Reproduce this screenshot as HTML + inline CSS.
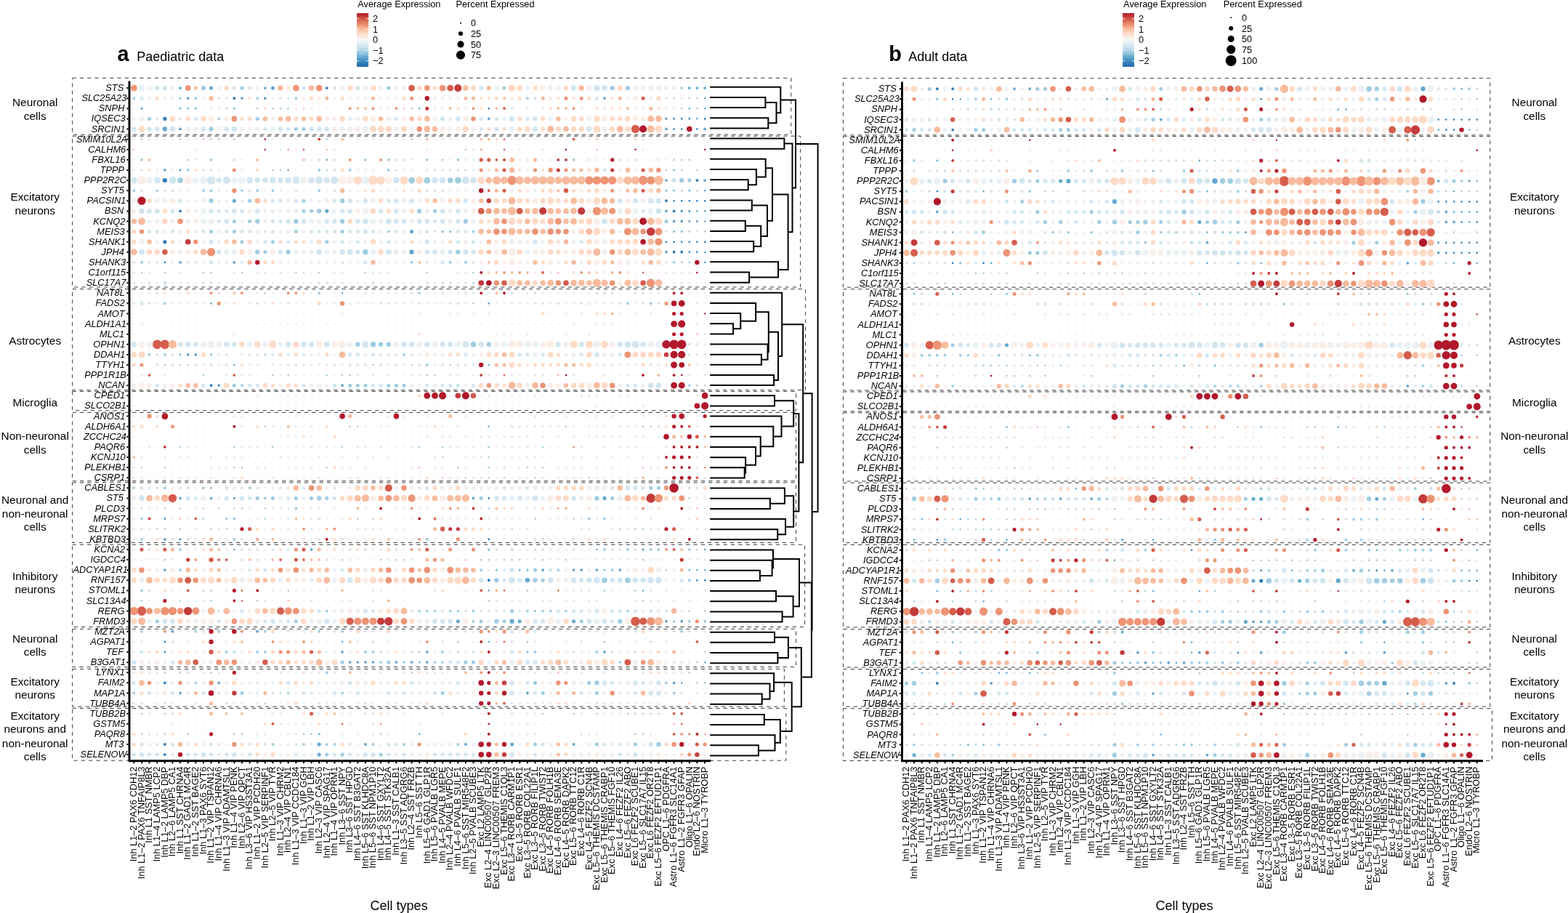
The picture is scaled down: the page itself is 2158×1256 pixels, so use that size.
<!DOCTYPE html>
<html lang="en"><head><meta charset="utf-8"><title>Dot plot: paediatric and adult data</title>
<style>html,body{margin:0;padding:0;background:#fff}svg{display:block}</style></head>
<body>
<svg xmlns="http://www.w3.org/2000/svg" width="2158" height="1256" viewBox="0 0 2158 1256" font-family='"Liberation Sans", Arial, Helvetica, sans-serif' fill="#000">
<rect width="2158" height="1256" fill="#fff"/>
<g fill="none" stroke="#3a3a3a" stroke-width="1" stroke-dasharray="5.3 5">
<rect x="99.6" y="107.3" width="989.2" height="77.9"/>
<rect x="99.6" y="187.2" width="1002" height="207.8"/>
<rect x="99.6" y="397.6" width="1009" height="139.1"/>
<rect x="99.6" y="538.4" width="995.9" height="26.4"/>
<rect x="99.6" y="567.4" width="995.9" height="94.3"/>
<rect x="99.6" y="663.9" width="995.9" height="82.5"/>
<rect x="99.6" y="749.2" width="1008" height="113.3"/>
<rect x="99.6" y="865.3" width="995.9" height="52.3"/>
<rect x="99.6" y="920.4" width="979.8" height="51.7"/>
<rect x="99.6" y="974.4" width="982.2" height="71.8"/>
</g>
<g fill="none" stroke-linecap="round">
<path stroke="#317cb7" stroke-width="1.4" d="M226.9 262.2h0"/>
<path stroke="#317cb7" stroke-width="2.65" d="M195 149.3h0M672.8 149.3h0M917 163.4h0M927.6 163.4h0M938.2 163.4h0M948.8 163.4h0M970.1 163.4h0M927.6 177.5h0M938.2 177.5h0M959.4 177.5h0M248.1 234h0M927.6 276.3h0M938.2 276.3h0M948.8 276.3h0M959.4 276.3h0M970.1 276.3h0M948.8 290.4h0M948.8 304.5h0M959.4 304.5h0M917 332.7h0M927.6 332.7h0M938.2 332.7h0M948.8 332.7h0M959.4 332.7h0M970.1 332.7h0M948.8 346.8h0M959.4 346.8h0M226.9 360.9h0M322.4 685.4h0M672.8 685.4h0M226.9 713.6h0M248.1 741.9h0M672.8 741.9h0M885.1 756h0M959.4 798.3h0M970.1 798.3h0M226.9 882.9h0M226.9 897h0"/>
<path stroke="#317cb7" stroke-width="3.9" d="M449.8 121.1h0M322.4 135.2h0M959.4 248.1h0M917 276.3h0M248.1 290.4h0M927.6 290.4h0M927.6 346.8h0M938.2 346.8h0M290.6 530.2h0M672.8 798.3h0M226.9 939.4h0M226.9 1024h0M226.9 1038.1h0"/>
<path stroke="#317cb7" stroke-width="5.15" d="M226.9 163.4h0M226.9 332.7h0"/>
<path stroke="#317cb7" stroke-width="6.4" d="M226.9 248.1h0"/>
<path stroke="#66a9cf" stroke-width="1.4" d="M195 516.1h0M333 516.1h0"/>
<path stroke="#66a9cf" stroke-width="2.65" d="M248.1 135.2h0M970.1 135.2h0M248.1 149.3h0M258.7 149.3h0M269.3 149.3h0M322.4 149.3h0M577.2 149.3h0M948.8 149.3h0M970.1 149.3h0M959.4 163.4h0M449.8 219.9h0M587.8 219.9h0M396.7 234h0M927.6 234h0M216.3 262.2h0M333 262.2h0M917 262.2h0M927.6 262.2h0M948.8 262.2h0M970.1 262.2h0M959.4 290.4h0M970.1 290.4h0M970.1 304.5h0M927.6 318.6h0M938.2 318.6h0M970.1 346.8h0M927.6 360.9h0M970.1 360.9h0M471.1 403.3h0M577.2 403.3h0M290.6 417.4h0M672.8 417.4h0M248.1 487.9h0M290.6 487.9h0M322.4 502h0M672.8 502h0M948.8 530.2h0M672.8 586.7h0M290.6 671.3h0M195 713.6h0M311.8 713.6h0M322.4 756h0M821.4 756h0M948.8 756h0M970.1 756h0M715.2 784.2h0M832 784.2h0M948.8 784.2h0M959.4 784.2h0M970.1 784.2h0M195 812.4h0M672.8 812.4h0M885.1 812.4h0M736.5 840.6h0M927.6 854.7h0M471.1 882.9h0M672.8 882.9h0M556 911.1h0M577.2 911.1h0M853.3 911.1h0M970.1 911.1h0M938.2 939.4h0M439.2 1009.9h0M577.2 1009.9h0"/>
<path stroke="#66a9cf" stroke-width="3.9" d="M248.1 121.1h0M364.9 121.1h0M948.8 121.1h0M959.4 121.1h0M970.1 121.1h0M258.7 135.2h0M333 135.2h0M364.9 135.2h0M832 135.2h0M672.8 163.4h0M248.1 177.5h0M917 177.5h0M970.1 177.5h0M226.9 234h0M917 248.1h0M970.1 248.1h0M917 290.4h0M938.2 290.4h0M927.6 304.5h0M938.2 304.5h0M917 346.8h0M248.1 360.9h0M322.4 360.9h0M258.7 487.9h0M269.3 487.9h0M301.2 530.2h0M471.1 530.2h0M248.1 685.4h0M290.6 685.4h0M651.5 685.4h0M226.9 741.9h0M428.6 756h0M226.9 784.2h0M747.1 784.2h0M789.6 784.2h0M800.2 784.2h0M821.4 784.2h0M853.3 784.2h0M917 854.7h0M938.2 854.7h0M237.5 868.8h0M354.3 868.8h0M471.1 897h0M587.8 897h0M832 897h0M481.7 911.1h0M492.3 911.1h0M502.9 911.1h0M513.5 911.1h0M545.4 911.1h0M566.6 911.1h0M587.8 911.1h0M301.2 939.4h0M927.6 939.4h0M248.1 953.5h0M725.9 953.5h0M502.9 1024h0M640.9 1024h0M789.6 1024h0"/>
<path stroke="#66a9cf" stroke-width="5.15" d="M290.6 121.1h0M375.5 121.1h0M322.4 276.3h0M449.8 290.4h0M566.6 318.6h0M832 685.4h0M630.3 854.7h0M715.2 854.7h0M789.6 854.7h0M439.2 1024h0M704.6 1024h0M439.2 1038.1h0"/>
<path stroke="#66a9cf" stroke-width="6.4" d="M226.9 177.5h0M566.6 346.8h0M725.9 798.3h0M704.6 854.7h0"/>
<path stroke="#a1cde2" stroke-width="2.65" d="M948.8 135.2h0M959.4 135.2h0M311.8 149.3h0M354.3 149.3h0M375.5 149.3h0M386.1 149.3h0M396.7 149.3h0M566.6 149.3h0M938.2 149.3h0M959.4 149.3h0M195 191.6h0M248.1 191.6h0M290.6 191.6h0M301.2 191.6h0M322.4 191.6h0M449.8 191.6h0M566.6 191.6h0M640.9 205.7h0M258.7 219.9h0M609.1 219.9h0M927.6 219.9h0M938.2 219.9h0M948.8 219.9h0M375.5 234h0M386.1 234h0M917 234h0M938.2 234h0M959.4 234h0M598.5 262.2h0M938.2 262.2h0M959.4 262.2h0M948.8 318.6h0M970.1 318.6h0M938.2 360.9h0M948.8 360.9h0M195 375h0M226.9 375h0M280 375h0M290.6 375h0M333 375h0M407.4 375h0M439.2 375h0M502.9 375h0M587.8 375h0M651.5 375h0M609.1 389.2h0M619.7 389.2h0M651.5 389.2h0M216.3 403.3h0M364.9 403.3h0M736.5 403.3h0M821.4 403.3h0M832 403.3h0M842.7 403.3h0M874.5 403.3h0M885.1 403.3h0M651.5 417.4h0M364.9 487.9h0M948.8 487.9h0M226.9 502h0M248.1 502h0M258.7 502h0M407.4 502h0M513.5 502h0M566.6 502h0M619.7 502h0M280 516.1h0M375.5 516.1h0M396.7 516.1h0M449.8 516.1h0M471.1 516.1h0M481.7 516.1h0M587.8 516.1h0M598.5 516.1h0M959.4 530.2h0M970.1 530.2h0M364.9 586.7h0M481.7 586.7h0M492.3 586.7h0M779 586.7h0M885.1 586.7h0M895.7 586.7h0M248.1 614.9h0M322.4 614.9h0M375.5 614.9h0M471.1 614.9h0M577.2 614.9h0M609.1 614.9h0M672.8 614.9h0M747.1 614.9h0M609.1 629h0M672.8 629h0M195 643.1h0M226.9 643.1h0M322.4 643.1h0M333 643.1h0M449.8 643.1h0M630.3 643.1h0M672.8 643.1h0M725.9 643.1h0M747.1 643.1h0M640.9 657.2h0M672.8 657.2h0M736.5 657.2h0M810.8 657.2h0M258.7 671.3h0M333 671.3h0M948.8 671.3h0M948.8 685.4h0M195 699.5h0M226.9 699.5h0M248.1 699.5h0M280 699.5h0M301.2 699.5h0M322.4 699.5h0M333 699.5h0M364.9 699.5h0M672.8 699.5h0M280 713.6h0M364.9 713.6h0M492.3 713.6h0M513.5 713.6h0M736.5 713.6h0M789.6 713.6h0M216.3 727.7h0M226.9 727.7h0M248.1 727.7h0M290.6 727.7h0M311.8 727.7h0M704.6 727.7h0M853.3 727.7h0M874.5 727.7h0M885.1 727.7h0M258.7 741.9h0M333 741.9h0M842.7 756h0M959.4 756h0M226.9 770.1h0M471.1 770.1h0M524.1 770.1h0M545.4 770.1h0M556 770.1h0M662.2 770.1h0M672.8 770.1h0M694 770.1h0M715.2 770.1h0M747.1 770.1h0M779 770.1h0M885.1 770.1h0M917 784.2h0M205.6 812.4h0M290.6 812.4h0M396.7 812.4h0M725.9 812.4h0M832 812.4h0M874.5 812.4h0M195 826.5h0M248.1 826.5h0M290.6 826.5h0M354.3 826.5h0M672.8 826.5h0M885.1 826.5h0M640.9 840.6h0M948.8 840.6h0M970.1 840.6h0M927.6 868.8h0M948.8 868.8h0M513.5 882.9h0M630.3 882.9h0M725.9 882.9h0M832 882.9h0M895.7 882.9h0M577.2 897h0M651.5 897h0M970.1 897h0M959.4 911.1h0M226.9 925.3h0M248.1 925.3h0M290.6 925.3h0M566.6 925.3h0M948.8 925.3h0M959.4 939.4h0M970.1 939.4h0M195 981.7h0M226.9 981.7h0M704.6 981.7h0M747.1 981.7h0M789.6 981.7h0M821.4 981.7h0M863.9 981.7h0M885.1 981.7h0M895.7 981.7h0M906.4 981.7h0M195 1009.9h0M226.9 1009.9h0M258.7 1009.9h0M322.4 1009.9h0M333 1009.9h0M418 1009.9h0M428.6 1009.9h0M524.1 1009.9h0M874.5 1009.9h0M885.1 1009.9h0"/>
<path stroke="#a1cde2" stroke-width="3.9" d="M938.2 121.1h0M184.4 135.2h0M269.3 135.2h0M354.3 135.2h0M407.4 135.2h0M725.9 135.2h0M301.2 163.4h0M195 219.9h0M290.6 219.9h0M502.9 219.9h0M534.8 219.9h0M630.3 219.9h0M789.6 219.9h0M258.7 234h0M439.2 234h0M481.7 234h0M534.8 234h0M184.4 262.2h0M280 262.2h0M290.6 262.2h0M354.3 262.2h0M375.5 262.2h0M439.2 262.2h0M534.8 318.6h0M609.1 318.6h0M619.7 318.6h0M651.5 318.6h0M195 360.9h0M566.6 360.9h0M619.7 360.9h0M640.9 360.9h0M439.2 403.3h0M226.9 417.4h0M863.9 417.4h0M895.7 417.4h0M205.6 487.9h0M226.9 487.9h0M556 487.9h0M587.8 502h0M333 530.2h0M184.4 671.3h0M226.9 671.3h0M280 671.3h0M343.7 671.3h0M364.9 685.4h0M407.4 699.5h0M322.4 713.6h0M810.8 713.6h0M832 713.6h0M195 741.9h0M322.4 741.9h0M587.8 741.9h0M248.1 756h0M672.8 756h0M832 756h0M863.9 756h0M895.7 756h0M906.4 756h0M248.1 784.2h0M662.2 784.2h0M683.4 784.2h0M725.9 784.2h0M768.3 784.2h0M842.7 784.2h0M948.8 798.3h0M449.8 840.6h0M577.2 840.6h0M587.8 840.6h0M598.5 840.6h0M619.7 840.6h0M630.3 840.6h0M651.5 840.6h0M725.9 840.6h0M747.1 840.6h0M757.7 840.6h0M779 840.6h0M863.9 840.6h0M651.5 854.7h0M948.8 854.7h0M970.1 854.7h0M195 868.8h0M269.3 868.8h0M301.2 868.8h0M364.9 868.8h0M439.2 868.8h0M471.1 868.8h0M938.2 868.8h0M311.8 897h0M354.3 897h0M364.9 897h0M502.9 897h0M513.5 897h0M609.1 897h0M725.9 897h0M736.5 897h0M821.4 897h0M524.1 911.1h0M598.5 911.1h0M609.1 911.1h0M449.8 925.3h0M269.3 939.4h0M917 939.4h0M184.4 953.5h0M396.7 953.5h0M471.1 953.5h0M927.6 953.5h0M375.5 1024h0M418 1024h0M449.8 1024h0M460.4 1024h0M513.5 1024h0M556 1024h0M630.3 1024h0"/>
<path stroke="#a1cde2" stroke-width="5.15" d="M333 121.1h0M534.8 121.1h0M694 121.1h0M205.6 163.4h0M354.3 163.4h0M407.4 177.5h0M418 177.5h0M948.8 248.1h0M343.7 276.3h0M418 276.3h0M418 290.4h0M428.6 290.4h0M598.5 290.4h0M322.4 304.5h0M343.7 304.5h0M917 304.5h0M290.6 318.6h0M322.4 318.6h0M407.4 318.6h0M471.1 318.6h0M333 332.7h0M375.5 332.7h0M449.8 332.7h0M364.9 346.8h0M322.4 530.2h0M481.7 530.2h0M492.3 530.2h0M502.9 530.2h0M534.8 530.2h0M545.4 530.2h0M556 530.2h0M895.7 671.3h0M906.4 671.3h0M354.3 685.4h0M375.5 685.4h0M407.4 685.4h0M428.6 685.4h0M449.8 685.4h0M662.2 685.4h0M842.7 685.4h0M736.5 784.2h0M747.1 798.3h0M704.6 840.6h0M216.3 854.7h0M407.4 854.7h0M662.2 854.7h0M694 854.7h0M800.2 854.7h0M471.1 911.1h0M534.8 911.1h0M640.9 911.1h0M651.5 911.1h0M736.5 939.4h0M810.8 939.4h0M333 953.5h0M609.1 953.5h0M747.1 953.5h0M821.4 953.5h0M736.5 1024h0M821.4 1024h0M874.5 1024h0M449.8 1038.1h0M471.1 1038.1h0M524.1 1038.1h0"/>
<path stroke="#a1cde2" stroke-width="6.4" d="M280 121.1h0M842.7 121.1h0M863.9 121.1h0M290.6 177.5h0M938.2 248.1h0M290.6 276.3h0M471.1 276.3h0M439.2 290.4h0M577.2 290.4h0M354.3 304.5h0M407.4 304.5h0M471.1 304.5h0M640.9 304.5h0M354.3 346.8h0M396.7 346.8h0M630.3 346.8h0M492.3 473.8h0M524.1 473.8h0M534.8 473.8h0M672.8 473.8h0M439.2 685.4h0M821.4 685.4h0M683.4 798.3h0M736.5 798.3h0M683.4 854.7h0M853.3 854.7h0M821.4 939.4h0M906.4 1024h0"/>
<path stroke="#a1cde2" stroke-width="7.65" d="M248.1 248.1h0M619.7 248.1h0M502.9 346.8h0M513.5 473.8h0M651.5 473.8h0M832 798.3h0M863.9 798.3h0"/>
<path stroke="#a1cde2" stroke-width="8.9" d="M566.6 248.1h0M587.8 248.1h0M630.3 248.1h0"/>
<path stroke="#b2182b" stroke-width="2.65" d="M364.9 191.6h0M779 205.7h0M874.5 205.7h0M970.1 205.7h0M959.4 375h0M779 516.1h0M938.2 516.1h0M672.8 995.8h0"/>
<path stroke="#b2182b" stroke-width="3.9" d="M662.2 375h0M662.2 403.3h0M694 403.3h0M927.6 403.3h0M938.2 403.3h0M885.1 516.1h0M927.6 516.1h0M322.4 586.7h0M938.2 586.7h0M927.6 614.9h0M938.2 614.9h0M948.8 614.9h0M959.4 614.9h0M917 629h0M948.8 629h0M927.6 643.1h0M938.2 643.1h0M948.8 643.1h0M524.1 699.5h0M938.2 699.5h0M577.2 713.6h0M662.2 713.6h0M449.8 741.9h0M948.8 741.9h0M354.3 812.4h0M322.4 826.5h0M662.2 882.9h0M672.8 897h0M672.8 925.3h0M672.8 981.7h0M672.8 1009.9h0M959.4 1009.9h0"/>
<path stroke="#b2182b" stroke-width="5.15" d="M842.7 219.9h0M927.6 431.5h0M938.2 431.5h0M927.6 459.7h0M938.2 459.7h0M970.1 572.6h0M927.6 586.7h0M927.6 629h0M938.2 629h0M927.6 657.2h0M938.2 657.2h0M948.8 657.2h0M333 727.7h0M917 727.7h0M322.4 812.4h0M226.9 826.5h0M322.4 925.3h0M672.8 939.4h0M672.8 953.5h0M672.8 967.6h0M290.6 1009.9h0"/>
<path stroke="#b2182b" stroke-width="6.4" d="M587.8 135.2h0M662.2 262.2h0M354.3 360.9h0M959.4 360.9h0M662.2 502h0M927.6 572.6h0M948.8 600.8h0M290.6 868.8h0M322.4 868.8h0M290.6 882.9h0M662.2 953.5h0M694 953.5h0M662.2 967.6h0M672.8 1024h0M694 1024h0M938.2 1024h0M248.1 1038.1h0"/>
<path stroke="#b2182b" stroke-width="7.65" d="M948.8 177.5h0M885.1 332.7h0M672.8 389.2h0M927.6 417.4h0M938.2 502h0M959.4 558.4h0M471.1 572.6h0M545.4 572.6h0M938.2 572.6h0M917 600.8h0M662.2 939.4h0M290.6 953.5h0M662.2 1024h0M662.2 1038.1h0M672.8 1038.1h0"/>
<path stroke="#b2182b" stroke-width="8.9" d="M938.2 417.4h0M927.6 445.6h0M927.6 502h0M927.6 530.2h0M938.2 530.2h0M587.8 544.3h0M598.5 544.3h0M970.1 544.3h0M226.9 572.6h0"/>
<path stroke="#b2182b" stroke-width="10.15" d="M885.1 177.5h0M885.1 304.5h0M938.2 445.6h0M927.6 487.9h0M938.2 487.9h0M609.1 544.3h0M640.9 544.3h0M970.1 558.4h0"/>
<path stroke="#b2182b" stroke-width="11.4" d="M195 276.3h0M917 473.8h0"/>
<path stroke="#b2182b" stroke-width="12.65" d="M927.6 473.8h0M938.2 473.8h0M927.6 671.3h0"/>
<path stroke="#c33b3b" stroke-width="2.65" d="M364.9 205.7h0M970.1 431.5h0"/>
<path stroke="#c33b3b" stroke-width="3.9" d="M439.2 191.6h0M694 219.9h0M768.3 219.9h0M779 219.9h0M662.2 516.1h0M226.9 614.9h0M651.5 699.5h0M205.6 713.6h0"/>
<path stroke="#c33b3b" stroke-width="5.15" d="M587.8 149.3h0M768.3 234h0M842.7 234h0M619.7 727.7h0M630.3 727.7h0M258.7 770.1h0M938.2 770.1h0"/>
<path stroke="#c33b3b" stroke-width="6.4" d="M672.8 276.3h0M917 487.9h0M694 939.4h0M322.4 953.5h0M694 1038.1h0M959.4 1038.1h0"/>
<path stroke="#c33b3b" stroke-width="7.65" d="M258.7 332.7h0M662.2 389.2h0M630.3 544.3h0"/>
<path stroke="#c33b3b" stroke-width="10.15" d="M630.3 121.1h0M747.1 290.4h0M800.2 290.4h0M524.1 854.7h0"/>
<path stroke="#c33b3b" stroke-width="11.4" d="M895.7 318.6h0M258.7 840.6h0M534.8 854.7h0"/>
<path stroke="#c33b3b" stroke-width="12.65" d="M895.7 685.4h0"/>
<path stroke="#d3e6f0" stroke-width="1.4" d="M301.2 205.7h0M354.3 205.7h0M481.7 205.7h0M672.8 205.7h0M704.6 205.7h0M725.9 205.7h0M736.5 205.7h0M959.4 205.7h0"/>
<path stroke="#d3e6f0" stroke-width="2.65" d="M938.2 135.2h0M290.6 149.3h0M428.6 149.3h0M725.9 149.3h0M747.1 149.3h0M917 149.3h0M927.6 149.3h0M205.6 191.6h0M258.7 191.6h0M269.3 191.6h0M407.4 191.6h0M492.3 191.6h0M556 191.6h0M609.1 191.6h0M619.7 191.6h0M885.1 191.6h0M386.1 205.7h0M587.8 205.7h0M651.5 205.7h0M885.1 205.7h0M269.3 219.9h0M566.6 219.9h0M598.5 219.9h0M619.7 219.9h0M917 219.9h0M301.2 234h0M970.1 234h0M258.7 262.2h0M301.2 262.2h0M386.1 262.2h0M524.1 262.2h0M959.4 318.6h0M184.4 375h0M205.6 375h0M248.1 375h0M322.4 375h0M354.3 375h0M364.9 375h0M386.1 375h0M418 375h0M460.4 375h0M471.1 375h0M513.5 375h0M524.1 375h0M534.8 375h0M630.3 375h0M640.9 375h0M917 375h0M927.6 375h0M938.2 375h0M948.8 375h0M195 389.2h0M216.3 389.2h0M237.5 389.2h0M248.1 389.2h0M258.7 389.2h0M301.2 389.2h0M333 389.2h0M364.9 389.2h0M375.5 389.2h0M407.4 389.2h0M418 389.2h0M428.6 389.2h0M460.4 389.2h0M492.3 389.2h0M502.9 389.2h0M524.1 389.2h0M534.8 389.2h0M545.4 389.2h0M556 389.2h0M566.6 389.2h0M598.5 389.2h0M630.3 389.2h0M927.6 389.2h0M938.2 389.2h0M948.8 389.2h0M205.6 403.3h0M269.3 403.3h0M354.3 403.3h0M375.5 403.3h0M428.6 403.3h0M460.4 403.3h0M513.5 403.3h0M534.8 403.3h0M545.4 403.3h0M556 403.3h0M630.3 403.3h0M672.8 403.3h0M725.9 403.3h0M747.1 403.3h0M810.8 403.3h0M906.4 403.3h0M948.8 403.3h0M269.3 417.4h0M959.4 417.4h0M471.1 431.5h0M619.7 431.5h0M630.3 431.5h0M651.5 431.5h0M672.8 431.5h0M779 431.5h0M853.3 431.5h0M874.5 431.5h0M895.7 431.5h0M779 459.7h0M810.8 459.7h0M959.4 487.9h0M301.2 502h0M386.1 502h0M418 502h0M428.6 502h0M449.8 502h0M534.8 502h0M556 502h0M598.5 502h0M311.8 516.1h0M343.7 516.1h0M386.1 516.1h0M492.3 516.1h0M513.5 516.1h0M534.8 516.1h0M566.6 516.1h0M619.7 516.1h0M630.3 516.1h0M651.5 516.1h0M672.8 516.1h0M704.6 516.1h0M736.5 516.1h0M747.1 516.1h0M789.6 516.1h0M948.8 516.1h0M970.1 516.1h0M672.8 544.3h0M736.5 544.3h0M800.2 544.3h0M810.8 544.3h0M821.4 544.3h0M853.3 544.3h0M863.9 544.3h0M195 572.6h0M322.4 572.6h0M333 572.6h0M407.4 572.6h0M534.8 572.6h0M587.8 572.6h0M609.1 572.6h0M640.9 572.6h0M736.5 572.6h0M779 572.6h0M810.8 572.6h0M821.4 572.6h0M842.7 572.6h0M885.1 572.6h0M906.4 572.6h0M333 586.7h0M375.5 586.7h0M407.4 586.7h0M428.6 586.7h0M502.9 586.7h0M524.1 586.7h0M609.1 586.7h0M630.3 586.7h0M715.2 586.7h0M725.9 586.7h0M736.5 586.7h0M747.1 586.7h0M757.7 586.7h0M768.3 586.7h0M789.6 586.7h0M810.8 586.7h0M821.4 586.7h0M832 586.7h0M853.3 586.7h0M863.9 586.7h0M874.5 586.7h0M587.8 600.8h0M609.1 600.8h0M619.7 600.8h0M640.9 600.8h0M662.2 600.8h0M672.8 600.8h0M694 600.8h0M704.6 600.8h0M715.2 600.8h0M725.9 600.8h0M747.1 600.8h0M768.3 600.8h0M789.6 600.8h0M821.4 600.8h0M832 600.8h0M842.7 600.8h0M853.3 600.8h0M874.5 600.8h0M885.1 600.8h0M906.4 600.8h0M205.6 614.9h0M258.7 614.9h0M333 614.9h0M354.3 614.9h0M428.6 614.9h0M449.8 614.9h0M492.3 614.9h0M502.9 614.9h0M524.1 614.9h0M566.6 614.9h0M619.7 614.9h0M630.3 614.9h0M651.5 614.9h0M704.6 614.9h0M715.2 614.9h0M725.9 614.9h0M800.2 614.9h0M832 614.9h0M853.3 614.9h0M863.9 614.9h0M874.5 614.9h0M195 629h0M226.9 629h0M248.1 629h0M258.7 629h0M290.6 629h0M311.8 629h0M322.4 629h0M333 629h0M386.1 629h0M396.7 629h0M439.2 629h0M471.1 629h0M492.3 629h0M513.5 629h0M534.8 629h0M598.5 629h0M640.9 629h0M651.5 629h0M662.2 629h0M704.6 629h0M725.9 629h0M736.5 629h0M789.6 629h0M800.2 629h0M821.4 629h0M842.7 629h0M863.9 629h0M885.1 629h0M906.4 629h0M184.4 643.1h0M290.6 643.1h0M301.2 643.1h0M364.9 643.1h0M407.4 643.1h0M428.6 643.1h0M471.1 643.1h0M481.7 643.1h0M502.9 643.1h0M566.6 643.1h0M598.5 643.1h0M609.1 643.1h0M640.9 643.1h0M715.2 643.1h0M736.5 643.1h0M779 643.1h0M789.6 643.1h0M800.2 643.1h0M821.4 643.1h0M842.7 643.1h0M895.7 643.1h0M906.4 643.1h0M184.4 657.2h0M195 657.2h0M226.9 657.2h0M248.1 657.2h0M258.7 657.2h0M269.3 657.2h0M290.6 657.2h0M322.4 657.2h0M375.5 657.2h0M481.7 657.2h0M492.3 657.2h0M534.8 657.2h0M566.6 657.2h0M619.7 657.2h0M630.3 657.2h0M651.5 657.2h0M715.2 657.2h0M725.9 657.2h0M747.1 657.2h0M779 657.2h0M789.6 657.2h0M800.2 657.2h0M821.4 657.2h0M832 657.2h0M853.3 657.2h0M874.5 657.2h0M906.4 657.2h0M184.4 699.5h0M205.6 699.5h0M216.3 699.5h0M269.3 699.5h0M343.7 699.5h0M375.5 699.5h0M386.1 699.5h0M396.7 699.5h0M428.6 699.5h0M439.2 699.5h0M460.4 699.5h0M577.2 699.5h0M587.8 699.5h0M640.9 699.5h0M662.2 699.5h0M725.9 699.5h0M821.4 699.5h0M853.3 699.5h0M948.8 699.5h0M970.1 699.5h0M184.4 713.6h0M396.7 713.6h0M428.6 713.6h0M471.1 713.6h0M566.6 713.6h0M619.7 713.6h0M672.8 713.6h0M704.6 713.6h0M757.7 713.6h0M779 713.6h0M800.2 713.6h0M821.4 713.6h0M874.5 713.6h0M948.8 713.6h0M184.4 727.7h0M205.6 727.7h0M269.3 727.7h0M301.2 727.7h0M322.4 727.7h0M396.7 727.7h0M428.6 727.7h0M492.3 727.7h0M502.9 727.7h0M513.5 727.7h0M524.1 727.7h0M672.8 727.7h0M725.9 727.7h0M800.2 727.7h0M810.8 727.7h0M842.7 727.7h0M863.9 727.7h0M895.7 727.7h0M906.4 727.7h0M959.4 727.7h0M970.1 727.7h0M184.4 741.9h0M269.3 741.9h0M301.2 741.9h0M311.8 741.9h0M386.1 741.9h0M428.6 741.9h0M216.3 770.1h0M237.5 770.1h0M364.9 770.1h0M481.7 770.1h0M492.3 770.1h0M513.5 770.1h0M534.8 770.1h0M566.6 770.1h0M683.4 770.1h0M725.9 770.1h0M736.5 770.1h0M757.7 770.1h0M768.3 770.1h0M789.6 770.1h0M800.2 770.1h0M810.8 770.1h0M821.4 770.1h0M832 770.1h0M842.7 770.1h0M853.3 770.1h0M863.9 770.1h0M874.5 770.1h0M895.7 770.1h0M906.4 770.1h0M948.8 770.1h0M959.4 770.1h0M970.1 770.1h0M311.8 812.4h0M375.5 812.4h0M449.8 812.4h0M598.5 812.4h0M640.9 812.4h0M736.5 812.4h0M747.1 812.4h0M779 812.4h0M789.6 812.4h0M800.2 812.4h0M810.8 812.4h0M917 812.4h0M938.2 812.4h0M970.1 812.4h0M258.7 826.5h0M269.3 826.5h0M280 826.5h0M481.7 826.5h0M513.5 826.5h0M683.4 826.5h0M704.6 826.5h0M715.2 826.5h0M747.1 826.5h0M757.7 826.5h0M779 826.5h0M789.6 826.5h0M810.8 826.5h0M821.4 826.5h0M874.5 826.5h0M895.7 826.5h0M906.4 826.5h0M948.8 826.5h0M938.2 840.6h0M917 868.8h0M970.1 868.8h0M195 882.9h0M258.7 882.9h0M492.3 882.9h0M534.8 882.9h0M577.2 882.9h0M609.1 882.9h0M736.5 882.9h0M779 882.9h0M800.2 882.9h0M853.3 882.9h0M874.5 882.9h0M917 882.9h0M917 897h0M184.4 925.3h0M205.6 925.3h0M216.3 925.3h0M280 925.3h0M301.2 925.3h0M354.3 925.3h0M439.2 925.3h0M460.4 925.3h0M524.1 925.3h0M556 925.3h0M587.8 925.3h0M598.5 925.3h0M736.5 925.3h0M779 925.3h0M800.2 925.3h0M832 925.3h0M885.1 925.3h0M917 925.3h0M927.6 925.3h0M938.2 925.3h0M959.4 953.5h0M970.1 953.5h0M269.3 967.6h0M333 967.6h0M354.3 967.6h0M205.6 981.7h0M386.1 981.7h0M556 981.7h0M725.9 981.7h0M736.5 981.7h0M800.2 981.7h0M832 981.7h0M842.7 981.7h0M853.3 981.7h0M386.1 995.8h0M418 995.8h0M449.8 995.8h0M481.7 995.8h0M513.5 995.8h0M725.9 995.8h0M205.6 1009.9h0M216.3 1009.9h0M364.9 1009.9h0M396.7 1009.9h0M407.4 1009.9h0M471.1 1009.9h0M492.3 1009.9h0M513.5 1009.9h0M534.8 1009.9h0M704.6 1009.9h0M725.9 1009.9h0M736.5 1009.9h0M810.8 1009.9h0M821.4 1009.9h0M895.7 1009.9h0"/>
<path stroke="#d3e6f0" stroke-width="3.9" d="M917 121.1h0M927.6 121.1h0M301.2 135.2h0M311.8 135.2h0M386.1 135.2h0M396.7 135.2h0M736.5 135.2h0M917 135.2h0M927.6 135.2h0M704.6 149.3h0M832 149.3h0M248.1 163.4h0M439.2 219.9h0M545.4 219.9h0M556 219.9h0M853.3 219.9h0M874.5 219.9h0M195 234h0M280 234h0M290.6 234h0M449.8 234h0M460.4 234h0M545.4 234h0M598.5 234h0M609.1 234h0M619.7 234h0M630.3 234h0M640.9 234h0M195 262.2h0M237.5 262.2h0M343.7 262.2h0M407.4 262.2h0M460.4 262.2h0M587.8 262.2h0M609.1 262.2h0M364.9 318.6h0M598.5 318.6h0M917 318.6h0M184.4 360.9h0M205.6 360.9h0M216.3 360.9h0M258.7 360.9h0M269.3 360.9h0M333 360.9h0M471.1 360.9h0M587.8 360.9h0M651.5 360.9h0M917 360.9h0M184.4 389.2h0M205.6 389.2h0M280 389.2h0M290.6 389.2h0M439.2 389.2h0M449.8 389.2h0M471.1 389.2h0M513.5 389.2h0M587.8 389.2h0M640.9 389.2h0M502.9 403.3h0M566.6 403.3h0M609.1 403.3h0M640.9 403.3h0M651.5 403.3h0M704.6 403.3h0M184.4 417.4h0M205.6 417.4h0M354.3 417.4h0M396.7 417.4h0M524.1 417.4h0M534.8 417.4h0M577.2 417.4h0M619.7 417.4h0M630.3 417.4h0M704.6 417.4h0M736.5 417.4h0M747.1 417.4h0M768.3 417.4h0M800.2 417.4h0M853.3 417.4h0M885.1 417.4h0M906.4 417.4h0M948.8 473.8h0M216.3 487.9h0M237.5 487.9h0M311.8 487.9h0M343.7 487.9h0M354.3 487.9h0M375.5 487.9h0M396.7 487.9h0M418 487.9h0M524.1 487.9h0M534.8 487.9h0M545.4 487.9h0M566.6 487.9h0M970.1 487.9h0M216.3 502h0M237.5 502h0M269.3 502h0M290.6 502h0M311.8 502h0M460.4 502h0M481.7 502h0M492.3 502h0M502.9 502h0M524.1 502h0M545.4 502h0M577.2 502h0M609.1 502h0M630.3 502h0M640.9 502h0M651.5 502h0M895.7 502h0M704.6 586.7h0M906.4 586.7h0M216.3 671.3h0M248.1 671.3h0M354.3 671.3h0M386.1 671.3h0M418 671.3h0M460.4 671.3h0M577.2 671.3h0M959.4 671.3h0M439.2 713.6h0M195 727.7h0M237.5 741.9h0M439.2 741.9h0M471.1 741.9h0M736.5 741.9h0M747.1 741.9h0M789.6 741.9h0M205.6 756h0M333 756h0M343.7 756h0M354.3 756h0M375.5 756h0M396.7 756h0M481.7 756h0M502.9 756h0M545.4 756h0M683.4 756h0M736.5 756h0M747.1 756h0M789.6 756h0M853.3 756h0M874.5 756h0M704.6 770.1h0M322.4 784.2h0M343.7 784.2h0M694 784.2h0M280 812.4h0M301.2 840.6h0M566.6 840.6h0M609.1 840.6h0M662.2 840.6h0M672.8 840.6h0M694 840.6h0M715.2 840.6h0M917 840.6h0M280 868.8h0M396.7 868.8h0M418 868.8h0M460.4 868.8h0M502.9 868.8h0M513.5 868.8h0M619.7 868.8h0M640.9 868.8h0M736.5 868.8h0M800.2 868.8h0M810.8 868.8h0M821.4 868.8h0M874.5 868.8h0M237.5 882.9h0M704.6 882.9h0M524.1 897h0M566.6 897h0M630.3 897h0M789.6 897h0M842.7 897h0M874.5 897h0M927.6 911.1h0M938.2 911.1h0M258.7 925.3h0M301.2 953.5h0M375.5 953.5h0M386.1 953.5h0M428.6 953.5h0M917 953.5h0M938.2 953.5h0M184.4 967.6h0M195 967.6h0M226.9 967.6h0M311.8 967.6h0M364.9 967.6h0M439.2 967.6h0M502.9 967.6h0M704.6 967.6h0M736.5 967.6h0M821.4 967.6h0M832 967.6h0M237.5 981.7h0M502.9 981.7h0M513.5 981.7h0M874.5 981.7h0M216.3 1024h0M343.7 1024h0M364.9 1024h0M407.4 1024h0M481.7 1024h0M301.2 1038.1h0"/>
<path stroke="#d3e6f0" stroke-width="5.15" d="M322.4 121.1h0M343.7 121.1h0M418 121.1h0M460.4 121.1h0M195 135.2h0M821.4 135.2h0M269.3 163.4h0M545.4 163.4h0M662.2 163.4h0M683.4 163.4h0M725.9 163.4h0M364.9 177.5h0M396.7 177.5h0M662.2 177.5h0M832 234h0M248.1 276.3h0M375.5 276.3h0M386.1 276.3h0M407.4 276.3h0M460.4 276.3h0M534.8 276.3h0M301.2 290.4h0M311.8 290.4h0M333 290.4h0M885.1 290.4h0M301.2 304.5h0M375.5 304.5h0M386.1 304.5h0M598.5 304.5h0M205.6 318.6h0M216.3 318.6h0M237.5 318.6h0M280 318.6h0M311.8 318.6h0M333 318.6h0M343.7 318.6h0M375.5 318.6h0M428.6 318.6h0M439.2 318.6h0M449.8 318.6h0M460.4 318.6h0M481.7 318.6h0M492.3 318.6h0M513.5 318.6h0M545.4 318.6h0M587.8 318.6h0M630.3 318.6h0M640.9 318.6h0M364.9 332.7h0M396.7 332.7h0M471.1 332.7h0M492.3 332.7h0M534.8 332.7h0M630.3 332.7h0M651.5 332.7h0M800.2 332.7h0M290.6 360.9h0M502.9 360.9h0M609.1 360.9h0M226.9 389.2h0M195 417.4h0M481.7 487.9h0M492.3 487.9h0M513.5 487.9h0M640.9 487.9h0M715.2 487.9h0M725.9 487.9h0M747.1 487.9h0M800.2 487.9h0M853.3 487.9h0M216.3 530.2h0M280 530.2h0M343.7 530.2h0M354.3 530.2h0M418 530.2h0M460.4 530.2h0M513.5 530.2h0M524.1 530.2h0M587.8 530.2h0M609.1 530.2h0M619.7 530.2h0M630.3 530.2h0M651.5 530.2h0M863.9 530.2h0M874.5 530.2h0M195 671.3h0M311.8 671.3h0M587.8 671.3h0M694 671.3h0M725.9 671.3h0M842.7 671.3h0M885.1 671.3h0M269.3 685.4h0M343.7 685.4h0M396.7 685.4h0M460.4 685.4h0M704.6 756h0M364.9 784.2h0M471.1 784.2h0M757.7 784.2h0M694 798.3h0M938.2 798.3h0M333 840.6h0M439.2 840.6h0M513.5 840.6h0M768.3 840.6h0M789.6 840.6h0M800.2 840.6h0M842.7 840.6h0M853.3 840.6h0M874.5 840.6h0M895.7 840.6h0M301.2 854.7h0M364.9 854.7h0M396.7 854.7h0M842.7 854.7h0M704.6 868.8h0M195 897h0M322.4 897h0M704.6 897h0M237.5 911.1h0M619.7 911.1h0M630.3 911.1h0M184.4 939.4h0M396.7 939.4h0M481.7 939.4h0M566.6 939.4h0M630.3 939.4h0M725.9 939.4h0M842.7 939.4h0M885.1 939.4h0M205.6 953.5h0M237.5 953.5h0M280 953.5h0M418 953.5h0M460.4 953.5h0M492.3 953.5h0M534.8 953.5h0M556 953.5h0M598.5 953.5h0M736.5 953.5h0M800.2 953.5h0M874.5 953.5h0M195 1024h0M237.5 1024h0M290.6 1024h0M534.8 1024h0M545.4 1024h0M747.1 1024h0M832 1024h0M853.3 1024h0M184.4 1038.1h0M205.6 1038.1h0M216.3 1038.1h0M258.7 1038.1h0M269.3 1038.1h0M290.6 1038.1h0M311.8 1038.1h0M343.7 1038.1h0M407.4 1038.1h0M460.4 1038.1h0M481.7 1038.1h0M534.8 1038.1h0M556 1038.1h0M598.5 1038.1h0M609.1 1038.1h0M619.7 1038.1h0M630.3 1038.1h0M640.9 1038.1h0M651.5 1038.1h0M736.5 1038.1h0M853.3 1038.1h0"/>
<path stroke="#d3e6f0" stroke-width="6.4" d="M216.3 121.1h0M226.9 121.1h0M492.3 121.1h0M662.2 121.1h0M609.1 163.4h0M630.3 163.4h0M736.5 163.4h0M184.4 177.5h0M205.6 177.5h0M216.3 177.5h0M280 177.5h0M311.8 177.5h0M386.1 177.5h0M428.6 177.5h0M439.2 177.5h0M449.8 177.5h0M683.4 177.5h0M927.6 248.1h0M481.7 276.3h0M502.9 276.3h0M545.4 276.3h0M566.6 276.3h0M640.9 276.3h0M853.3 276.3h0M874.5 276.3h0M205.6 290.4h0M216.3 290.4h0M237.5 290.4h0M290.6 290.4h0M322.4 290.4h0M354.3 290.4h0M471.1 290.4h0M481.7 290.4h0M524.1 290.4h0M545.4 290.4h0M609.1 290.4h0M630.3 290.4h0M311.8 304.5h0M396.7 304.5h0M418 304.5h0M449.8 304.5h0M460.4 304.5h0M492.3 304.5h0M545.4 304.5h0M556 304.5h0M577.2 304.5h0M587.8 304.5h0M609.1 304.5h0M630.3 304.5h0M502.9 318.6h0M290.6 332.7h0M587.8 332.7h0M736.5 332.7h0M301.2 346.8h0M386.1 346.8h0M492.3 346.8h0M587.8 346.8h0M598.5 346.8h0M619.7 346.8h0M651.5 346.8h0M248.1 473.8h0M269.3 473.8h0M322.4 473.8h0M821.4 487.9h0M863.9 671.3h0M874.5 671.3h0M258.7 685.4h0M311.8 685.4h0M333 685.4h0M683.4 685.4h0M694 685.4h0M715.2 685.4h0M789.6 685.4h0M704.6 784.2h0M662.2 798.3h0M715.2 798.3h0M800.2 798.3h0M842.7 798.3h0M502.9 840.6h0M821.4 840.6h0M226.9 854.7h0M237.5 854.7h0M375.5 854.7h0M598.5 854.7h0M609.1 854.7h0M619.7 854.7h0M736.5 854.7h0M747.1 854.7h0M810.8 854.7h0M832 854.7h0M184.4 911.1h0M725.9 911.1h0M736.5 911.1h0M704.6 939.4h0M832 939.4h0M874.5 939.4h0M906.4 939.4h0M704.6 953.5h0M895.7 953.5h0M906.4 953.5h0M895.7 1024h0M195 1038.1h0M280 1038.1h0M322.4 1038.1h0M502.9 1038.1h0M513.5 1038.1h0M704.6 1038.1h0M874.5 1038.1h0"/>
<path stroke="#d3e6f0" stroke-width="7.65" d="M789.6 121.1h0M832 121.1h0M704.6 163.4h0M237.5 177.5h0M322.4 177.5h0M736.5 177.5h0M810.8 177.5h0M301.2 248.1h0M354.3 248.1h0M364.9 248.1h0M386.1 248.1h0M895.7 276.3h0M906.4 276.3h0M195 290.4h0M906.4 290.4h0M502.9 304.5h0M534.8 304.5h0M832 304.5h0M195 346.8h0M439.2 346.8h0M471.1 346.8h0M481.7 346.8h0M534.8 346.8h0M640.9 346.8h0M184.4 473.8h0M258.7 473.8h0M311.8 473.8h0M396.7 473.8h0M418 473.8h0M428.6 473.8h0M449.8 473.8h0M556 473.8h0M566.6 473.8h0M587.8 473.8h0M609.1 473.8h0M619.7 473.8h0M662.2 473.8h0M768.3 473.8h0M800.2 473.8h0M853.3 473.8h0M885.1 473.8h0M895.7 530.2h0M906.4 530.2h0M195 685.4h0M736.5 685.4h0M481.7 798.3h0M757.7 798.3h0M789.6 798.3h0M810.8 798.3h0M853.3 798.3h0M874.5 798.3h0M885.1 798.3h0M449.8 854.7h0"/>
<path stroke="#d3e6f0" stroke-width="8.9" d="M821.4 121.1h0M184.4 248.1h0M216.3 248.1h0M343.7 248.1h0M375.5 248.1h0M396.7 248.1h0M428.6 248.1h0M449.8 248.1h0M545.4 248.1h0M598.5 248.1h0M609.1 248.1h0M651.5 248.1h0M502.9 473.8h0M640.9 473.8h0M863.9 473.8h0M704.6 798.3h0M821.4 798.3h0M895.7 798.3h0M906.4 798.3h0"/>
<path stroke="#d3e6f0" stroke-width="10.15" d="M237.5 248.1h0M311.8 248.1h0M407.4 248.1h0M439.2 248.1h0M460.4 248.1h0M640.9 248.1h0M874.5 473.8h0"/>
<path stroke="#d3e6f0" stroke-width="11.4" d="M290.6 248.1h0"/>
<path stroke="#d55d4c" stroke-width="2.65" d="M694 191.6h0M418 205.7h0M694 205.7h0M885.1 375h0M694 516.1h0M333 812.4h0M694 812.4h0M768.3 812.4h0M333 826.5h0M694 882.9h0M471.1 995.8h0M938.2 995.8h0M948.8 1009.9h0"/>
<path stroke="#d55d4c" stroke-width="3.9" d="M694 149.3h0M789.6 191.6h0M683.4 219.9h0M672.8 262.2h0M747.1 375h0M205.6 516.1h0M322.4 516.1h0M948.8 586.7h0M959.4 657.2h0M269.3 713.6h0M598.5 713.6h0M927.6 756h0M301.2 770.1h0M311.8 770.1h0M386.1 770.1h0M418 770.1h0M258.7 812.4h0M662.2 812.4h0M959.4 882.9h0M694 967.6h0M927.6 981.7h0M938.2 981.7h0M375.5 995.8h0M927.6 1009.9h0"/>
<path stroke="#d55d4c" stroke-width="5.15" d="M885.1 135.2h0M662.2 219.9h0M672.8 219.9h0M694 234h0M885.1 234h0M694 262.2h0M885.1 262.2h0M959.4 600.8h0M343.7 727.7h0M927.6 727.7h0M195 756h0M226.9 756h0M418 756h0M587.8 756h0M407.4 770.1h0M428.6 897h0M428.6 981.7h0M959.4 1024h0"/>
<path stroke="#d55d4c" stroke-width="6.4" d="M779 262.2h0M609.1 727.7h0M290.6 770.1h0M290.6 897h0"/>
<path stroke="#d55d4c" stroke-width="7.65" d="M226.9 346.8h0M694 389.2h0M779 389.2h0M885.1 389.2h0M651.5 544.3h0M269.3 911.1h0M364.9 911.1h0"/>
<path stroke="#d55d4c" stroke-width="8.9" d="M566.6 121.1h0M619.7 121.1h0M662.2 290.4h0M715.2 290.4h0M258.7 798.3h0M863.9 911.1h0"/>
<path stroke="#d55d4c" stroke-width="10.15" d="M534.8 671.3h0M386.1 840.6h0M481.7 854.7h0M885.1 854.7h0"/>
<path stroke="#d55d4c" stroke-width="11.4" d="M874.5 177.5h0M237.5 685.4h0"/>
<path stroke="#d55d4c" stroke-width="12.65" d="M216.3 473.8h0M226.9 473.8h0M195 840.6h0M874.5 854.7h0"/>
<path stroke="#ebf1f5" stroke-width="1.4" d="M195 205.7h0M205.6 205.7h0M216.3 205.7h0M226.9 205.7h0M237.5 205.7h0M248.1 205.7h0M258.7 205.7h0M280 205.7h0M290.6 205.7h0M311.8 205.7h0M322.4 205.7h0M333 205.7h0M343.7 205.7h0M375.5 205.7h0M428.6 205.7h0M439.2 205.7h0M492.3 205.7h0M502.9 205.7h0M513.5 205.7h0M524.1 205.7h0M534.8 205.7h0M556 205.7h0M566.6 205.7h0M577.2 205.7h0M619.7 205.7h0M683.4 205.7h0M757.7 205.7h0M768.3 205.7h0M800.2 205.7h0M853.3 205.7h0M895.7 205.7h0M906.4 205.7h0M917 205.7h0M927.6 205.7h0M938.2 205.7h0M948.8 205.7h0M290.6 995.8h0"/>
<path stroke="#ebf1f5" stroke-width="2.65" d="M184.4 149.3h0M205.6 149.3h0M216.3 149.3h0M226.9 149.3h0M237.5 149.3h0M280 149.3h0M333 149.3h0M343.7 149.3h0M460.4 149.3h0M715.2 149.3h0M810.8 149.3h0M184.4 191.6h0M216.3 191.6h0M311.8 191.6h0M333 191.6h0M343.7 191.6h0M354.3 191.6h0M375.5 191.6h0M386.1 191.6h0M396.7 191.6h0M418 191.6h0M460.4 191.6h0M481.7 191.6h0M502.9 191.6h0M534.8 191.6h0M545.4 191.6h0M577.2 191.6h0M598.5 191.6h0M630.3 191.6h0M725.9 191.6h0M747.1 191.6h0M779 191.6h0M800.2 191.6h0M853.3 191.6h0M863.9 191.6h0M895.7 191.6h0M906.4 191.6h0M917 191.6h0M927.6 191.6h0M938.2 191.6h0M948.8 191.6h0M959.4 191.6h0M970.1 191.6h0M598.5 205.7h0M609.1 205.7h0M630.3 205.7h0M184.4 219.9h0M216.3 219.9h0M226.9 219.9h0M237.5 219.9h0M248.1 219.9h0M280 219.9h0M301.2 219.9h0M311.8 219.9h0M343.7 219.9h0M364.9 219.9h0M375.5 219.9h0M386.1 219.9h0M396.7 219.9h0M428.6 219.9h0M471.1 219.9h0M492.3 219.9h0M513.5 219.9h0M577.2 219.9h0M959.4 219.9h0M970.1 219.9h0M311.8 234h0M343.7 234h0M364.9 234h0M407.4 234h0M418 234h0M428.6 234h0M577.2 234h0M205.6 262.2h0M269.3 262.2h0M418 262.2h0M428.6 262.2h0M449.8 262.2h0M216.3 375h0M237.5 375h0M269.3 375h0M311.8 375h0M343.7 375h0M375.5 375h0M396.7 375h0M428.6 375h0M481.7 375h0M492.3 375h0M545.4 375h0M556 375h0M566.6 375h0M577.2 375h0M598.5 375h0M619.7 375h0M874.5 375h0M970.1 375h0M269.3 389.2h0M311.8 389.2h0M322.4 389.2h0M343.7 389.2h0M354.3 389.2h0M386.1 389.2h0M396.7 389.2h0M481.7 389.2h0M577.2 389.2h0M917 389.2h0M959.4 389.2h0M970.1 389.2h0M184.4 403.3h0M237.5 403.3h0M311.8 403.3h0M343.7 403.3h0M386.1 403.3h0M449.8 403.3h0M492.3 403.3h0M524.1 403.3h0M619.7 403.3h0M757.7 403.3h0M800.2 403.3h0M853.3 403.3h0M917 403.3h0M959.4 403.3h0M333 417.4h0M386.1 417.4h0M428.6 417.4h0M662.2 417.4h0M948.8 417.4h0M184.4 431.5h0M195 431.5h0M205.6 431.5h0M216.3 431.5h0M226.9 431.5h0M237.5 431.5h0M248.1 431.5h0M258.7 431.5h0M269.3 431.5h0M280 431.5h0M290.6 431.5h0M301.2 431.5h0M311.8 431.5h0M322.4 431.5h0M333 431.5h0M343.7 431.5h0M354.3 431.5h0M364.9 431.5h0M375.5 431.5h0M386.1 431.5h0M396.7 431.5h0M418 431.5h0M428.6 431.5h0M439.2 431.5h0M449.8 431.5h0M460.4 431.5h0M481.7 431.5h0M492.3 431.5h0M502.9 431.5h0M513.5 431.5h0M524.1 431.5h0M534.8 431.5h0M545.4 431.5h0M556 431.5h0M566.6 431.5h0M598.5 431.5h0M609.1 431.5h0M640.9 431.5h0M694 431.5h0M725.9 431.5h0M757.7 431.5h0M789.6 431.5h0M863.9 431.5h0M885.1 431.5h0M906.4 431.5h0M917 431.5h0M948.8 431.5h0M184.4 445.6h0M205.6 445.6h0M216.3 445.6h0M226.9 445.6h0M237.5 445.6h0M248.1 445.6h0M258.7 445.6h0M269.3 445.6h0M280 445.6h0M290.6 445.6h0M301.2 445.6h0M311.8 445.6h0M322.4 445.6h0M333 445.6h0M343.7 445.6h0M354.3 445.6h0M364.9 445.6h0M375.5 445.6h0M386.1 445.6h0M396.7 445.6h0M407.4 445.6h0M418 445.6h0M428.6 445.6h0M439.2 445.6h0M449.8 445.6h0M460.4 445.6h0M471.1 445.6h0M481.7 445.6h0M492.3 445.6h0M502.9 445.6h0M513.5 445.6h0M524.1 445.6h0M534.8 445.6h0M545.4 445.6h0M556 445.6h0M566.6 445.6h0M577.2 445.6h0M587.8 445.6h0M598.5 445.6h0M609.1 445.6h0M619.7 445.6h0M630.3 445.6h0M640.9 445.6h0M651.5 445.6h0M662.2 445.6h0M672.8 445.6h0M683.4 445.6h0M694 445.6h0M704.6 445.6h0M725.9 445.6h0M736.5 445.6h0M747.1 445.6h0M757.7 445.6h0M768.3 445.6h0M779 445.6h0M800.2 445.6h0M810.8 445.6h0M853.3 445.6h0M863.9 445.6h0M874.5 445.6h0M885.1 445.6h0M895.7 445.6h0M906.4 445.6h0M917 445.6h0M948.8 445.6h0M184.4 459.7h0M195 459.7h0M205.6 459.7h0M216.3 459.7h0M226.9 459.7h0M237.5 459.7h0M248.1 459.7h0M269.3 459.7h0M280 459.7h0M290.6 459.7h0M301.2 459.7h0M311.8 459.7h0M333 459.7h0M343.7 459.7h0M354.3 459.7h0M364.9 459.7h0M375.5 459.7h0M386.1 459.7h0M396.7 459.7h0M407.4 459.7h0M418 459.7h0M428.6 459.7h0M439.2 459.7h0M449.8 459.7h0M460.4 459.7h0M471.1 459.7h0M481.7 459.7h0M492.3 459.7h0M502.9 459.7h0M513.5 459.7h0M524.1 459.7h0M534.8 459.7h0M545.4 459.7h0M556 459.7h0M566.6 459.7h0M587.8 459.7h0M598.5 459.7h0M609.1 459.7h0M619.7 459.7h0M630.3 459.7h0M640.9 459.7h0M651.5 459.7h0M662.2 459.7h0M672.8 459.7h0M683.4 459.7h0M704.6 459.7h0M715.2 459.7h0M736.5 459.7h0M747.1 459.7h0M757.7 459.7h0M768.3 459.7h0M789.6 459.7h0M800.2 459.7h0M821.4 459.7h0M832 459.7h0M842.7 459.7h0M853.3 459.7h0M863.9 459.7h0M874.5 459.7h0M885.1 459.7h0M895.7 459.7h0M906.4 459.7h0M917 459.7h0M948.8 459.7h0M322.4 487.9h0M205.6 502h0M364.9 502h0M184.4 516.1h0M216.3 516.1h0M237.5 516.1h0M248.1 516.1h0M269.3 516.1h0M290.6 516.1h0M301.2 516.1h0M354.3 516.1h0M364.9 516.1h0M407.4 516.1h0M418 516.1h0M428.6 516.1h0M439.2 516.1h0M460.4 516.1h0M502.9 516.1h0M524.1 516.1h0M545.4 516.1h0M556 516.1h0M609.1 516.1h0M640.9 516.1h0M715.2 516.1h0M725.9 516.1h0M800.2 516.1h0M853.3 516.1h0M917 516.1h0M184.4 544.3h0M195 544.3h0M205.6 544.3h0M216.3 544.3h0M226.9 544.3h0M237.5 544.3h0M248.1 544.3h0M258.7 544.3h0M269.3 544.3h0M280 544.3h0M290.6 544.3h0M301.2 544.3h0M311.8 544.3h0M322.4 544.3h0M333 544.3h0M343.7 544.3h0M364.9 544.3h0M375.5 544.3h0M386.1 544.3h0M396.7 544.3h0M407.4 544.3h0M418 544.3h0M428.6 544.3h0M439.2 544.3h0M449.8 544.3h0M460.4 544.3h0M471.1 544.3h0M481.7 544.3h0M492.3 544.3h0M502.9 544.3h0M513.5 544.3h0M524.1 544.3h0M534.8 544.3h0M545.4 544.3h0M556 544.3h0M566.6 544.3h0M662.2 544.3h0M683.4 544.3h0M704.6 544.3h0M715.2 544.3h0M747.1 544.3h0M768.3 544.3h0M789.6 544.3h0M842.7 544.3h0M885.1 544.3h0M895.7 544.3h0M917 544.3h0M927.6 544.3h0M938.2 544.3h0M948.8 544.3h0M184.4 558.4h0M195 558.4h0M205.6 558.4h0M216.3 558.4h0M226.9 558.4h0M237.5 558.4h0M248.1 558.4h0M269.3 558.4h0M280 558.4h0M290.6 558.4h0M301.2 558.4h0M311.8 558.4h0M322.4 558.4h0M333 558.4h0M343.7 558.4h0M354.3 558.4h0M375.5 558.4h0M386.1 558.4h0M396.7 558.4h0M407.4 558.4h0M418 558.4h0M428.6 558.4h0M439.2 558.4h0M449.8 558.4h0M460.4 558.4h0M471.1 558.4h0M481.7 558.4h0M492.3 558.4h0M502.9 558.4h0M513.5 558.4h0M524.1 558.4h0M534.8 558.4h0M545.4 558.4h0M556 558.4h0M566.6 558.4h0M577.2 558.4h0M587.8 558.4h0M598.5 558.4h0M609.1 558.4h0M619.7 558.4h0M630.3 558.4h0M640.9 558.4h0M651.5 558.4h0M662.2 558.4h0M672.8 558.4h0M683.4 558.4h0M694 558.4h0M704.6 558.4h0M715.2 558.4h0M725.9 558.4h0M736.5 558.4h0M747.1 558.4h0M757.7 558.4h0M768.3 558.4h0M779 558.4h0M789.6 558.4h0M800.2 558.4h0M810.8 558.4h0M832 558.4h0M842.7 558.4h0M853.3 558.4h0M863.9 558.4h0M874.5 558.4h0M895.7 558.4h0M906.4 558.4h0M917 558.4h0M927.6 558.4h0M938.2 558.4h0M948.8 558.4h0M184.4 572.6h0M237.5 572.6h0M248.1 572.6h0M258.7 572.6h0M269.3 572.6h0M280 572.6h0M290.6 572.6h0M301.2 572.6h0M311.8 572.6h0M343.7 572.6h0M354.3 572.6h0M364.9 572.6h0M375.5 572.6h0M386.1 572.6h0M396.7 572.6h0M418 572.6h0M428.6 572.6h0M439.2 572.6h0M449.8 572.6h0M460.4 572.6h0M502.9 572.6h0M513.5 572.6h0M524.1 572.6h0M566.6 572.6h0M577.2 572.6h0M630.3 572.6h0M651.5 572.6h0M662.2 572.6h0M672.8 572.6h0M694 572.6h0M715.2 572.6h0M725.9 572.6h0M757.7 572.6h0M768.3 572.6h0M789.6 572.6h0M800.2 572.6h0M832 572.6h0M853.3 572.6h0M863.9 572.6h0M874.5 572.6h0M895.7 572.6h0M948.8 572.6h0M959.4 572.6h0M205.6 586.7h0M226.9 586.7h0M248.1 586.7h0M258.7 586.7h0M269.3 586.7h0M280 586.7h0M290.6 586.7h0M301.2 586.7h0M311.8 586.7h0M343.7 586.7h0M386.1 586.7h0M418 586.7h0M439.2 586.7h0M460.4 586.7h0M471.1 586.7h0M513.5 586.7h0M545.4 586.7h0M640.9 586.7h0M651.5 586.7h0M662.2 586.7h0M694 586.7h0M842.7 586.7h0M184.4 600.8h0M195 600.8h0M205.6 600.8h0M216.3 600.8h0M226.9 600.8h0M237.5 600.8h0M248.1 600.8h0M258.7 600.8h0M269.3 600.8h0M280 600.8h0M290.6 600.8h0M301.2 600.8h0M311.8 600.8h0M322.4 600.8h0M333 600.8h0M343.7 600.8h0M354.3 600.8h0M364.9 600.8h0M375.5 600.8h0M386.1 600.8h0M407.4 600.8h0M428.6 600.8h0M439.2 600.8h0M449.8 600.8h0M471.1 600.8h0M481.7 600.8h0M492.3 600.8h0M502.9 600.8h0M513.5 600.8h0M524.1 600.8h0M534.8 600.8h0M545.4 600.8h0M556 600.8h0M566.6 600.8h0M577.2 600.8h0M598.5 600.8h0M630.3 600.8h0M651.5 600.8h0M683.4 600.8h0M736.5 600.8h0M757.7 600.8h0M779 600.8h0M800.2 600.8h0M863.9 600.8h0M895.7 600.8h0M184.4 614.9h0M195 614.9h0M216.3 614.9h0M237.5 614.9h0M269.3 614.9h0M280 614.9h0M301.2 614.9h0M311.8 614.9h0M364.9 614.9h0M386.1 614.9h0M407.4 614.9h0M418 614.9h0M439.2 614.9h0M460.4 614.9h0M513.5 614.9h0M534.8 614.9h0M545.4 614.9h0M556 614.9h0M598.5 614.9h0M640.9 614.9h0M662.2 614.9h0M736.5 614.9h0M757.7 614.9h0M768.3 614.9h0M779 614.9h0M885.1 614.9h0M895.7 614.9h0M906.4 614.9h0M205.6 629h0M216.3 629h0M237.5 629h0M269.3 629h0M280 629h0M301.2 629h0M343.7 629h0M354.3 629h0M364.9 629h0M375.5 629h0M407.4 629h0M418 629h0M428.6 629h0M449.8 629h0M460.4 629h0M481.7 629h0M502.9 629h0M524.1 629h0M545.4 629h0M556 629h0M577.2 629h0M587.8 629h0M619.7 629h0M630.3 629h0M683.4 629h0M694 629h0M747.1 629h0M757.7 629h0M768.3 629h0M810.8 629h0M832 629h0M853.3 629h0M874.5 629h0M895.7 629h0M205.6 643.1h0M216.3 643.1h0M237.5 643.1h0M248.1 643.1h0M269.3 643.1h0M280 643.1h0M343.7 643.1h0M375.5 643.1h0M396.7 643.1h0M418 643.1h0M439.2 643.1h0M492.3 643.1h0M513.5 643.1h0M524.1 643.1h0M534.8 643.1h0M545.4 643.1h0M556 643.1h0M587.8 643.1h0M619.7 643.1h0M757.7 643.1h0M810.8 643.1h0M832 643.1h0M853.3 643.1h0M874.5 643.1h0M205.6 657.2h0M216.3 657.2h0M237.5 657.2h0M280 657.2h0M301.2 657.2h0M311.8 657.2h0M343.7 657.2h0M354.3 657.2h0M364.9 657.2h0M386.1 657.2h0M396.7 657.2h0M407.4 657.2h0M418 657.2h0M449.8 657.2h0M460.4 657.2h0M471.1 657.2h0M502.9 657.2h0M513.5 657.2h0M545.4 657.2h0M556 657.2h0M683.4 657.2h0M757.7 657.2h0M842.7 657.2h0M863.9 657.2h0M895.7 657.2h0M258.7 699.5h0M290.6 699.5h0M311.8 699.5h0M354.3 699.5h0M449.8 699.5h0M471.1 699.5h0M481.7 699.5h0M513.5 699.5h0M534.8 699.5h0M598.5 699.5h0M789.6 699.5h0M800.2 699.5h0M832 699.5h0M917 699.5h0M216.3 713.6h0M301.2 713.6h0M343.7 713.6h0M375.5 713.6h0M386.1 713.6h0M449.8 713.6h0M502.9 713.6h0M534.8 713.6h0M545.4 713.6h0M556 713.6h0M651.5 713.6h0M715.2 713.6h0M725.9 713.6h0M747.1 713.6h0M853.3 713.6h0M863.9 713.6h0M885.1 713.6h0M906.4 713.6h0M917 713.6h0M927.6 713.6h0M938.2 713.6h0M237.5 727.7h0M258.7 727.7h0M280 727.7h0M386.1 727.7h0M407.4 727.7h0M439.2 727.7h0M471.1 727.7h0M481.7 727.7h0M566.6 727.7h0M587.8 727.7h0M715.2 727.7h0M747.1 727.7h0M757.7 727.7h0M768.3 727.7h0M789.6 727.7h0M821.4 727.7h0M832 727.7h0M948.8 727.7h0M205.6 741.9h0M343.7 741.9h0M396.7 741.9h0M524.1 741.9h0M545.4 741.9h0M556 741.9h0M598.5 741.9h0M609.1 741.9h0M619.7 741.9h0M683.4 741.9h0M694 741.9h0M715.2 741.9h0M725.9 741.9h0M768.3 741.9h0M779 741.9h0M800.2 741.9h0M842.7 741.9h0M853.3 741.9h0M863.9 741.9h0M874.5 741.9h0M885.1 741.9h0M970.1 741.9h0M364.9 756h0M640.9 756h0M694 756h0M248.1 770.1h0M322.4 770.1h0M502.9 770.1h0M577.2 770.1h0M651.5 770.1h0M917 770.1h0M184.4 812.4h0M216.3 812.4h0M248.1 812.4h0M301.2 812.4h0M343.7 812.4h0M418 812.4h0M439.2 812.4h0M481.7 812.4h0M545.4 812.4h0M556 812.4h0M566.6 812.4h0M587.8 812.4h0M619.7 812.4h0M630.3 812.4h0M651.5 812.4h0M704.6 812.4h0M715.2 812.4h0M821.4 812.4h0M853.3 812.4h0M863.9 812.4h0M927.6 812.4h0M948.8 812.4h0M184.4 826.5h0M205.6 826.5h0M216.3 826.5h0M237.5 826.5h0M301.2 826.5h0M311.8 826.5h0M343.7 826.5h0M375.5 826.5h0M386.1 826.5h0M407.4 826.5h0M418 826.5h0M439.2 826.5h0M460.4 826.5h0M492.3 826.5h0M502.9 826.5h0M524.1 826.5h0M545.4 826.5h0M577.2 826.5h0M587.8 826.5h0M630.3 826.5h0M651.5 826.5h0M662.2 826.5h0M694 826.5h0M725.9 826.5h0M736.5 826.5h0M768.3 826.5h0M832 826.5h0M853.3 826.5h0M863.9 826.5h0M917 826.5h0M938.2 826.5h0M959.4 826.5h0M970.1 826.5h0M959.4 840.6h0M343.7 868.8h0M959.4 868.8h0M205.6 882.9h0M216.3 882.9h0M248.1 882.9h0M269.3 882.9h0M301.2 882.9h0M343.7 882.9h0M354.3 882.9h0M364.9 882.9h0M407.4 882.9h0M439.2 882.9h0M449.8 882.9h0M460.4 882.9h0M502.9 882.9h0M524.1 882.9h0M545.4 882.9h0M556 882.9h0M566.6 882.9h0M598.5 882.9h0M619.7 882.9h0M640.9 882.9h0M651.5 882.9h0M715.2 882.9h0M747.1 882.9h0M757.7 882.9h0M768.3 882.9h0M789.6 882.9h0M810.8 882.9h0M821.4 882.9h0M842.7 882.9h0M863.9 882.9h0M927.6 882.9h0M938.2 882.9h0M948.8 882.9h0M970.1 882.9h0M948.8 897h0M959.4 897h0M237.5 925.3h0M269.3 925.3h0M333 925.3h0M343.7 925.3h0M364.9 925.3h0M396.7 925.3h0M407.4 925.3h0M428.6 925.3h0M471.1 925.3h0M492.3 925.3h0M513.5 925.3h0M534.8 925.3h0M545.4 925.3h0M619.7 925.3h0M630.3 925.3h0M651.5 925.3h0M704.6 925.3h0M725.9 925.3h0M747.1 925.3h0M789.6 925.3h0M810.8 925.3h0M821.4 925.3h0M853.3 925.3h0M874.5 925.3h0M959.4 925.3h0M970.1 925.3h0M948.8 939.4h0M948.8 953.5h0M205.6 967.6h0M248.1 967.6h0M258.7 967.6h0M280 967.6h0M301.2 967.6h0M343.7 967.6h0M375.5 967.6h0M386.1 967.6h0M418 967.6h0M428.6 967.6h0M481.7 967.6h0M524.1 967.6h0M556 967.6h0M598.5 967.6h0M609.1 967.6h0M619.7 967.6h0M630.3 967.6h0M640.9 967.6h0M651.5 967.6h0M800.2 967.6h0M917 967.6h0M927.6 967.6h0M938.2 967.6h0M959.4 967.6h0M970.1 967.6h0M184.4 981.7h0M216.3 981.7h0M258.7 981.7h0M269.3 981.7h0M280 981.7h0M301.2 981.7h0M322.4 981.7h0M343.7 981.7h0M354.3 981.7h0M364.9 981.7h0M396.7 981.7h0M407.4 981.7h0M492.3 981.7h0M545.4 981.7h0M577.2 981.7h0M587.8 981.7h0M630.3 981.7h0M640.9 981.7h0M683.4 981.7h0M694 981.7h0M715.2 981.7h0M757.7 981.7h0M768.3 981.7h0M779 981.7h0M810.8 981.7h0M948.8 981.7h0M959.4 981.7h0M970.1 981.7h0M184.4 995.8h0M195 995.8h0M205.6 995.8h0M216.3 995.8h0M226.9 995.8h0M248.1 995.8h0M258.7 995.8h0M269.3 995.8h0M280 995.8h0M301.2 995.8h0M311.8 995.8h0M322.4 995.8h0M343.7 995.8h0M354.3 995.8h0M407.4 995.8h0M428.6 995.8h0M460.4 995.8h0M492.3 995.8h0M502.9 995.8h0M534.8 995.8h0M545.4 995.8h0M556 995.8h0M566.6 995.8h0M587.8 995.8h0M598.5 995.8h0M609.1 995.8h0M619.7 995.8h0M630.3 995.8h0M640.9 995.8h0M651.5 995.8h0M662.2 995.8h0M683.4 995.8h0M694 995.8h0M704.6 995.8h0M715.2 995.8h0M736.5 995.8h0M747.1 995.8h0M757.7 995.8h0M768.3 995.8h0M779 995.8h0M789.6 995.8h0M800.2 995.8h0M810.8 995.8h0M821.4 995.8h0M832 995.8h0M842.7 995.8h0M853.3 995.8h0M863.9 995.8h0M874.5 995.8h0M885.1 995.8h0M895.7 995.8h0M906.4 995.8h0M948.8 995.8h0M959.4 995.8h0M970.1 995.8h0M301.2 1009.9h0M311.8 1009.9h0M343.7 1009.9h0M375.5 1009.9h0M386.1 1009.9h0M449.8 1009.9h0M481.7 1009.9h0M545.4 1009.9h0M556 1009.9h0M566.6 1009.9h0M587.8 1009.9h0M598.5 1009.9h0M609.1 1009.9h0M619.7 1009.9h0M651.5 1009.9h0M662.2 1009.9h0M683.4 1009.9h0M694 1009.9h0M715.2 1009.9h0M747.1 1009.9h0M757.7 1009.9h0M789.6 1009.9h0M832 1009.9h0M842.7 1009.9h0M853.3 1009.9h0M863.9 1009.9h0M906.4 1009.9h0"/>
<path stroke="#ebf1f5" stroke-width="3.9" d="M280 135.2h0M375.5 135.2h0M460.4 135.2h0M481.7 135.2h0M534.8 135.2h0M640.9 219.9h0M651.5 219.9h0M747.1 219.9h0M821.4 219.9h0M832 219.9h0M184.4 234h0M216.3 234h0M333 234h0M502.9 234h0M513.5 234h0M556 234h0M566.6 234h0M651.5 234h0M725.9 234h0M311.8 262.2h0M481.7 262.2h0M534.8 262.2h0M566.6 262.2h0M619.7 262.2h0M630.3 262.2h0M640.9 262.2h0M651.5 262.2h0M853.3 262.2h0M301.2 360.9h0M396.7 360.9h0M418 360.9h0M449.8 360.9h0M524.1 360.9h0M534.8 360.9h0M545.4 360.9h0M556 360.9h0M195 403.3h0M598.5 403.3h0M895.7 403.3h0M216.3 417.4h0M237.5 417.4h0M280 417.4h0M311.8 417.4h0M364.9 417.4h0M449.8 417.4h0M460.4 417.4h0M481.7 417.4h0M492.3 417.4h0M502.9 417.4h0M513.5 417.4h0M545.4 417.4h0M556 417.4h0M587.8 417.4h0M598.5 417.4h0M609.1 417.4h0M640.9 417.4h0M683.4 417.4h0M715.2 417.4h0M757.7 417.4h0M789.6 417.4h0M832 417.4h0M842.7 417.4h0M195 445.6h0M970.1 473.8h0M333 487.9h0M428.6 487.9h0M460.4 487.9h0M280 502h0M343.7 502h0M354.3 502h0M375.5 502h0M396.7 502h0M439.2 502h0M471.1 502h0M853.3 502h0M863.9 502h0M874.5 502h0M959.4 502h0M970.1 502h0M577.2 530.2h0M917 530.2h0M354.3 544.3h0M492.3 572.6h0M556 572.6h0M704.6 572.6h0M269.3 671.3h0M375.5 671.3h0M630.3 713.6h0M640.9 713.6h0M895.7 713.6h0M481.7 741.9h0M492.3 741.9h0M502.9 741.9h0M651.5 741.9h0M704.6 741.9h0M757.7 741.9h0M821.4 741.9h0M895.7 741.9h0M906.4 741.9h0M269.3 756h0M471.1 756h0M513.5 756h0M556 756h0M609.1 756h0M715.2 756h0M725.9 756h0M757.7 756h0M768.3 756h0M800.2 756h0M810.8 756h0M333 784.2h0M672.8 784.2h0M895.7 812.4h0M184.4 868.8h0M205.6 868.8h0M216.3 868.8h0M248.1 868.8h0M311.8 868.8h0M386.1 868.8h0M449.8 868.8h0M481.7 868.8h0M545.4 868.8h0M556 868.8h0M577.2 868.8h0M587.8 868.8h0M598.5 868.8h0M609.1 868.8h0M630.3 868.8h0M651.5 868.8h0M715.2 868.8h0M747.1 868.8h0M757.7 868.8h0M768.3 868.8h0M789.6 868.8h0M842.7 868.8h0M853.3 868.8h0M863.9 868.8h0M895.7 868.8h0M906.4 868.8h0M280 897h0M449.8 897h0M460.4 897h0M556 897h0M619.7 897h0M640.9 897h0M683.4 897h0M747.1 897h0M757.7 897h0M800.2 897h0M853.3 897h0M863.9 897h0M895.7 897h0M333 911.1h0M917 911.1h0M948.8 911.1h0M333 939.4h0M375.5 939.4h0M407.4 953.5h0M439.2 953.5h0M449.8 953.5h0M481.7 953.5h0M524.1 953.5h0M216.3 967.6h0M237.5 967.6h0M322.4 967.6h0M449.8 967.6h0M460.4 967.6h0M471.1 967.6h0M492.3 967.6h0M513.5 967.6h0M534.8 967.6h0M545.4 967.6h0M566.6 967.6h0M577.2 967.6h0M715.2 967.6h0M725.9 967.6h0M747.1 967.6h0M757.7 967.6h0M789.6 967.6h0M810.8 967.6h0M842.7 967.6h0M853.3 967.6h0M863.9 967.6h0M874.5 967.6h0M885.1 967.6h0M895.7 967.6h0M906.4 967.6h0M439.2 981.7h0M471.1 981.7h0M237.5 995.8h0M386.1 1024h0M396.7 1024h0M428.6 1024h0M492.3 1024h0M524.1 1024h0M715.2 1024h0M800.2 1024h0M917 1038.1h0M927.6 1038.1h0"/>
<path stroke="#ebf1f5" stroke-width="5.15" d="M301.2 121.1h0M354.3 121.1h0M205.6 135.2h0M609.1 135.2h0M895.7 135.2h0M184.4 163.4h0M216.3 163.4h0M694 163.4h0M874.5 234h0M704.6 262.2h0M736.5 262.2h0M301.2 276.3h0M311.8 276.3h0M333 276.3h0M396.7 276.3h0M428.6 276.3h0M439.2 276.3h0M577.2 276.3h0M269.3 290.4h0M364.9 290.4h0M386.1 290.4h0M396.7 290.4h0M205.6 304.5h0M364.9 304.5h0M226.9 318.6h0M269.3 318.6h0M301.2 318.6h0M386.1 318.6h0M396.7 318.6h0M418 318.6h0M556 318.6h0M853.3 318.6h0M280 332.7h0M301.2 332.7h0M354.3 332.7h0M428.6 332.7h0M460.4 332.7h0M502.9 332.7h0M524.1 332.7h0M545.4 332.7h0M556 332.7h0M577.2 332.7h0M598.5 332.7h0M662.2 332.7h0M747.1 332.7h0M237.5 360.9h0M311.8 360.9h0M407.4 360.9h0M428.6 360.9h0M492.3 360.9h0M630.3 360.9h0M768.3 360.9h0M800.2 360.9h0M810.8 417.4h0M959.4 473.8h0M502.9 487.9h0M609.1 487.9h0M779 487.9h0M832 502h0M906.4 502h0M226.9 530.2h0M428.6 530.2h0M449.8 530.2h0M566.6 530.2h0M598.5 530.2h0M640.9 530.2h0M885.1 530.2h0M205.6 671.3h0M545.4 671.3h0M651.5 671.3h0M662.2 671.3h0M683.4 671.3h0M747.1 671.3h0M301.2 685.4h0M418 685.4h0M970.1 685.4h0M280 784.2h0M460.4 784.2h0M545.4 784.2h0M779 784.2h0M810.8 784.2h0M863.9 784.2h0M917 798.3h0M927.6 798.3h0M280 840.6h0M460.4 840.6h0M683.4 840.6h0M885.1 840.6h0M672.8 854.7h0M205.6 911.1h0M226.9 911.1h0M280 911.1h0M343.7 911.1h0M672.8 911.1h0M216.3 939.4h0M311.8 939.4h0M354.3 939.4h0M439.2 939.4h0M449.8 939.4h0M460.4 939.4h0M534.8 939.4h0M577.2 939.4h0M587.8 939.4h0M598.5 939.4h0M609.1 939.4h0M619.7 939.4h0M640.9 939.4h0M651.5 939.4h0M757.7 939.4h0M853.3 939.4h0M216.3 953.5h0M311.8 953.5h0M354.3 953.5h0M502.9 953.5h0M513.5 953.5h0M577.2 953.5h0M630.3 953.5h0M640.9 953.5h0M715.2 953.5h0M779 953.5h0M810.8 953.5h0M832 953.5h0M853.3 953.5h0M258.7 1024h0M566.6 1024h0M598.5 1024h0M619.7 1024h0M651.5 1024h0M810.8 1024h0M842.7 1024h0M863.9 1024h0M237.5 1038.1h0M386.1 1038.1h0M418 1038.1h0M492.3 1038.1h0M545.4 1038.1h0M566.6 1038.1h0M747.1 1038.1h0M800.2 1038.1h0M842.7 1038.1h0M863.9 1038.1h0"/>
<path stroke="#ebf1f5" stroke-width="6.4" d="M237.5 121.1h0M471.1 121.1h0M524.1 121.1h0M556 121.1h0M683.4 121.1h0M725.9 121.1h0M768.3 121.1h0M885.1 121.1h0M195 163.4h0M481.7 163.4h0M534.8 163.4h0M757.7 163.4h0M810.8 163.4h0M258.7 177.5h0M269.3 177.5h0M333 177.5h0M354.3 177.5h0M375.5 177.5h0M566.6 177.5h0M619.7 177.5h0M651.5 177.5h0M226.9 276.3h0M513.5 276.3h0M556 276.3h0M375.5 290.4h0M407.4 290.4h0M460.4 290.4h0M556 290.4h0M587.8 290.4h0M619.7 290.4h0M640.9 290.4h0M216.3 304.5h0M237.5 304.5h0M258.7 304.5h0M428.6 304.5h0M439.2 304.5h0M524.1 304.5h0M566.6 304.5h0M619.7 304.5h0M651.5 304.5h0M715.2 332.7h0M789.6 332.7h0M248.1 346.8h0M407.4 346.8h0M418 346.8h0M428.6 346.8h0M449.8 346.8h0M460.4 346.8h0M556 346.8h0M725.9 346.8h0M863.9 360.9h0M736.5 487.9h0M789.6 487.9h0M832 487.9h0M842.7 487.9h0M184.4 530.2h0M439.2 530.2h0M853.3 530.2h0M609.1 671.3h0M640.9 671.3h0M704.6 671.3h0M736.5 671.3h0M810.8 671.3h0M184.4 685.4h0M386.1 685.4h0M725.9 685.4h0M747.1 685.4h0M800.2 685.4h0M502.9 784.2h0M386.1 798.3h0M428.6 798.3h0M779 798.3h0M471.1 840.6h0M492.3 840.6h0M810.8 840.6h0M906.4 840.6h0M205.6 854.7h0M269.3 854.7h0M354.3 854.7h0M386.1 854.7h0M428.6 854.7h0M460.4 854.7h0M577.2 854.7h0M587.8 854.7h0M290.6 911.1h0M789.6 911.1h0M874.5 911.1h0M471.1 939.4h0M502.9 939.4h0M789.6 939.4h0M863.9 939.4h0M895.7 939.4h0M810.8 1038.1h0M895.7 1038.1h0"/>
<path stroke="#ebf1f5" stroke-width="7.65" d="M757.7 121.1h0M895.7 121.1h0M906.4 121.1h0M471.1 177.5h0M481.7 177.5h0M545.4 177.5h0M832 177.5h0M280 290.4h0M502.9 290.4h0M853.3 290.4h0M874.5 290.4h0M895.7 290.4h0M280 304.5h0M290.6 304.5h0M513.5 304.5h0M195 332.7h0M704.6 332.7h0M832 332.7h0M311.8 346.8h0M322.4 346.8h0M513.5 346.8h0M545.4 346.8h0M609.1 346.8h0M832 346.8h0M205.6 473.8h0M301.2 473.8h0M343.7 473.8h0M364.9 473.8h0M386.1 473.8h0M481.7 473.8h0M545.4 473.8h0M577.2 473.8h0M598.5 473.8h0M694 473.8h0M779 473.8h0M821.4 671.3h0M832 671.3h0M280 685.4h0M704.6 685.4h0M853.3 685.4h0M906.4 784.2h0M195 798.3h0M333 798.3h0M460.4 798.3h0M439.2 854.7h0M768.3 854.7h0M821.4 854.7h0M704.6 911.1h0"/>
<path stroke="#ebf1f5" stroke-width="8.9" d="M195 121.1h0M502.9 177.5h0M704.6 177.5h0M205.6 248.1h0M269.3 248.1h0M322.4 248.1h0M418 248.1h0M280 473.8h0M630.3 473.8h0M725.9 473.8h0M736.5 473.8h0M895.7 473.8h0M906.4 473.8h0"/>
<path stroke="#ebf1f5" stroke-width="10.15" d="M280 248.1h0M333 248.1h0M290.6 473.8h0M821.4 473.8h0"/>
<path stroke="#ebf1f5" stroke-width="11.4" d="M502.9 248.1h0"/>
<path stroke="#ed9475" stroke-width="2.65" d="M587.8 191.6h0M662.2 191.6h0M396.7 205.7h0M662.2 205.7h0M789.6 614.9h0M184.4 629h0M970.1 643.1h0M768.3 699.5h0M524.1 995.8h0"/>
<path stroke="#ed9475" stroke-width="3.9" d="M481.7 149.3h0M513.5 149.3h0M545.4 149.3h0M651.5 149.3h0M789.6 149.3h0M481.7 219.9h0M524.1 219.9h0M694 375h0M715.2 375h0M800.2 375h0M853.3 375h0M290.6 403.3h0M333 403.3h0M396.7 403.3h0M407.4 403.3h0M917 643.1h0M566.6 699.5h0M619.7 699.5h0M885.1 699.5h0M418 727.7h0M460.4 727.7h0M354.3 741.9h0M577.2 741.9h0M566.6 756h0M917 756h0M269.3 770.1h0M226.9 868.8h0M333 868.8h0M672.8 868.8h0M375.5 882.9h0M418 882.9h0M587.8 882.9h0M662.2 925.3h0M694 925.3h0M938.2 1009.9h0"/>
<path stroke="#ed9475" stroke-width="5.15" d="M566.6 135.2h0M779 135.2h0M800.2 135.2h0M322.4 234h0M662.2 234h0M736.5 234h0M779 234h0M842.7 262.2h0M301.2 417.4h0M917 417.4h0M195 502h0M237.5 586.7h0M630.3 741.9h0M407.4 756h0M619.7 756h0M651.5 756h0M598.5 770.1h0M959.4 854.7h0M662.2 868.8h0M694 868.8h0M386.1 897h0M396.7 897h0M205.6 939.4h0M248.1 939.4h0M779 939.4h0M577.2 1024h0M970.1 1024h0M948.8 1038.1h0"/>
<path stroke="#ed9475" stroke-width="6.4" d="M651.5 163.4h0M757.7 234h0M906.4 234h0M322.4 262.2h0M195 318.6h0M269.3 332.7h0M471.1 417.4h0M672.8 530.2h0M205.6 572.6h0M917 671.3h0M386.1 784.2h0M885.1 911.1h0M290.6 939.4h0M768.3 939.4h0M842.7 953.5h0M322.4 1024h0M927.6 1024h0"/>
<path stroke="#ed9475" stroke-width="7.65" d="M258.7 121.1h0M587.8 121.1h0M322.4 163.4h0M577.2 177.5h0M672.8 290.4h0M248.1 304.5h0M694 304.5h0M694 318.6h0M768.3 318.6h0M779 318.6h0M885.1 318.6h0M842.7 346.8h0M683.4 389.2h0M768.3 389.2h0M842.7 389.2h0M747.1 530.2h0M842.7 530.2h0M428.6 671.3h0M556 671.3h0M938.2 685.4h0M195 784.2h0M407.4 784.2h0M534.8 784.2h0M566.6 784.2h0M248.1 798.3h0M269.3 798.3h0M577.2 798.3h0M322.4 854.7h0M301.2 911.1h0M322.4 911.1h0"/>
<path stroke="#ed9475" stroke-width="8.9" d="M184.4 121.1h0M407.4 121.1h0M439.2 121.1h0M609.1 121.1h0M842.7 290.4h0M768.3 304.5h0M683.4 318.6h0M736.5 318.6h0M757.7 318.6h0M863.9 487.9h0M534.8 685.4h0M587.8 784.2h0M619.7 784.2h0M534.8 798.3h0M566.6 798.3h0M205.6 840.6h0M248.1 840.6h0M407.4 840.6h0M556 854.7h0"/>
<path stroke="#ed9475" stroke-width="10.15" d="M863.9 318.6h0M906.4 318.6h0M906.4 332.7h0M566.6 685.4h0M269.3 840.6h0M396.7 840.6h0M492.3 854.7h0M502.9 854.7h0M513.5 854.7h0"/>
<path stroke="#ed9475" stroke-width="11.4" d="M810.8 248.1h0M821.4 248.1h0M832 248.1h0M842.7 248.1h0M895.7 248.1h0M821.4 290.4h0M290.6 346.8h0M895.7 389.2h0M906.4 685.4h0M184.4 840.6h0M226.9 840.6h0M237.5 840.6h0M895.7 854.7h0"/>
<path stroke="#ed9475" stroke-width="12.65" d="M704.6 248.1h0M885.1 248.1h0"/>
<path stroke="#f8bb9e" stroke-width="2.65" d="M364.9 149.3h0M418 149.3h0M556 149.3h0M280 191.6h0M683.4 191.6h0M184.4 205.7h0M449.8 205.7h0M821.4 205.7h0M768.3 375h0M301.2 403.3h0M577.2 459.7h0M959.4 459.7h0M768.3 516.1h0M970.1 614.9h0M577.2 643.1h0M694 643.1h0M885.1 643.1h0M609.1 657.2h0M694 657.2h0M694 699.5h0M959.4 699.5h0M248.1 713.6h0M959.4 713.6h0M609.1 812.4h0M396.7 826.5h0M768.3 925.3h0M364.9 995.8h0M927.6 995.8h0M970.1 1009.9h0"/>
<path stroke="#f8bb9e" stroke-width="3.9" d="M694 135.2h0M492.3 149.3h0M502.9 149.3h0M619.7 149.3h0M683.4 149.3h0M768.3 149.3h0M779 149.3h0M863.9 149.3h0M471.1 191.6h0M672.8 191.6h0M205.6 219.9h0M354.3 219.9h0M418 219.9h0M768.3 262.2h0M577.2 360.9h0M672.8 360.9h0M683.4 375h0M704.6 375h0M725.9 375h0M810.8 375h0M842.7 375h0M322.4 403.3h0M683.4 403.3h0M842.7 431.5h0M948.8 502h0M906.4 516.1h0M396.7 586.7h0M938.2 600.8h0M970.1 600.8h0M885.1 657.2h0M492.3 699.5h0M630.3 699.5h0M683.4 699.5h0M779 699.5h0M407.4 713.6h0M449.8 727.7h0M375.5 741.9h0M534.8 741.9h0M301.2 756h0M577.2 756h0M938.2 756h0M343.7 770.1h0M375.5 770.1h0M428.6 770.1h0M439.2 770.1h0M471.1 812.4h0M683.4 812.4h0M534.8 826.5h0M333 882.9h0M481.7 882.9h0M481.7 925.3h0M640.9 925.3h0M683.4 967.6h0M311.8 981.7h0M333 981.7h0M460.4 981.7h0"/>
<path stroke="#f8bb9e" stroke-width="5.15" d="M269.3 121.1h0M449.8 135.2h0M513.5 135.2h0M640.9 135.2h0M651.5 135.2h0M747.1 135.2h0M853.3 135.2h0M895.7 149.3h0M736.5 219.9h0M683.4 234h0M789.6 234h0M800.2 234h0M683.4 262.2h0M863.9 262.2h0M842.7 360.9h0M683.4 502h0M694 502h0M779 502h0M789.6 502h0M481.7 572.6h0M619.7 572.6h0M927.6 600.8h0M598.5 727.7h0M290.6 741.9h0M237.5 756h0M290.6 756h0M439.2 756h0M587.8 770.1h0M609.1 770.1h0M301.2 784.2h0M577.2 784.2h0M938.2 784.2h0M725.9 868.8h0M418 897h0M439.2 897h0M927.6 897h0M683.4 939.4h0M269.3 953.5h0M364.9 953.5h0M768.3 953.5h0M789.6 953.5h0M290.6 967.6h0M290.6 981.7h0M683.4 1024h0M768.3 1024h0M768.3 1038.1h0"/>
<path stroke="#f8bb9e" stroke-width="6.4" d="M672.8 121.1h0M290.6 135.2h0M364.9 163.4h0M386.1 163.4h0M418 163.4h0M524.1 163.4h0M566.6 163.4h0M768.3 163.4h0M704.6 219.9h0M821.4 234h0M863.9 234h0M895.7 234h0M471.1 262.2h0M874.5 262.2h0M906.4 262.2h0M598.5 276.3h0M662.2 276.3h0M672.8 318.6h0M205.6 332.7h0M322.4 332.7h0M672.8 332.7h0M779 332.7h0M672.8 346.8h0M343.7 360.9h0M513.5 360.9h0M736.5 360.9h0M789.6 360.9h0M895.7 360.9h0M694 487.9h0M258.7 530.2h0M269.3 530.2h0M779 530.2h0M513.5 671.3h0M885.1 685.4h0M258.7 784.2h0M428.6 784.2h0M449.8 784.2h0M481.7 784.2h0M524.1 784.2h0M651.5 784.2h0M301.2 798.3h0M364.9 798.3h0M248.1 911.1h0M396.7 911.1h0M694 911.1h0M885.1 953.5h0M248.1 1024h0M683.4 1038.1h0"/>
<path stroke="#f8bb9e" stroke-width="7.65" d="M386.1 121.1h0M428.6 121.1h0M640.9 121.1h0M800.2 121.1h0M396.7 163.4h0M439.2 163.4h0M587.8 163.4h0M598.5 177.5h0M779 177.5h0M704.6 234h0M354.3 276.3h0M842.7 276.3h0M694 290.4h0M725.9 290.4h0M768.3 290.4h0M779 290.4h0M184.4 304.5h0M725.9 304.5h0M779 304.5h0M662.2 318.6h0M715.2 318.6h0M725.9 318.6h0M747.1 318.6h0M842.7 318.6h0M694 346.8h0M885.1 346.8h0M715.2 389.2h0M725.9 389.2h0M747.1 389.2h0M810.8 389.2h0M407.4 671.3h0M439.2 671.3h0M853.3 671.3h0M524.1 685.4h0M598.5 685.4h0M630.3 784.2h0M640.9 784.2h0M354.3 798.3h0M364.9 840.6h0M927.6 840.6h0M258.7 911.1h0M311.8 911.1h0M768.3 911.1h0M195 939.4h0"/>
<path stroke="#f8bb9e" stroke-width="8.9" d="M895.7 163.4h0M906.4 163.4h0M587.8 177.5h0M757.7 177.5h0M853.3 177.5h0M672.8 248.1h0M789.6 276.3h0M832 276.3h0M683.4 290.4h0M736.5 290.4h0M757.7 290.4h0M789.6 290.4h0M683.4 304.5h0M757.7 304.5h0M789.6 304.5h0M853.3 304.5h0M863.9 304.5h0M810.8 318.6h0M895.7 332.7h0M184.4 346.8h0M280 346.8h0M863.9 346.8h0M757.7 389.2h0M789.6 389.2h0M800.2 389.2h0M832 389.2h0M863.9 389.2h0M471.1 487.9h0M736.5 530.2h0M821.4 530.2h0M205.6 685.4h0M492.3 685.4h0M545.4 685.4h0M619.7 685.4h0M630.3 685.4h0M863.9 685.4h0M205.6 798.3h0M449.8 798.3h0M587.8 798.3h0M216.3 840.6h0M311.8 840.6h0M556 840.6h0M439.2 911.1h0M895.7 911.1h0"/>
<path stroke="#f8bb9e" stroke-width="10.15" d="M895.7 177.5h0M694 248.1h0M725.9 248.1h0M768.3 248.1h0M704.6 276.3h0M832 290.4h0M195 304.5h0M895.7 304.5h0M704.6 318.6h0M874.5 318.6h0M821.4 346.8h0M895.7 346.8h0M906.4 389.2h0M704.6 530.2h0M226.9 685.4h0M502.9 685.4h0M640.9 685.4h0M640.9 798.3h0M290.6 840.6h0M195 854.7h0"/>
<path stroke="#f8bb9e" stroke-width="11.4" d="M683.4 248.1h0M715.2 248.1h0M736.5 248.1h0M747.1 248.1h0M757.7 248.1h0M779 248.1h0M789.6 248.1h0M800.2 248.1h0M863.9 248.1h0M874.5 248.1h0M704.6 290.4h0M821.4 389.2h0M237.5 473.8h0M906.4 854.7h0"/>
<path stroke="#f8bb9e" stroke-width="12.65" d="M906.4 248.1h0"/>
<path stroke="#f9eee8" stroke-width="1.4" d="M471.1 205.7h0M832 205.7h0M842.7 205.7h0M863.9 205.7h0"/>
<path stroke="#f9eee8" stroke-width="2.65" d="M439.2 149.3h0M449.8 149.3h0M471.1 149.3h0M736.5 149.3h0M237.5 191.6h0M428.6 191.6h0M524.1 191.6h0M640.9 191.6h0M651.5 191.6h0M736.5 191.6h0M757.7 191.6h0M842.7 191.6h0M789.6 205.7h0M407.4 219.9h0M524.1 234h0M948.8 234h0M364.9 262.2h0M396.7 262.2h0M258.7 375h0M301.2 375h0M449.8 375h0M609.1 375h0M779 375h0M895.7 375h0M906.4 375h0M280 403.3h0M481.7 403.3h0M715.2 403.3h0M863.9 403.3h0M970.1 403.3h0M418 417.4h0M694 417.4h0M970.1 417.4h0M407.4 431.5h0M587.8 431.5h0M662.2 431.5h0M683.4 431.5h0M704.6 431.5h0M715.2 431.5h0M736.5 431.5h0M768.3 431.5h0M810.8 431.5h0M715.2 445.6h0M970.1 445.6h0M258.7 459.7h0M258.7 516.1h0M757.7 516.1h0M810.8 516.1h0M821.4 516.1h0M842.7 516.1h0M874.5 516.1h0M895.7 516.1h0M959.4 516.1h0M694 544.3h0M725.9 544.3h0M757.7 544.3h0M779 544.3h0M832 544.3h0M874.5 544.3h0M906.4 544.3h0M959.4 544.3h0M258.7 558.4h0M364.9 558.4h0M598.5 572.6h0M683.4 572.6h0M747.1 572.6h0M556 586.7h0M566.6 586.7h0M619.7 586.7h0M683.4 586.7h0M800.2 586.7h0M970.1 586.7h0M290.6 614.9h0M396.7 614.9h0M481.7 614.9h0M587.8 614.9h0M683.4 614.9h0M810.8 614.9h0M821.4 614.9h0M842.7 614.9h0M566.6 629h0M715.2 629h0M779 629h0M970.1 629h0M258.7 643.1h0M386.1 643.1h0M651.5 643.1h0M662.2 643.1h0M683.4 643.1h0M704.6 643.1h0M863.9 643.1h0M428.6 657.2h0M577.2 657.2h0M598.5 657.2h0M704.6 657.2h0M917 657.2h0M237.5 699.5h0M418 699.5h0M715.2 699.5h0M842.7 699.5h0M927.6 699.5h0M290.6 713.6h0M333 713.6h0M460.4 713.6h0M587.8 713.6h0M970.1 713.6h0M364.9 727.7h0M534.8 727.7h0M577.2 727.7h0M736.5 727.7h0M779 727.7h0M364.9 741.9h0M938.2 741.9h0M662.2 756h0M184.4 770.1h0M396.7 770.1h0M619.7 770.1h0M269.3 812.4h0M364.9 812.4h0M386.1 812.4h0M407.4 812.4h0M428.6 812.4h0M460.4 812.4h0M492.3 812.4h0M502.9 812.4h0M534.8 812.4h0M577.2 812.4h0M757.7 812.4h0M906.4 812.4h0M959.4 812.4h0M449.8 826.5h0M556 826.5h0M566.6 826.5h0M598.5 826.5h0M609.1 826.5h0M619.7 826.5h0M640.9 826.5h0M800.2 826.5h0M842.7 826.5h0M885.1 882.9h0M906.4 882.9h0M311.8 925.3h0M375.5 925.3h0M715.2 925.3h0M842.7 925.3h0M863.9 925.3h0M566.6 981.7h0M598.5 981.7h0M619.7 981.7h0M651.5 981.7h0M662.2 981.7h0M917 981.7h0M333 995.8h0M917 995.8h0M248.1 1009.9h0M269.3 1009.9h0M280 1009.9h0M460.4 1009.9h0M502.9 1009.9h0M630.3 1009.9h0M768.3 1009.9h0M779 1009.9h0M917 1009.9h0"/>
<path stroke="#f9eee8" stroke-width="3.9" d="M418 135.2h0M524.1 135.2h0M545.4 135.2h0M619.7 135.2h0M863.9 135.2h0M598.5 149.3h0M640.9 149.3h0M874.5 149.3h0M715.2 219.9h0M757.7 219.9h0M800.2 219.9h0M863.9 219.9h0M885.1 219.9h0M895.7 219.9h0M237.5 234h0M492.3 234h0M492.3 262.2h0M545.4 262.2h0M248.1 332.7h0M598.5 360.9h0M757.7 375h0M832 375h0M248.1 403.3h0M587.8 403.3h0M789.6 403.3h0M248.1 417.4h0M258.7 417.4h0M343.7 417.4h0M407.4 417.4h0M566.6 417.4h0M725.9 417.4h0M779 417.4h0M821.4 417.4h0M874.5 417.4h0M821.4 445.6h0M619.7 544.3h0M821.4 558.4h0M810.8 600.8h0M301.2 671.3h0M364.9 671.3h0M471.1 671.3h0M938.2 671.3h0M895.7 699.5h0M545.4 727.7h0M556 727.7h0M683.4 727.7h0M694 727.7h0M407.4 741.9h0M566.6 741.9h0M640.9 741.9h0M662.2 741.9h0M184.4 756h0M258.7 756h0M311.8 756h0M449.8 756h0M524.1 756h0M598.5 756h0M630.3 756h0M779 756h0M195 770.1h0M280 770.1h0M460.4 770.1h0M630.3 770.1h0M471.1 826.5h0M322.4 840.6h0M258.7 868.8h0M407.4 868.8h0M524.1 868.8h0M566.6 868.8h0M779 868.8h0M184.4 882.9h0M311.8 882.9h0M184.4 897h0M237.5 897h0M269.3 897h0M333 897h0M481.7 897h0M534.8 897h0M598.5 897h0M694 897h0M779 897h0M810.8 897h0M364.9 939.4h0M343.7 953.5h0M396.7 967.6h0M375.5 981.7h0M481.7 981.7h0M534.8 981.7h0M311.8 1024h0M948.8 1024h0M970.1 1038.1h0"/>
<path stroke="#f9eee8" stroke-width="5.15" d="M226.9 135.2h0M237.5 135.2h0M439.2 135.2h0M492.3 135.2h0M502.9 135.2h0M577.2 135.2h0M598.5 135.2h0M630.3 135.2h0M704.6 135.2h0M757.7 135.2h0M375.5 163.4h0M619.7 163.4h0M779 163.4h0M725.9 219.9h0M810.8 219.9h0M906.4 219.9h0M587.8 234h0M853.3 234h0M725.9 262.2h0M800.2 262.2h0M832 262.2h0M258.7 276.3h0M269.3 276.3h0M492.3 276.3h0M333 304.5h0M248.1 318.6h0M354.3 318.6h0M524.1 318.6h0M577.2 318.6h0M216.3 332.7h0M481.7 332.7h0M609.1 332.7h0M725.9 332.7h0M280 360.9h0M386.1 360.9h0M439.2 360.9h0M460.4 360.9h0M481.7 360.9h0M662.2 360.9h0M694 360.9h0M715.2 360.9h0M725.9 360.9h0M874.5 360.9h0M301.2 487.9h0M439.2 487.9h0M577.2 487.9h0M598.5 487.9h0M651.5 487.9h0M662.2 487.9h0M725.9 502h0M821.4 502h0M842.7 502h0M386.1 530.2h0M237.5 671.3h0M322.4 671.3h0M396.7 671.3h0M449.8 671.3h0M481.7 671.3h0M672.8 671.3h0M959.4 685.4h0M205.6 784.2h0M216.3 784.2h0M311.8 784.2h0M885.1 784.2h0M927.6 784.2h0M343.7 840.6h0M832 868.8h0M237.5 939.4h0M258.7 939.4h0M280 939.4h0M343.7 939.4h0M418 939.4h0M524.1 939.4h0M715.2 939.4h0M747.1 939.4h0M800.2 939.4h0M258.7 953.5h0M545.4 953.5h0M566.6 953.5h0M587.8 953.5h0M651.5 953.5h0M757.7 953.5h0M863.9 953.5h0M205.6 1024h0M280 1024h0M587.8 1024h0M609.1 1024h0M757.7 1024h0M885.1 1024h0M333 1038.1h0M364.9 1038.1h0M396.7 1038.1h0M428.6 1038.1h0M577.2 1038.1h0M715.2 1038.1h0M725.9 1038.1h0M757.7 1038.1h0M789.6 1038.1h0M832 1038.1h0M885.1 1038.1h0"/>
<path stroke="#f9eee8" stroke-width="6.4" d="M205.6 121.1h0M396.7 121.1h0M545.4 121.1h0M874.5 135.2h0M311.8 163.4h0M449.8 163.4h0M460.4 163.4h0M492.3 163.4h0M556 163.4h0M598.5 163.4h0M885.1 163.4h0M301.2 177.5h0M343.7 177.5h0M630.3 177.5h0M184.4 276.3h0M216.3 276.3h0M280 276.3h0M449.8 276.3h0M609.1 276.3h0M651.5 276.3h0M885.1 276.3h0M184.4 290.4h0M258.7 290.4h0M343.7 290.4h0M492.3 290.4h0M651.5 290.4h0M269.3 304.5h0M789.6 318.6h0M640.9 332.7h0M683.4 332.7h0M258.7 346.8h0M577.2 346.8h0M779 346.8h0M757.7 360.9h0M821.4 360.9h0M853.3 360.9h0M587.8 487.9h0M205.6 530.2h0M237.5 530.2h0M725.9 530.2h0M768.3 530.2h0M566.6 671.3h0M619.7 671.3h0M715.2 671.3h0M757.7 671.3h0M577.2 685.4h0M237.5 784.2h0M609.1 784.2h0M874.5 784.2h0M407.4 798.3h0M418 798.3h0M768.3 798.3h0M481.7 840.6h0M524.1 840.6h0M258.7 854.7h0M311.8 854.7h0M195 911.1h0M216.3 911.1h0M354.3 911.1h0M449.8 911.1h0M800.2 911.1h0M492.3 939.4h0M226.9 953.5h0M587.8 1038.1h0M821.4 1038.1h0M906.4 1038.1h0"/>
<path stroke="#f9eee8" stroke-width="7.65" d="M502.9 121.1h0M747.1 121.1h0M810.8 121.1h0M874.5 121.1h0M290.6 163.4h0M513.5 163.4h0M640.9 163.4h0M832 163.4h0M874.5 163.4h0M460.4 177.5h0M492.3 177.5h0M609.1 177.5h0M237.5 276.3h0M736.5 276.3h0M810.8 276.3h0M863.9 276.3h0M810.8 290.4h0M832 318.6h0M821.4 332.7h0M237.5 346.8h0M343.7 346.8h0M375.5 346.8h0M683.4 346.8h0M736.5 346.8h0M747.1 346.8h0M789.6 346.8h0M704.6 360.9h0M853.3 389.2h0M683.4 473.8h0M842.7 473.8h0M195 530.2h0M757.7 530.2h0M810.8 530.2h0M513.5 685.4h0M810.8 685.4h0M311.8 798.3h0M343.7 798.3h0M609.1 798.3h0M832 840.6h0M280 854.7h0M290.6 854.7h0M640.9 854.7h0M725.9 854.7h0M863.9 854.7h0M821.4 911.1h0M906.4 911.1h0"/>
<path stroke="#f9eee8" stroke-width="8.9" d="M821.4 304.5h0M195 473.8h0M439.2 473.8h0M460.4 473.8h0M715.2 473.8h0M747.1 473.8h0M609.1 685.4h0M757.7 685.4h0M502.9 798.3h0M757.7 854.7h0"/>
<path stroke="#f9eee8" stroke-width="10.15" d="M258.7 248.1h0M481.7 248.1h0M534.8 248.1h0M704.6 346.8h0M471.1 473.8h0M757.7 473.8h0"/>
<path stroke="#f9eee8" stroke-width="11.4" d="M195 248.1h0M471.1 248.1h0M704.6 473.8h0"/>
<path stroke="#fddbc7" stroke-width="1.4" d="M545.4 205.7h0M810.8 205.7h0"/>
<path stroke="#fddbc7" stroke-width="2.65" d="M301.2 149.3h0M407.4 149.3h0M524.1 149.3h0M534.8 149.3h0M609.1 149.3h0M800.2 149.3h0M885.1 149.3h0M226.9 191.6h0M513.5 191.6h0M704.6 191.6h0M715.2 191.6h0M768.3 191.6h0M810.8 191.6h0M832 191.6h0M269.3 205.7h0M407.4 205.7h0M460.4 205.7h0M715.2 205.7h0M747.1 205.7h0M333 219.9h0M248.1 262.2h0M736.5 375h0M768.3 403.3h0M779 403.3h0M577.2 431.5h0M800.2 431.5h0M959.4 431.5h0M789.6 445.6h0M832 445.6h0M842.7 445.6h0M959.4 445.6h0M322.4 459.7h0M694 459.7h0M725.9 459.7h0M970.1 459.7h0M226.9 516.1h0M577.2 516.1h0M683.4 516.1h0M832 516.1h0M863.9 516.1h0M885.1 558.4h0M534.8 586.7h0M577.2 586.7h0M587.8 586.7h0M959.4 586.7h0M396.7 600.8h0M343.7 614.9h0M694 614.9h0M917 614.9h0M959.4 629h0M311.8 643.1h0M354.3 643.1h0M768.3 643.1h0M959.4 643.1h0M439.2 657.2h0M524.1 657.2h0M662.2 657.2h0M768.3 657.2h0M970.1 657.2h0M502.9 699.5h0M545.4 699.5h0M556 699.5h0M736.5 699.5h0M757.7 699.5h0M863.9 699.5h0M874.5 699.5h0M237.5 713.6h0M258.7 713.6h0M354.3 713.6h0M418 713.6h0M609.1 713.6h0M683.4 713.6h0M694 713.6h0M768.3 713.6h0M842.7 713.6h0M938.2 727.7h0M917 741.9h0M959.4 741.9h0M205.6 770.1h0M927.6 770.1h0M237.5 812.4h0M513.5 812.4h0M524.1 812.4h0M842.7 812.4h0M364.9 826.5h0M428.6 826.5h0M927.6 826.5h0M396.7 882.9h0M683.4 882.9h0M938.2 897h0M386.1 925.3h0M502.9 925.3h0M609.1 925.3h0M683.4 925.3h0M757.7 925.3h0M609.1 981.7h0M396.7 995.8h0M577.2 995.8h0M354.3 1009.9h0M800.2 1009.9h0"/>
<path stroke="#fddbc7" stroke-width="3.9" d="M343.7 135.2h0M662.2 135.2h0M672.8 135.2h0M768.3 135.2h0M789.6 135.2h0M842.7 135.2h0M630.3 149.3h0M662.2 149.3h0M757.7 149.3h0M821.4 149.3h0M842.7 149.3h0M853.3 149.3h0M906.4 149.3h0M821.4 191.6h0M874.5 191.6h0M322.4 219.9h0M460.4 219.9h0M205.6 234h0M269.3 234h0M354.3 234h0M672.8 234h0M715.2 234h0M747.1 234h0M502.9 262.2h0M556 262.2h0M672.8 375h0M789.6 375h0M821.4 375h0M863.9 375h0M226.9 403.3h0M258.7 403.3h0M418 403.3h0M322.4 417.4h0M375.5 417.4h0M747.1 431.5h0M821.4 431.5h0M832 431.5h0M333 502h0M917 502h0M577.2 544.3h0M216.3 572.6h0M917 572.6h0M184.4 586.7h0M216.3 586.7h0M354.3 586.7h0M449.8 586.7h0M598.5 586.7h0M917 586.7h0M418 600.8h0M460.4 600.8h0M460.4 643.1h0M333 657.2h0M587.8 657.2h0M609.1 699.5h0M704.6 699.5h0M747.1 699.5h0M810.8 699.5h0M906.4 699.5h0M481.7 713.6h0M524.1 713.6h0M354.3 727.7h0M375.5 727.7h0M662.2 727.7h0M216.3 741.9h0M280 741.9h0M418 741.9h0M460.4 741.9h0M513.5 741.9h0M810.8 741.9h0M832 741.9h0M927.6 741.9h0M216.3 756h0M280 756h0M386.1 756h0M460.4 756h0M492.3 756h0M333 770.1h0M354.3 770.1h0M449.8 770.1h0M640.9 770.1h0M226.9 812.4h0M428.6 868.8h0M683.4 868.8h0M280 882.9h0M322.4 882.9h0M386.1 882.9h0M428.6 882.9h0M205.6 897h0M248.1 897h0M258.7 897h0M343.7 897h0M492.3 897h0M545.4 897h0M662.2 897h0M768.3 897h0M885.1 897h0M195 925.3h0M418 925.3h0M577.2 925.3h0M895.7 925.3h0M906.4 925.3h0M587.8 967.6h0M768.3 967.6h0M779 967.6h0M948.8 967.6h0M248.1 981.7h0M418 981.7h0M449.8 981.7h0M524.1 981.7h0M439.2 995.8h0M184.4 1009.9h0M237.5 1009.9h0M640.9 1009.9h0M301.2 1024h0"/>
<path stroke="#fddbc7" stroke-width="5.15" d="M216.3 135.2h0M428.6 135.2h0M471.1 135.2h0M556 135.2h0M683.4 135.2h0M715.2 135.2h0M810.8 135.2h0M333 163.4h0M672.8 177.5h0M694 177.5h0M471.1 234h0M810.8 234h0M513.5 262.2h0M577.2 262.2h0M715.2 262.2h0M747.1 262.2h0M789.6 262.2h0M810.8 262.2h0M364.9 276.3h0M672.8 304.5h0M258.7 318.6h0M237.5 332.7h0M386.1 332.7h0M407.4 332.7h0M418 332.7h0M566.6 332.7h0M619.7 332.7h0M768.3 332.7h0M364.9 360.9h0M375.5 360.9h0M747.1 360.9h0M779 360.9h0M885.1 360.9h0M439.2 417.4h0M386.1 487.9h0M407.4 487.9h0M449.8 487.9h0M619.7 487.9h0M630.3 487.9h0M768.3 487.9h0M184.4 502h0M715.2 502h0M736.5 502h0M747.1 502h0M757.7 502h0M768.3 502h0M800.2 502h0M885.1 502h0M248.1 530.2h0M375.5 530.2h0M407.4 530.2h0M694 530.2h0M195 586.7h0M970.1 671.3h0M640.9 727.7h0M651.5 727.7h0M534.8 756h0M269.3 784.2h0M354.3 784.2h0M375.5 784.2h0M396.7 784.2h0M418 784.2h0M375.5 868.8h0M492.3 868.8h0M534.8 868.8h0M885.1 868.8h0M216.3 897h0M301.2 897h0M375.5 897h0M407.4 897h0M715.2 897h0M906.4 897h0M407.4 911.1h0M386.1 939.4h0M407.4 939.4h0M428.6 939.4h0M545.4 939.4h0M556 939.4h0M195 953.5h0M619.7 953.5h0M683.4 953.5h0M407.4 967.6h0M184.4 1024h0M269.3 1024h0M333 1024h0M354.3 1024h0M471.1 1024h0M725.9 1024h0M779 1024h0M917 1024h0M354.3 1038.1h0M779 1038.1h0M938.2 1038.1h0"/>
<path stroke="#fddbc7" stroke-width="6.4" d="M311.8 121.1h0M577.2 121.1h0M598.5 121.1h0M736.5 121.1h0M779 121.1h0M906.4 135.2h0M258.7 163.4h0M343.7 163.4h0M407.4 163.4h0M428.6 163.4h0M577.2 163.4h0M715.2 163.4h0M747.1 163.4h0M800.2 163.4h0M842.7 163.4h0M853.3 163.4h0M715.2 177.5h0M747.1 177.5h0M757.7 262.2h0M821.4 262.2h0M895.7 262.2h0M205.6 276.3h0M524.1 276.3h0M587.8 276.3h0M619.7 276.3h0M630.3 276.3h0M694 276.3h0M725.9 276.3h0M768.3 276.3h0M779 276.3h0M226.9 290.4h0M534.8 290.4h0M566.6 290.4h0M481.7 304.5h0M662.2 304.5h0M184.4 318.6h0M184.4 332.7h0M311.8 332.7h0M343.7 332.7h0M439.2 332.7h0M694 332.7h0M842.7 332.7h0M269.3 346.8h0M768.3 346.8h0M683.4 360.9h0M810.8 360.9h0M832 360.9h0M906.4 360.9h0M280 487.9h0M672.8 487.9h0M683.4 487.9h0M810.8 502h0M364.9 530.2h0M396.7 530.2h0M662.2 530.2h0M683.4 530.2h0M524.1 671.3h0M598.5 671.3h0M630.3 671.3h0M768.3 671.3h0M779 671.3h0M789.6 671.3h0M800.2 671.3h0M471.1 685.4h0M917 685.4h0M927.6 685.4h0M184.4 784.2h0M290.6 784.2h0M439.2 784.2h0M492.3 784.2h0M513.5 784.2h0M556 784.2h0M598.5 784.2h0M226.9 798.3h0M396.7 798.3h0M428.6 840.6h0M534.8 840.6h0M375.5 911.1h0M386.1 911.1h0M418 911.1h0M428.6 911.1h0M683.4 911.1h0M747.1 911.1h0M779 911.1h0M842.7 911.1h0M322.4 939.4h0M513.5 939.4h0M375.5 1038.1h0"/>
<path stroke="#fddbc7" stroke-width="7.65" d="M481.7 121.1h0M513.5 121.1h0M651.5 121.1h0M715.2 121.1h0M853.3 121.1h0M237.5 163.4h0M280 163.4h0M471.1 163.4h0M502.9 163.4h0M789.6 163.4h0M863.9 163.4h0M556 177.5h0M725.9 177.5h0M768.3 177.5h0M789.6 177.5h0M800.2 177.5h0M842.7 177.5h0M863.9 177.5h0M683.4 276.3h0M715.2 276.3h0M747.1 276.3h0M800.2 276.3h0M513.5 290.4h0M226.9 304.5h0M715.2 304.5h0M747.1 304.5h0M800.2 304.5h0M842.7 304.5h0M800.2 318.6h0M513.5 332.7h0M757.7 332.7h0M810.8 332.7h0M853.3 332.7h0M863.9 332.7h0M874.5 332.7h0M205.6 346.8h0M216.3 346.8h0M333 346.8h0M524.1 346.8h0M662.2 346.8h0M715.2 346.8h0M757.7 346.8h0M800.2 346.8h0M810.8 346.8h0M853.3 346.8h0M736.5 389.2h0M333 473.8h0M184.4 487.9h0M704.6 487.9h0M757.7 487.9h0M810.8 487.9h0M874.5 487.9h0M885.1 487.9h0M895.7 487.9h0M906.4 487.9h0M704.6 502h0M311.8 530.2h0M715.2 530.2h0M789.6 530.2h0M800.2 530.2h0M492.3 671.3h0M502.9 671.3h0M216.3 685.4h0M587.8 685.4h0M768.3 685.4h0M779 685.4h0M184.4 798.3h0M216.3 798.3h0M280 798.3h0M375.5 798.3h0M439.2 798.3h0M524.1 798.3h0M545.4 798.3h0M556 798.3h0M598.5 798.3h0M651.5 798.3h0M354.3 840.6h0M418 840.6h0M545.4 840.6h0M248.1 854.7h0M333 854.7h0M418 854.7h0M545.4 854.7h0M566.6 854.7h0M779 854.7h0M460.4 911.1h0M662.2 911.1h0M715.2 911.1h0M757.7 911.1h0M810.8 911.1h0"/>
<path stroke="#fddbc7" stroke-width="8.9" d="M821.4 163.4h0M195 177.5h0M513.5 177.5h0M524.1 177.5h0M534.8 177.5h0M640.9 177.5h0M757.7 276.3h0M863.9 290.4h0M736.5 304.5h0M810.8 304.5h0M874.5 304.5h0M874.5 346.8h0M874.5 389.2h0M354.3 473.8h0M407.4 473.8h0M195 487.9h0M832 530.2h0M481.7 685.4h0M556 685.4h0M874.5 685.4h0M895.7 784.2h0M237.5 798.3h0M290.6 798.3h0M322.4 798.3h0M471.1 798.3h0M492.3 798.3h0M513.5 798.3h0M619.7 798.3h0M375.5 840.6h0M184.4 854.7h0M343.7 854.7h0M471.1 854.7h0M832 911.1h0"/>
<path stroke="#fddbc7" stroke-width="10.15" d="M704.6 121.1h0M821.4 177.5h0M906.4 177.5h0M577.2 248.1h0M662.2 248.1h0M853.3 248.1h0M821.4 276.3h0M704.6 304.5h0M906.4 304.5h0M821.4 318.6h0M906.4 346.8h0M704.6 389.2h0M375.5 473.8h0M789.6 473.8h0M810.8 473.8h0M832 473.8h0M630.3 798.3h0"/>
<path stroke="#fddbc7" stroke-width="11.4" d="M492.3 248.1h0M524.1 248.1h0M556 248.1h0"/>
<path stroke="#fddbc7" stroke-width="12.65" d="M513.5 248.1h0"/>
</g>
<path d="M178 111.5V1046.7H978.4" fill="none" stroke="#000" stroke-width="2.9" stroke-linejoin="miter"/>
<path d="M174.4 121.1h2.2M174.4 135.21h2.2M174.4 149.32h2.2M174.4 163.42h2.2M174.4 177.53h2.2M174.4 191.64h2.2M174.4 205.75h2.2M174.4 219.86h2.2M174.4 233.96h2.2M174.4 248.07h2.2M174.4 262.18h2.2M174.4 276.29h2.2M174.4 290.4h2.2M174.4 304.5h2.2M174.4 318.61h2.2M174.4 332.72h2.2M174.4 346.83h2.2M174.4 360.94h2.2M174.4 375.04h2.2M174.4 389.15h2.2M174.4 403.26h2.2M174.4 417.37h2.2M174.4 431.48h2.2M174.4 445.58h2.2M174.4 459.69h2.2M174.4 473.8h2.2M174.4 487.91h2.2M174.4 502.02h2.2M174.4 516.12h2.2M174.4 530.23h2.2M174.4 544.34h2.2M174.4 558.45h2.2M174.4 572.56h2.2M174.4 586.66h2.2M174.4 600.77h2.2M174.4 614.88h2.2M174.4 628.99h2.2M174.4 643.1h2.2M174.4 657.2h2.2M174.4 671.31h2.2M174.4 685.42h2.2M174.4 699.53h2.2M174.4 713.64h2.2M174.4 727.74h2.2M174.4 741.85h2.2M174.4 755.96h2.2M174.4 770.07h2.2M174.4 784.18h2.2M174.4 798.28h2.2M174.4 812.39h2.2M174.4 826.5h2.2M174.4 840.61h2.2M174.4 854.72h2.2M174.4 868.82h2.2M174.4 882.93h2.2M174.4 897.04h2.2M174.4 911.15h2.2M174.4 925.26h2.2M174.4 939.36h2.2M174.4 953.47h2.2M174.4 967.58h2.2M174.4 981.69h2.2M174.4 995.8h2.2M174.4 1009.9h2.2M174.4 1024.01h2.2M174.4 1038.12h2.2M184.4 1048.1v2.2M195.02 1048.1v2.2M205.63 1048.1v2.2M216.25 1048.1v2.2M226.87 1048.1v2.2M237.49 1048.1v2.2M248.1 1048.1v2.2M258.72 1048.1v2.2M269.34 1048.1v2.2M279.95 1048.1v2.2M290.57 1048.1v2.2M301.19 1048.1v2.2M311.8 1048.1v2.2M322.42 1048.1v2.2M333.04 1048.1v2.2M343.66 1048.1v2.2M354.27 1048.1v2.2M364.89 1048.1v2.2M375.51 1048.1v2.2M386.12 1048.1v2.2M396.74 1048.1v2.2M407.36 1048.1v2.2M417.97 1048.1v2.2M428.59 1048.1v2.2M439.21 1048.1v2.2M449.83 1048.1v2.2M460.44 1048.1v2.2M471.06 1048.1v2.2M481.68 1048.1v2.2M492.29 1048.1v2.2M502.91 1048.1v2.2M513.53 1048.1v2.2M524.14 1048.1v2.2M534.76 1048.1v2.2M545.38 1048.1v2.2M556 1048.1v2.2M566.61 1048.1v2.2M577.23 1048.1v2.2M587.85 1048.1v2.2M598.46 1048.1v2.2M609.08 1048.1v2.2M619.7 1048.1v2.2M630.31 1048.1v2.2M640.93 1048.1v2.2M651.55 1048.1v2.2M662.17 1048.1v2.2M672.78 1048.1v2.2M683.4 1048.1v2.2M694.02 1048.1v2.2M704.63 1048.1v2.2M715.25 1048.1v2.2M725.87 1048.1v2.2M736.48 1048.1v2.2M747.1 1048.1v2.2M757.72 1048.1v2.2M768.34 1048.1v2.2M778.95 1048.1v2.2M789.57 1048.1v2.2M800.19 1048.1v2.2M810.8 1048.1v2.2M821.42 1048.1v2.2M832.04 1048.1v2.2M842.65 1048.1v2.2M853.27 1048.1v2.2M863.89 1048.1v2.2M874.5 1048.1v2.2M885.12 1048.1v2.2M895.74 1048.1v2.2M906.36 1048.1v2.2M916.97 1048.1v2.2M927.59 1048.1v2.2M938.21 1048.1v2.2M948.82 1048.1v2.2M959.44 1048.1v2.2M970.06 1048.1v2.2" stroke="#000" stroke-width="2" fill="none"/>
<g font-style="italic" text-anchor="end" font-size="12.8">
<text x="170.2" y="125.1">STS</text>
<text x="174.3" y="139.2">SLC25A23</text>
<text x="171.4" y="153.3">SNPH</text>
<text x="172.7" y="167.4">IQSEC3</text>
<text x="172.7" y="181.5">SRCIN1</text>
<text x="175.3" y="195.6">SMIM10L2A</text>
<text x="173.2" y="209.7">CALHM6</text>
<text x="172.6" y="223.9">FBXL16</text>
<text x="171.1" y="238">TPPP</text>
<text x="173.9" y="252.1">PPP2R2C</text>
<text x="171" y="266.2">SYT5</text>
<text x="173.4" y="280.3">PACSIN1</text>
<text x="170.3" y="294.4">BSN</text>
<text x="172.3" y="308.5">KCNQ2</text>
<text x="171.7" y="322.6">MEIS3</text>
<text x="173.1" y="336.7">SHANK1</text>
<text x="170.9" y="350.8">JPH4</text>
<text x="173.1" y="364.9">SHANK3</text>
<text x="173.2" y="379">C1orf115</text>
<text x="173.5" y="393.2">SLC17A7</text>
<text x="171.8" y="407.3">NAT8L</text>
<text x="171.9" y="421.4">FADS2</text>
<text x="171.5" y="435.5">AMOT</text>
<text x="173.8" y="449.6">ALDH1A1</text>
<text x="171.2" y="463.7">MLC1</text>
<text x="172.3" y="477.8">OPHN1</text>
<text x="172.3" y="491.9">DDAH1</text>
<text x="171.9" y="506">TTYH1</text>
<text x="173.9" y="520.1">PPP1R1B</text>
<text x="171.5" y="534.2">NCAN</text>
<text x="172.2" y="548.3">CPED1</text>
<text x="173.9" y="562.4">SLCO2B1</text>
<text x="172.3" y="576.6">ANOS1</text>
<text x="173.8" y="590.7">ALDH6A1</text>
<text x="174" y="604.8">ZCCHC24</text>
<text x="172.2" y="618.9">PAQR6</text>
<text x="172.7" y="633">KCNJ10</text>
<text x="173.9" y="647.1">PLEKHB1</text>
<text x="172.2" y="661.2">CSRP1</text>
<text x="173.9" y="675.3">CABLES1</text>
<text x="170" y="689.4">ST5</text>
<text x="172" y="703.5">PLCD3</text>
<text x="172.3" y="717.6">MRPS7</text>
<text x="173.2" y="731.7">SLITRK2</text>
<text x="173" y="745.9">KBTBD3</text>
<text x="172.2" y="760">KCNA2</text>
<text x="172.8" y="774.1">IGDCC4</text>
<text x="175.8" y="788.2">ADCYAP1R1</text>
<text x="172.7" y="802.3">RNF157</text>
<text x="173.1" y="816.4">STOML1</text>
<text x="173.5" y="830.5">SLC13A4</text>
<text x="171.5" y="844.6">RERG</text>
<text x="172.3" y="858.7">FRMD3</text>
<text x="172.1" y="872.8">MZT2A</text>
<text x="172.8" y="886.9">AGPAT1</text>
<text x="170.1" y="901">TEF</text>
<text x="172.8" y="915.1">B3GAT1</text>
<text x="171.8" y="929.3">LYNX1</text>
<text x="171.5" y="943.4">FAIM2</text>
<text x="172.3" y="957.5">MAP1A</text>
<text x="173" y="971.6">TUBB4A</text>
<text x="173" y="985.7">TUBB2B</text>
<text x="172.3" y="999.8">GSTM5</text>
<text x="172.2" y="1013.9">PAQR8</text>
<text x="170.3" y="1028">MT3</text>
<text x="174.6" y="1042.1">SELENOW</text>
</g>
<g text-anchor="end" font-size="12.8">
<text transform="translate(188.1 1054.6) rotate(-90)">Inh L1–2 PAX6 CDH12</text>
<text transform="translate(198.72 1054.6) rotate(-90)">Inh L1–2 PAX6 TNFAIP8L3</text>
<text transform="translate(209.33 1054.6) rotate(-90)">Inh L1 SST NMBR</text>
<text transform="translate(219.95 1054.6) rotate(-90)">Inh L1–4 LAMP5 LCP2</text>
<text transform="translate(230.57 1054.6) rotate(-90)">Inh L1–2 LAMP5 DBP</text>
<text transform="translate(241.19 1054.6) rotate(-90)">Inh L2–6 LAMP5 CA1</text>
<text transform="translate(251.8 1054.6) rotate(-90)">Inh L1 SST CHRNA4</text>
<text transform="translate(262.42 1054.6) rotate(-90)">Inh L1–2 GAD1 MC4R</text>
<text transform="translate(273.04 1054.6) rotate(-90)">Inh L1–2 SST BAGE2</text>
<text transform="translate(283.65 1054.6) rotate(-90)">Inh L1–3 PAX6 SYT6</text>
<text transform="translate(294.27 1054.6) rotate(-90)">Inh L1–2 VIP TSPAN12</text>
<text transform="translate(304.89 1054.6) rotate(-90)">Inh L1–4 VIP CHRNA6</text>
<text transform="translate(315.5 1054.6) rotate(-90)">Inh L1–3 VIP ADAMTSL1</text>
<text transform="translate(326.12 1054.6) rotate(-90)">Inh L1–4 VIP PENK</text>
<text transform="translate(336.74 1054.6) rotate(-90)">Inh L2–6 VIP QPCT</text>
<text transform="translate(347.36 1054.6) rotate(-90)">Inh L3–6 VIP HS3ST3A1</text>
<text transform="translate(357.97 1054.6) rotate(-90)">Inh L1–2 VIP PCDH20</text>
<text transform="translate(368.59 1054.6) rotate(-90)">Inh L2–5 VIP SERPINF1</text>
<text transform="translate(379.21 1054.6) rotate(-90)">Inh L2–5 VIP TYR</text>
<text transform="translate(389.82 1054.6) rotate(-90)">Inh L1–3 VIP CHRM2</text>
<text transform="translate(400.44 1054.6) rotate(-90)">Inh L2–4 VIP CBLN1</text>
<text transform="translate(411.06 1054.6) rotate(-90)">Inh L1–3 VIP CCDC184</text>
<text transform="translate(421.67 1054.6) rotate(-90)">Inh L1–3 VIP GGH</text>
<text transform="translate(432.29 1054.6) rotate(-90)">Inh L1–2 VIP LBH</text>
<text transform="translate(442.91 1054.6) rotate(-90)">Inh L2–3 VIP CASC6</text>
<text transform="translate(453.53 1054.6) rotate(-90)">Inh L2–4 VIP SPAG17</text>
<text transform="translate(464.14 1054.6) rotate(-90)">Inh L1–4 VIP OPRM1</text>
<text transform="translate(474.76 1054.6) rotate(-90)">Inh L3–6 SST NPY</text>
<text transform="translate(485.38 1054.6) rotate(-90)">Inh L3–6 SST HPGD</text>
<text transform="translate(495.99 1054.6) rotate(-90)">Inh L4–6 SST B3GAT2</text>
<text transform="translate(506.61 1054.6) rotate(-90)">Inh L5–6 SST KLHDC8A</text>
<text transform="translate(517.23 1054.6) rotate(-90)">Inh L5–6 SST NPM1P10</text>
<text transform="translate(527.84 1054.6) rotate(-90)">Inh L4–6 SST GXYLT2</text>
<text transform="translate(538.46 1054.6) rotate(-90)">Inh L4–5 SST STK32A</text>
<text transform="translate(549.08 1054.6) rotate(-90)">Inh L1–3 SST CALB1</text>
<text transform="translate(559.7 1054.6) rotate(-90)">Inh L3–5 SST ADGRG6</text>
<text transform="translate(570.31 1054.6) rotate(-90)">Inh L2–4 SST FRZB</text>
<text transform="translate(580.93 1054.6) rotate(-90)">Inh L5–6 SST TH</text>
<text transform="translate(591.55 1054.6) rotate(-90)">Inh L5–6 GAD1 GLP1R</text>
<text transform="translate(602.16 1054.6) rotate(-90)">Inh L5–6 PVALB LGR5</text>
<text transform="translate(612.78 1054.6) rotate(-90)">Inh L4–5 PVALB MEPE</text>
<text transform="translate(623.4 1054.6) rotate(-90)">Inh L2–4 PVALB WFDC2</text>
<text transform="translate(634.01 1054.6) rotate(-90)">Inh L4–6 PVALB SULF1</text>
<text transform="translate(644.63 1054.6) rotate(-90)">Inh L5–6 SST MIR548F2</text>
<text transform="translate(655.25 1054.6) rotate(-90)">Inh L2–5 PVALB SCUBE3</text>
<text transform="translate(665.87 1054.6) rotate(-90)">Exc L2 LAMP5 LTK</text>
<text transform="translate(676.48 1054.6) rotate(-90)">Exc L2–4 LINC00507 GLP2R</text>
<text transform="translate(687.1 1054.6) rotate(-90)">Exc L2–3 LINC00507 FREM3</text>
<text transform="translate(697.72 1054.6) rotate(-90)">Exc L5–6 THEMIS C1QL3</text>
<text transform="translate(708.33 1054.6) rotate(-90)">Exc L3–4 RORB CARM1P1</text>
<text transform="translate(718.95 1054.6) rotate(-90)">Exc L3–5 RORB ESR1</text>
<text transform="translate(729.57 1054.6) rotate(-90)">Exc L3–5 RORB COL22A1</text>
<text transform="translate(740.18 1054.6) rotate(-90)">Exc L3–5 RORB FILIP1L</text>
<text transform="translate(750.8 1054.6) rotate(-90)">Exc L3–5 RORB TWIST2</text>
<text transform="translate(761.42 1054.6) rotate(-90)">Exc L4–5 RORB FOLH1B</text>
<text transform="translate(772.04 1054.6) rotate(-90)">Exc L4–6 RORB SEMA3E</text>
<text transform="translate(782.65 1054.6) rotate(-90)">Exc L4–5 RORB DAPK2</text>
<text transform="translate(793.27 1054.6) rotate(-90)">Exc L5–6 RORB TTC12</text>
<text transform="translate(803.89 1054.6) rotate(-90)">Exc L4–6 RORB C1R</text>
<text transform="translate(814.5 1054.6) rotate(-90)">Exc L4–5 FEZF2 SCN4B</text>
<text transform="translate(825.12 1054.6) rotate(-90)">Exc L5–6 THEMIS DCSTAMP</text>
<text transform="translate(835.74 1054.6) rotate(-90)">Exc L5–6 THEMIS CRABP1</text>
<text transform="translate(846.35 1054.6) rotate(-90)">Exc L5–6 THEMIS FGF10</text>
<text transform="translate(856.97 1054.6) rotate(-90)">Exc L4–6 FEZF2 IL26</text>
<text transform="translate(867.59 1054.6) rotate(-90)">Exc L5–6 FEZF2 ABO</text>
<text transform="translate(878.21 1054.6) rotate(-90)">Exc L6 FEZF2 SCUBE1</text>
<text transform="translate(888.82 1054.6) rotate(-90)">Exc L5–6 SLC17A7 IL15</text>
<text transform="translate(899.44 1054.6) rotate(-90)">Exc L6 FEZF2 OR2T8</text>
<text transform="translate(910.06 1054.6) rotate(-90)">Exc L5–6 FEZF2 EFTUD1P1</text>
<text transform="translate(920.67 1054.6) rotate(-90)">OPC L1–6 PDGFRA</text>
<text transform="translate(931.29 1054.6) rotate(-90)">Astro L1–6 FGFR3 SLC14A1</text>
<text transform="translate(941.91 1054.6) rotate(-90)">Astro L1–2 FGFR3 GFAP</text>
<text transform="translate(952.52 1054.6) rotate(-90)">Oligo L1–6 OPALIN</text>
<text transform="translate(963.14 1054.6) rotate(-90)">Endo L2–6 NOSTRIN</text>
<text transform="translate(973.76 1054.6) rotate(-90)">Micro L1–3 TYROBP</text>
</g>
<g text-anchor="middle" font-size="15.4">
<text x="48.2" y="146.3">Neuronal</text>
<text x="48.2" y="165">cells</text>
<text x="48.2" y="275.8">Excitatory</text>
<text x="48.2" y="294.9">neurons</text>
<text x="48.2" y="473.8">Astrocytes</text>
<text x="48.2" y="558.8">Microglia</text>
<text x="48.2" y="605.3">Non-neuronal</text>
<text x="48.2" y="623.6">cells</text>
<text x="48.2" y="692.6">Neuronal and</text>
<text x="48.2" y="711.6">non-neuronal</text>
<text x="48.2" y="729.6">cells</text>
<text x="48.2" y="797.9">Inhibitory</text>
<text x="48.2" y="816.4">neurons</text>
<text x="48.2" y="884">Neuronal</text>
<text x="48.2" y="902.4">cells</text>
<text x="48.2" y="943">Excitatory</text>
<text x="48.2" y="961.4">neurons</text>
<text x="48.2" y="990.3">Excitatory</text>
<text x="48.2" y="1008.4">neurons and</text>
<text x="48.2" y="1027.7">non-neuronal</text>
<text x="48.2" y="1046">cells</text>
</g>
<g fill="none" stroke="#3a3a3a" stroke-width="1" stroke-dasharray="5.3 5">
<rect x="1160.4" y="107.7" width="890.4" height="78.1"/>
<rect x="1160.4" y="187.6" width="890.4" height="207.6"/>
<rect x="1160.4" y="397.8" width="890.4" height="139.2"/>
<rect x="1160.4" y="539" width="890.4" height="26.9"/>
<rect x="1160.4" y="567.8" width="890.4" height="94.2"/>
<rect x="1160.4" y="664.2" width="890.4" height="82.5"/>
<rect x="1160.4" y="749.4" width="890.4" height="113.4"/>
<rect x="1160.4" y="865.5" width="890.4" height="52.5"/>
<rect x="1160.4" y="920.5" width="890.4" height="51.5"/>
<rect x="1160.4" y="974.7" width="893.2" height="71.8"/>
</g>
<g fill="none" stroke-linecap="round">
<path stroke="#317cb7" stroke-width="2.65" d="M1311.2 136.3h0M1523.4 136.3h0M1735.7 136.3h0M1979.7 164.5h0M1990.3 164.5h0M2001 164.5h0M2011.6 164.5h0M2022.2 164.5h0M2032.8 164.5h0M1990.3 178.6h0M2001 178.6h0M2022.2 249.1h0M1289.9 263.2h0M1979.7 277.3h0M1990.3 277.3h0M2001 277.3h0M2011.6 277.3h0M2022.2 277.3h0M2032.8 277.3h0M2011.6 305.5h0M2032.8 305.5h0M1714.4 319.6h0M1979.7 333.7h0M1990.3 333.7h0M2001 333.7h0M2011.6 333.7h0M2022.2 333.7h0M2032.8 333.7h0M1990.3 347.8h0M2001 347.8h0M2011.6 347.8h0M2022.2 347.8h0M2032.8 347.8h0M1311.2 361.9h0M1353.6 361.9h0M1289.9 742.6h0M1544.6 742.6h0M1640.1 756.7h0M1735.7 784.9h0M1894.8 784.9h0M2022.2 799h0M2032.8 799h0M1703.8 897.7h0M1937.3 954.1h0"/>
<path stroke="#317cb7" stroke-width="3.9" d="M1289.9 122.2h0M1311.2 122.2h0M1311.2 178.6h0M1289.9 940h0M2001 940h0"/>
<path stroke="#317cb7" stroke-width="5.15" d="M1735.7 799h0"/>
<path stroke="#66a9cf" stroke-width="2.65" d="M2011.6 122.2h0M1321.8 136.3h0M1364.2 136.3h0M1852.4 150.4h0M1979.7 178.6h0M2022.2 178.6h0M1289.9 220.9h0M1650.8 220.9h0M1427.9 235h0M1587.1 235h0M2032.8 249.1h0M1353.6 263.2h0M1661.4 263.2h0M2001 263.2h0M2011.6 291.4h0M2022.2 291.4h0M2032.8 291.4h0M2022.2 305.5h0M1311.2 319.6h0M1661.4 319.6h0M1364.2 361.9h0M1661.4 361.9h0M1735.7 361.9h0M2001 361.9h0M2032.8 361.9h0M1258.1 404.2h0M1311.2 404.2h0M1385.5 404.2h0M1650.8 404.2h0M1937.3 404.2h0M1332.4 488.8h0M1417.3 488.8h0M1629.5 502.9h0M1672 502.9h0M1385.5 587.5h0M1470.4 587.5h0M1735.7 587.5h0M1841.8 587.5h0M1481 672.1h0M1268.7 714.4h0M1321.8 714.4h0M1958.5 714.4h0M1258.1 742.6h0M1385.5 742.6h0M1587.1 742.6h0M1385.5 756.7h0M1894.8 756.7h0M2032.8 756.7h0M1534 770.8h0M1778.1 784.9h0M1884.2 784.9h0M1905.4 784.9h0M2011.6 784.9h0M2022.2 784.9h0M2032.8 784.9h0M1289.9 813.1h0M1587.1 813.1h0M1650.8 813.1h0M1353.6 827.2h0M1990.3 855.4h0M1311.2 883.6h0M1640.1 883.6h0M1905.4 883.6h0M1640.1 897.7h0M1544.6 911.8h0M1555.2 911.8h0M1587.1 911.8h0M1618.9 911.8h0M1650.8 911.8h0M1916.1 911.8h0M1268.7 925.9h0M1374.8 925.9h0M1385.5 925.9h0M1417.3 925.9h0M1438.5 1010.5h0M1597.7 1010.5h0"/>
<path stroke="#66a9cf" stroke-width="3.9" d="M1396.1 122.2h0M1417.3 122.2h0M1597.7 164.5h0M1979.7 249.1h0M1289.9 291.4h0M1990.3 291.4h0M1990.3 305.5h0M2001 305.5h0M1661.4 333.7h0M1979.7 347.8h0M1937.3 361.9h0M1937.3 531.1h0M1417.3 686.2h0M1459.7 686.2h0M1502.2 686.2h0M1863 784.9h0M1916.1 784.9h0M1725 855.4h0M1735.7 855.4h0M1544.6 869.5h0M1565.9 897.7h0M1650.8 897.7h0M1735.7 897.7h0M1852.4 897.7h0M1905.4 897.7h0M1576.5 911.8h0M1608.3 911.8h0M1629.5 911.8h0M1364.2 940h0M1990.3 940h0M1587.1 954.1h0M1587.1 1038.7h0M1661.4 1038.7h0"/>
<path stroke="#66a9cf" stroke-width="5.15" d="M1735.7 122.2h0M1459.7 249.1h0M1650.8 305.5h0M1385.5 474.7h0M1725 686.2h0M1735.7 686.2h0M1894.8 686.2h0M1725 799h0M1788.7 799h0M1714.4 855.4h0M1905.4 855.4h0M1258.1 1038.7h0"/>
<path stroke="#66a9cf" stroke-width="6.4" d="M1958.5 122.2h0M1470.4 249.1h0M1534 277.3h0M1841.8 799h0M1905.4 940h0M1958.5 1038.7h0"/>
<path stroke="#66a9cf" stroke-width="7.65" d="M1672 249.1h0"/>
<path stroke="#a1cde2" stroke-width="2.65" d="M2032.8 122.2h0M2011.6 136.3h0M2032.8 136.3h0M1332.4 150.4h0M1364.2 150.4h0M1374.8 150.4h0M1396.1 150.4h0M1459.7 150.4h0M1597.7 150.4h0M1661.4 150.4h0M2011.6 150.4h0M2032.8 178.6h0M1947.9 192.7h0M1629.5 220.9h0M1672 220.9h0M1332.4 235h0M1576.5 235h0M1661.4 235h0M1990.3 235h0M1279.3 263.2h0M1438.5 263.2h0M1449.1 263.2h0M1714.4 263.2h0M1979.7 263.2h0M1990.3 263.2h0M2011.6 263.2h0M2022.2 263.2h0M2032.8 263.2h0M2001 319.6h0M2032.8 319.6h0M1258.1 361.9h0M1990.3 361.9h0M1343 376h0M1353.6 376h0M1385.5 376h0M1427.9 376h0M1470.4 376h0M1491.6 376h0M1512.8 376h0M1534 376h0M1544.6 376h0M1576.5 376h0M1289.9 390.1h0M1703.8 390.1h0M1268.7 404.2h0M1321.8 404.2h0M1364.2 404.2h0M1576.5 404.2h0M1799.3 404.2h0M1884.2 404.2h0M1661.4 418.3h0M1672 418.3h0M1714.4 418.3h0M1735.7 418.3h0M1841.8 418.3h0M2011.6 488.8h0M2032.8 488.8h0M1353.6 502.9h0M1364.2 502.9h0M1385.5 502.9h0M1427.9 502.9h0M1438.5 502.9h0M1459.7 502.9h0M1565.9 502.9h0M1587.1 502.9h0M1650.8 502.9h0M1289.9 517h0M1343 517h0M1385.5 517h0M1396.1 517h0M1417.3 517h0M1438.5 517h0M1502.2 517h0M1587.1 517h0M1650.8 517h0M1937.3 517h0M1947.9 517h0M2011.6 531.1h0M2032.8 531.1h0M1565.9 587.5h0M1640.1 587.5h0M1703.8 587.5h0M1799.3 587.5h0M1809.9 587.5h0M1852.4 587.5h0M1905.4 587.5h0M1969.1 587.5h0M1289.9 615.7h0M1385.5 615.7h0M1841.8 615.7h0M1396.1 643.9h0M1809.9 643.9h0M1587.1 658h0M1969.1 658h0M1247.5 672.1h0M1311.2 672.1h0M1353.6 672.1h0M1396.1 672.1h0M1406.7 672.1h0M2011.6 672.1h0M2011.6 686.2h0M1289.9 700.3h0M1311.2 700.3h0M1385.5 700.3h0M1396.1 700.3h0M1417.3 700.3h0M1427.9 700.3h0M1438.5 700.3h0M1470.4 700.3h0M1481 700.3h0M1491.6 700.3h0M1512.8 700.3h0M1534 700.3h0M1852.4 700.3h0M1894.8 700.3h0M1905.4 700.3h0M1332.4 714.4h0M1597.7 714.4h0M1311.2 728.5h0M1321.8 728.5h0M1343 728.5h0M1353.6 728.5h0M1364.2 728.5h0M1374.8 728.5h0M1385.5 728.5h0M1502.2 728.5h0M1958.5 728.5h0M1364.2 742.6h0M1417.3 742.6h0M1491.6 742.6h0M1247.5 756.7h0M1937.3 756.7h0M2011.6 756.7h0M1279.3 770.8h0M1289.9 770.8h0M1565.9 770.8h0M1587.1 770.8h0M1725 770.8h0M1735.7 770.8h0M1746.3 770.8h0M1756.9 770.8h0M1778.1 770.8h0M1799.3 770.8h0M1809.9 770.8h0M1863 770.8h0M1884.2 770.8h0M1894.8 770.8h0M1905.4 770.8h0M1947.9 770.8h0M1958.5 770.8h0M1969.1 770.8h0M2022.2 770.8h0M1725 784.9h0M1979.7 784.9h0M1321.8 813.1h0M1364.2 813.1h0M1470.4 813.1h0M1534 813.1h0M1576.5 813.1h0M1672 813.1h0M2022.2 813.1h0M1258.1 827.2h0M1311.2 827.2h0M1343 827.2h0M1385.5 827.2h0M1544.6 827.2h0M1629.5 827.2h0M1703.8 827.2h0M1725 827.2h0M1735.7 827.2h0M1756.9 827.2h0M1809.9 827.2h0M1905.4 827.2h0M1958.5 827.2h0M1672 841.3h0M1703.8 841.3h0M1714.4 841.3h0M1788.7 841.3h0M1809.9 841.3h0M1841.8 841.3h0M2011.6 841.3h0M1979.7 855.4h0M2001 855.4h0M2011.6 855.4h0M2032.8 855.4h0M1735.7 869.5h0M1990.3 869.5h0M2001 869.5h0M1321.8 883.6h0M1587.1 883.6h0M1703.8 883.6h0M1990.3 883.6h0M2001 883.6h0M1979.7 897.7h0M2032.8 897.7h0M2022.2 911.8h0M2032.8 911.8h0M1427.9 925.9h0M1650.8 925.9h0M1863 925.9h0M1958.5 925.9h0M1979.7 925.9h0M2001 925.9h0M2032.8 940h0M1258.1 968.2h0M1417.3 968.2h0M1565.9 968.2h0M1576.5 968.2h0M1629.5 968.2h0M1650.8 968.2h0M1258.1 982.3h0M1289.9 982.3h0M1534 982.3h0M1767.5 982.3h0M1799.3 982.3h0M1809.9 982.3h0M1852.4 982.3h0M1884.2 982.3h0M1916.1 982.3h0M1937.3 982.3h0M1958.5 982.3h0M1969.1 982.3h0M1258.1 1010.5h0M1353.6 1010.5h0M1873.6 1010.5h0M1937.3 1010.5h0"/>
<path stroke="#a1cde2" stroke-width="3.9" d="M2001 122.2h0M2022.2 122.2h0M1289.9 136.3h0M1343 136.3h0M1385.5 136.3h0M1841.8 150.4h0M1258.1 220.9h0M1470.4 235h0M1502.2 235h0M1544.6 235h0M1629.5 235h0M1703.8 235h0M2011.6 249.1h0M1247.5 263.2h0M1417.3 263.2h0M1703.8 263.2h0M1937.3 263.2h0M1979.7 291.4h0M2001 291.4h0M1449.1 319.6h0M1470.4 319.6h0M1502.2 319.6h0M1597.7 319.6h0M1618.9 319.6h0M1682.6 319.6h0M1693.2 319.6h0M1703.8 319.6h0M1576.5 333.7h0M1640.1 333.7h0M1321.8 361.9h0M1703.8 361.9h0M1767.5 418.3h0M1958.5 418.3h0M1268.7 488.8h0M1279.3 488.8h0M1289.9 488.8h0M1300.6 488.8h0M1321.8 488.8h0M1374.8 488.8h0M1427.9 488.8h0M1597.7 488.8h0M1618.9 488.8h0M1958.5 502.9h0M1311.2 531.1h0M1406.7 531.1h0M1672 531.1h0M1693.2 531.1h0M1703.8 531.1h0M1735.7 531.1h0M1958.5 531.1h0M1343 672.1h0M1735.7 672.1h0M1809.9 672.1h0M1947.9 672.1h0M1364.2 686.2h0M1427.9 686.2h0M1438.5 686.2h0M1523.4 686.2h0M1799.3 714.4h0M1863 714.4h0M1873.6 714.4h0M1894.8 714.4h0M1300.6 742.6h0M1672 742.6h0M1799.3 742.6h0M1852.4 742.6h0M1873.6 742.6h0M1374.8 756.7h0M1523.4 756.7h0M1576.5 756.7h0M1809.9 756.7h0M1852.4 756.7h0M1884.2 756.7h0M1926.7 756.7h0M1947.9 756.7h0M1958.5 756.7h0M1969.1 756.7h0M1746.3 784.9h0M1799.3 784.9h0M1809.9 784.9h0M2011.6 799h0M1640.1 841.3h0M1650.8 841.3h0M1661.4 841.3h0M1682.6 841.3h0M1735.7 841.3h0M1767.5 841.3h0M1799.3 841.3h0M1820.5 841.3h0M1926.7 841.3h0M1279.3 855.4h0M1311.2 869.5h0M1343 869.5h0M1512.8 869.5h0M1873.6 883.6h0M1958.5 883.6h0M1321.8 897.7h0M1427.9 897.7h0M1587.1 897.7h0M1565.9 911.8h0M1597.7 911.8h0M1640.1 911.8h0M1661.4 911.8h0M1682.6 911.8h0M1703.8 911.8h0M1799.3 911.8h0M1809.9 911.8h0M1289.9 925.9h0M1534 925.9h0M2022.2 940h0M1788.7 954.1h0M1544.6 968.2h0M1767.5 968.2h0M1947.9 968.2h0M1258.1 1024.6h0M1332.4 1024.6h0M1353.6 1024.6h0M1374.8 1024.6h0M1565.9 1024.6h0M1587.1 1024.6h0M1629.5 1024.6h0M1640.1 1024.6h0M1672 1024.6h0M1311.2 1038.7h0"/>
<path stroke="#a1cde2" stroke-width="5.15" d="M1279.3 122.2h0M1427.9 122.2h0M1438.5 122.2h0M1597.7 122.2h0M1756.9 122.2h0M1894.8 136.3h0M1587.1 164.5h0M1735.7 164.5h0M1258.1 178.6h0M1343 178.6h0M1353.6 178.6h0M1459.7 178.6h0M1470.4 178.6h0M1427.9 249.1h0M2001 249.1h0M1406.7 277.3h0M1427.9 291.4h0M1502.2 291.4h0M1947.9 291.4h0M1438.5 305.5h0M1459.7 305.5h0M1512.8 305.5h0M1555.2 305.5h0M1565.9 305.5h0M1597.7 305.5h0M1661.4 305.5h0M1703.8 305.5h0M1353.6 319.6h0M1565.9 319.6h0M1863 333.7h0M1894.8 333.7h0M1417.3 347.8h0M1427.9 347.8h0M1311.2 474.7h0M1544.6 531.1h0M1576.5 531.1h0M1343 686.2h0M1374.8 686.2h0M1512.8 686.2h0M1714.4 686.2h0M1905.4 686.2h0M1820.5 784.9h0M1873.6 784.9h0M2001 799h0M1512.8 855.4h0M1682.6 855.4h0M1693.2 855.4h0M1746.3 855.4h0M1756.9 855.4h0M1767.5 869.5h0M1873.6 869.5h0M1937.3 869.5h0M1958.5 869.5h0M1534 911.8h0M1247.5 940h0M1799.3 940h0M1343 954.1h0M1799.3 954.1h0M1809.9 954.1h0M1534 1024.6h0M1767.5 1024.6h0M1852.4 1024.6h0M1947.9 1024.6h0M1672 1038.7h0"/>
<path stroke="#a1cde2" stroke-width="6.4" d="M1894.8 122.2h0M1300.6 249.1h0M1396.1 249.1h0M1958.5 277.3h0M1629.5 291.4h0M1534 305.5h0M1576.5 305.5h0M1672 305.5h0M1735.7 474.7h0M1258.1 686.2h0M1884.2 686.2h0M1289.9 799h0M1799.3 799h0M1916.1 799h0M1873.6 855.4h0M1258.1 940h0M1767.5 940h0M1884.2 940h0M1894.8 940h0M1534 954.1h0M1884.2 954.1h0M1947.9 954.1h0M1969.1 954.1h0M1534 1038.7h0M1799.3 1038.7h0"/>
<path stroke="#a1cde2" stroke-width="7.65" d="M1884.2 122.2h0M1682.6 249.1h0M1693.2 249.1h0M1746.3 799h0M1894.8 799h0M1905.4 799h0M1926.7 799h0M1958.5 799h0M1873.6 940h0"/>
<path stroke="#b2182b" stroke-width="2.65" d="M1417.3 192.7h0M1311.2 206.8h0M2032.8 206.8h0M1364.2 517h0M1735.7 714.4h0M1427.9 996.4h0M1990.3 996.4h0"/>
<path stroke="#b2182b" stroke-width="3.9" d="M1311.2 192.7h0M1534 206.8h0M1841.8 220.9h0M1735.7 235h0M1725 376h0M1756.9 376h0M1863 376h0M2022.2 376h0M1756.9 404.2h0M2001 404.2h0M1990.3 517h0M2001 517h0M1990.3 587.5h0M2001 587.5h0M1640.1 615.7h0M2001 615.7h0M2011.6 615.7h0M2022.2 615.7h0M1979.7 629.8h0M2011.6 629.8h0M2022.2 658h0M2001 700.3h0M1841.8 728.5h0M2011.6 742.6h0M1311.2 813.1h0M1289.9 827.2h0M1990.3 827.2h0M2001 827.2h0M1756.9 869.5h0M1756.9 883.6h0M1756.9 925.9h0M1735.7 982.3h0M1353.6 996.4h0M2001 996.4h0M2001 1010.5h0M2011.6 1010.5h0M2022.2 1010.5h0"/>
<path stroke="#b2182b" stroke-width="5.15" d="M1640.1 150.4h0M1735.7 150.4h0M1735.7 220.9h0M1756.9 235h0M2022.2 361.9h0M1990.3 404.2h0M1990.3 432.4h0M2001 432.4h0M1990.3 460.6h0M2001 460.6h0M2011.6 601.6h0M1990.3 615.7h0M1990.3 629.8h0M2001 629.8h0M1990.3 643.9h0M2001 643.9h0M2011.6 643.9h0M1990.3 658h0M2001 658h0M2011.6 658h0M1396.1 728.5h0M1979.7 728.5h0M1809.9 742.6h0M1990.3 756.7h0M1481 770.8h0M1937.3 827.2h0M1385.5 897.7h0M1756.9 968.2h0M1990.3 982.3h0M2001 982.3h0M1990.3 1010.5h0"/>
<path stroke="#b2182b" stroke-width="6.4" d="M2011.6 178.6h0M1778.1 446.5h0M1990.3 573.4h0M2001 573.4h0M1979.7 601.6h0M1756.9 954.1h0M1725 968.2h0M1735.7 968.2h0M1396.1 982.3h0M2001 1024.6h0"/>
<path stroke="#b2182b" stroke-width="7.65" d="M1990.3 418.3h0M1990.3 446.5h0M2001 446.5h0M2001 502.9h0M2022.2 559.3h0M1735.7 940h0M1756.9 940h0M1735.7 954.1h0M1990.3 1024.6h0M1756.9 1038.7h0"/>
<path stroke="#b2182b" stroke-width="8.9" d="M1735.7 390.1h0M2001 418.3h0M1990.3 502.9h0M1990.3 531.1h0M2001 531.1h0M1650.8 545.2h0M1661.4 545.2h0M1672 545.2h0M1703.8 545.2h0M2032.8 545.2h0M1534 573.4h0M1608.3 573.4h0M2022.2 1038.7h0"/>
<path stroke="#b2182b" stroke-width="10.15" d="M1958.5 136.3h0M1289.9 277.3h0M2001 488.8h0M2032.8 559.3h0"/>
<path stroke="#b2182b" stroke-width="11.4" d="M1958.5 333.7h0M1990.3 488.8h0"/>
<path stroke="#b2182b" stroke-width="12.65" d="M1979.7 474.7h0M1990.3 672.1h0"/>
<path stroke="#b2182b" stroke-width="13.9" d="M1990.3 474.7h0M2001 474.7h0"/>
<path stroke="#c33b3b" stroke-width="2.65" d="M1756.9 192.7h0M2011.6 587.5h0M1841.8 813.1h0M1459.7 996.4h0"/>
<path stroke="#c33b3b" stroke-width="3.9" d="M1311.2 220.9h0M1746.3 376h0M1841.8 404.2h0M1725 517h0M2032.8 573.4h0M1979.7 643.9h0M1672 700.3h0M1289.9 714.4h0M1459.7 770.8h0M1481 813.1h0M1756.9 813.1h0M1481 883.6h0M1502.2 883.6h0M2022.2 883.6h0M2011.6 968.2h0"/>
<path stroke="#c33b3b" stroke-width="5.15" d="M1311.2 263.2h0M1756.9 263.2h0M2011.6 502.9h0M1300.6 587.5h0M1799.3 700.3h0M1449.1 770.8h0M1385.5 869.5h0M1502.2 869.5h0M2022.2 1024.6h0"/>
<path stroke="#c33b3b" stroke-width="6.4" d="M1544.6 897.7h0M1841.8 954.1h0"/>
<path stroke="#c33b3b" stroke-width="7.65" d="M1841.8 305.5h0"/>
<path stroke="#c33b3b" stroke-width="8.9" d="M1258.1 333.7h0M1756.9 390.1h0"/>
<path stroke="#c33b3b" stroke-width="10.15" d="M1841.8 390.1h0"/>
<path stroke="#c33b3b" stroke-width="11.4" d="M1587.1 686.2h0M1321.8 841.3h0M1597.7 855.4h0"/>
<path stroke="#c33b3b" stroke-width="12.65" d="M1947.9 178.6h0M1958.5 686.2h0M1258.1 841.3h0"/>
<path stroke="#d3e6f0" stroke-width="2.65" d="M1979.7 136.3h0M1990.3 136.3h0M2001 136.3h0M2022.2 136.3h0M1311.2 150.4h0M1343 150.4h0M1385.5 150.4h0M1406.7 150.4h0M1449.1 150.4h0M1491.6 150.4h0M1523.4 150.4h0M1534 150.4h0M1788.7 150.4h0M2001 150.4h0M2032.8 150.4h0M1289.9 192.7h0M1300.6 192.7h0M1321.8 192.7h0M1332.4 192.7h0M1343 192.7h0M1364.2 192.7h0M1396.1 192.7h0M1427.9 192.7h0M1470.4 192.7h0M1534 192.7h0M1544.6 192.7h0M1629.5 192.7h0M1640.1 192.7h0M1672 192.7h0M1682.6 192.7h0M1693.2 192.7h0M1958.5 192.7h0M1417.3 206.8h0M1587.1 206.8h0M1597.7 206.8h0M1672 206.8h0M1714.4 206.8h0M1735.7 206.8h0M1788.7 206.8h0M1799.3 206.8h0M1809.9 206.8h0M1852.4 206.8h0M1863 206.8h0M1905.4 206.8h0M1916.1 206.8h0M1937.3 206.8h0M1947.9 206.8h0M1958.5 206.8h0M1268.7 220.9h0M1332.4 220.9h0M1364.2 220.9h0M1470.4 220.9h0M1502.2 220.9h0M1979.7 220.9h0M1990.3 220.9h0M2011.6 220.9h0M1364.2 235h0M1449.1 235h0M1459.7 235h0M1481 235h0M1672 235h0M1979.7 235h0M2001 235h0M2022.2 235h0M2032.8 235h0M1268.7 263.2h0M1990.3 319.6h0M2011.6 319.6h0M2022.2 319.6h0M1258.1 376h0M1279.3 376h0M1289.9 376h0M1311.2 376h0M1321.8 376h0M1332.4 376h0M1364.2 376h0M1374.8 376h0M1438.5 376h0M1459.7 376h0M1481 376h0M1502.2 376h0M1523.4 376h0M1555.2 376h0M1565.9 376h0M1587.1 376h0M1597.7 376h0M1608.3 376h0M1618.9 376h0M1629.5 376h0M1640.1 376h0M1650.8 376h0M1714.4 376h0M1937.3 376h0M1947.9 376h0M1958.5 376h0M1969.1 376h0M1268.7 390.1h0M1279.3 390.1h0M1321.8 390.1h0M1332.4 390.1h0M1396.1 390.1h0M1406.7 390.1h0M1438.5 390.1h0M1449.1 390.1h0M1491.6 390.1h0M1523.4 390.1h0M1597.7 390.1h0M1682.6 390.1h0M1693.2 390.1h0M1990.3 390.1h0M2001 390.1h0M2011.6 390.1h0M1300.6 404.2h0M1629.5 404.2h0M1661.4 404.2h0M1693.2 404.2h0M1703.8 404.2h0M1714.4 404.2h0M1809.9 404.2h0M1894.8 404.2h0M1905.4 404.2h0M2011.6 404.2h0M1332.4 418.3h0M1374.8 418.3h0M1396.1 418.3h0M1449.1 418.3h0M1481 418.3h0M1491.6 418.3h0M1523.4 418.3h0M1289.9 432.4h0M1311.2 432.4h0M1353.6 432.4h0M1438.5 432.4h0M1459.7 432.4h0M1470.4 432.4h0M1491.6 432.4h0M1512.8 432.4h0M1523.4 432.4h0M1544.6 432.4h0M1555.2 432.4h0M1587.1 432.4h0M1597.7 432.4h0M1608.3 432.4h0M1629.5 432.4h0M1640.1 432.4h0M1672 432.4h0M1682.6 432.4h0M1693.2 432.4h0M1714.4 432.4h0M1735.7 432.4h0M1831.2 432.4h0M1841.8 432.4h0M1916.1 432.4h0M1937.3 432.4h0M1947.9 432.4h0M1958.5 432.4h0M1672 446.5h0M1682.6 446.5h0M1693.2 446.5h0M1703.8 446.5h0M1725 446.5h0M1746.3 446.5h0M1820.5 446.5h0M1873.6 446.5h0M1884.2 446.5h0M1937.3 446.5h0M1947.9 446.5h0M1682.6 460.6h0M1693.2 460.6h0M1703.8 460.6h0M1767.5 460.6h0M1788.7 460.6h0M1799.3 460.6h0M1809.9 460.6h0M1820.5 460.6h0M1841.8 460.6h0M1873.6 460.6h0M1884.2 460.6h0M1894.8 460.6h0M1916.1 460.6h0M1926.7 460.6h0M1937.3 460.6h0M1947.9 460.6h0M1958.5 460.6h0M1311.2 502.9h0M1321.8 502.9h0M1396.1 502.9h0M1417.3 502.9h0M1449.1 502.9h0M1491.6 502.9h0M1502.2 502.9h0M1576.5 502.9h0M1661.4 502.9h0M1682.6 502.9h0M1406.7 517h0M1427.9 517h0M1491.6 517h0M1534 517h0M1544.6 517h0M1555.2 517h0M1618.9 517h0M1693.2 517h0M1703.8 517h0M1799.3 517h0M1809.9 517h0M1841.8 517h0M1884.2 517h0M2022.2 531.1h0M1841.8 573.4h0M1916.1 573.4h0M1332.4 587.5h0M1364.2 587.5h0M1502.2 587.5h0M1512.8 587.5h0M1544.6 587.5h0M1555.2 587.5h0M1597.7 587.5h0M1725 587.5h0M1746.3 587.5h0M1756.9 587.5h0M1767.5 587.5h0M1820.5 587.5h0M1863 587.5h0M1916.1 587.5h0M1947.9 587.5h0M1258.1 601.6h0M1289.9 601.6h0M1300.6 601.6h0M1311.2 601.6h0M1321.8 601.6h0M1332.4 601.6h0M1353.6 601.6h0M1364.2 601.6h0M1374.8 601.6h0M1385.5 601.6h0M1396.1 601.6h0M1438.5 601.6h0M1449.1 601.6h0M1459.7 601.6h0M1470.4 601.6h0M1502.2 601.6h0M1565.9 601.6h0M1576.5 601.6h0M1587.1 601.6h0M1618.9 601.6h0M1629.5 601.6h0M1672 601.6h0M1682.6 601.6h0M1714.4 601.6h0M1725 601.6h0M1767.5 601.6h0M1778.1 601.6h0M1799.3 601.6h0M1809.9 601.6h0M1894.8 601.6h0M1937.3 601.6h0M1947.9 601.6h0M1969.1 601.6h0M1311.2 615.7h0M1332.4 615.7h0M1353.6 615.7h0M1364.2 615.7h0M1406.7 615.7h0M1438.5 615.7h0M1459.7 615.7h0M1470.4 615.7h0M1491.6 615.7h0M1512.8 615.7h0M1555.2 615.7h0M1565.9 615.7h0M1576.5 615.7h0M1587.1 615.7h0M1597.7 615.7h0M1661.4 615.7h0M1672 615.7h0M1693.2 615.7h0M1703.8 615.7h0M1714.4 615.7h0M1725 615.7h0M1735.7 615.7h0M1767.5 615.7h0M1788.7 615.7h0M1799.3 615.7h0M1809.9 615.7h0M1852.4 615.7h0M1863 615.7h0M1873.6 615.7h0M1884.2 615.7h0M1894.8 615.7h0M1905.4 615.7h0M1916.1 615.7h0M1947.9 615.7h0M1958.5 615.7h0M1258.1 629.8h0M1268.7 629.8h0M1279.3 629.8h0M1289.9 629.8h0M1300.6 629.8h0M1311.2 629.8h0M1332.4 629.8h0M1353.6 629.8h0M1364.2 629.8h0M1374.8 629.8h0M1396.1 629.8h0M1417.3 629.8h0M1449.1 629.8h0M1470.4 629.8h0M1491.6 629.8h0M1502.2 629.8h0M1512.8 629.8h0M1544.6 629.8h0M1555.2 629.8h0M1565.9 629.8h0M1576.5 629.8h0M1587.1 629.8h0M1597.7 629.8h0M1618.9 629.8h0M1661.4 629.8h0M1693.2 629.8h0M1703.8 629.8h0M1714.4 629.8h0M1725 629.8h0M1735.7 629.8h0M1746.3 629.8h0M1756.9 629.8h0M1788.7 629.8h0M1799.3 629.8h0M1809.9 629.8h0M1841.8 629.8h0M1873.6 629.8h0M1884.2 629.8h0M1894.8 629.8h0M1947.9 629.8h0M1969.1 629.8h0M1258.1 643.9h0M1289.9 643.9h0M1311.2 643.9h0M1321.8 643.9h0M1374.8 643.9h0M1385.5 643.9h0M1417.3 643.9h0M1449.1 643.9h0M1470.4 643.9h0M1502.2 643.9h0M1523.4 643.9h0M1534 643.9h0M1565.9 643.9h0M1576.5 643.9h0M1587.1 643.9h0M1629.5 643.9h0M1672 643.9h0M1682.6 643.9h0M1693.2 643.9h0M1703.8 643.9h0M1714.4 643.9h0M1735.7 643.9h0M1767.5 643.9h0M1788.7 643.9h0M1799.3 643.9h0M1841.8 643.9h0M1852.4 643.9h0M1863 643.9h0M1873.6 643.9h0M1884.2 643.9h0M1937.3 643.9h0M1258.1 658h0M1279.3 658h0M1289.9 658h0M1311.2 658h0M1332.4 658h0M1343 658h0M1385.5 658h0M1396.1 658h0M1427.9 658h0M1470.4 658h0M1481 658h0M1502.2 658h0M1555.2 658h0M1576.5 658h0M1618.9 658h0M1629.5 658h0M1650.8 658h0M1672 658h0M1693.2 658h0M1703.8 658h0M1714.4 658h0M1725 658h0M1735.7 658h0M1767.5 658h0M1788.7 658h0M1799.3 658h0M1809.9 658h0M1831.2 658h0M1873.6 658h0M1884.2 658h0M1894.8 658h0M1905.4 658h0M1916.1 658h0M1937.3 658h0M1958.5 658h0M1258.1 700.3h0M1321.8 700.3h0M1332.4 700.3h0M1343 700.3h0M1449.1 700.3h0M1459.7 700.3h0M1502.2 700.3h0M1523.4 700.3h0M1640.1 700.3h0M1735.7 700.3h0M1756.9 700.3h0M1863 700.3h0M1884.2 700.3h0M1916.1 700.3h0M1926.7 700.3h0M1979.7 700.3h0M2011.6 700.3h0M1682.6 714.4h0M1714.4 714.4h0M1247.5 728.5h0M1268.7 728.5h0M1279.3 728.5h0M1332.4 728.5h0M1449.1 728.5h0M1459.7 728.5h0M1470.4 728.5h0M1491.6 728.5h0M1512.8 728.5h0M1555.2 728.5h0M1587.1 728.5h0M1608.3 728.5h0M1640.1 728.5h0M1650.8 728.5h0M1778.1 728.5h0M1799.3 728.5h0M1809.9 728.5h0M1884.2 728.5h0M1905.4 728.5h0M1916.1 728.5h0M1926.7 728.5h0M1937.3 728.5h0M1947.9 728.5h0M1969.1 728.5h0M2032.8 728.5h0M1332.4 742.6h0M1640.1 742.6h0M1661.4 742.6h0M1332.4 756.7h0M1364.2 756.7h0M1725 756.7h0M1746.3 756.7h0M1788.7 756.7h0M2022.2 756.7h0M1300.6 770.8h0M1396.1 770.8h0M1417.3 770.8h0M1555.2 770.8h0M1597.7 770.8h0M1608.3 770.8h0M1618.9 770.8h0M1767.5 770.8h0M1788.7 770.8h0M1820.5 770.8h0M1841.8 770.8h0M1852.4 770.8h0M1873.6 770.8h0M1916.1 770.8h0M1926.7 770.8h0M1937.3 770.8h0M2011.6 770.8h0M2032.8 770.8h0M1756.9 784.9h0M1385.5 813.1h0M1396.1 813.1h0M1491.6 813.1h0M1544.6 813.1h0M1693.2 813.1h0M1735.7 813.1h0M1788.7 813.1h0M1809.9 813.1h0M1831.2 813.1h0M1863 813.1h0M1884.2 813.1h0M1894.8 813.1h0M1916.1 813.1h0M1937.3 813.1h0M1979.7 813.1h0M2001 813.1h0M2011.6 813.1h0M2032.8 813.1h0M1268.7 827.2h0M1406.7 827.2h0M1417.3 827.2h0M1427.9 827.2h0M1438.5 827.2h0M1459.7 827.2h0M1576.5 827.2h0M1597.7 827.2h0M1618.9 827.2h0M1746.3 827.2h0M1767.5 827.2h0M1852.4 827.2h0M1873.6 827.2h0M1884.2 827.2h0M1385.5 841.3h0M2032.8 841.3h0M2011.6 869.5h0M2032.8 869.5h0M1258.1 883.6h0M1268.7 883.6h0M1300.6 883.6h0M1406.7 883.6h0M1555.2 883.6h0M1661.4 883.6h0M1672 883.6h0M1682.6 883.6h0M1778.1 883.6h0M1788.7 883.6h0M1831.2 883.6h0M1841.8 883.6h0M1852.4 883.6h0M1894.8 883.6h0M1926.7 883.6h0M2001 911.8h0M1279.3 925.9h0M1321.8 925.9h0M1364.2 925.9h0M1396.1 925.9h0M1406.7 925.9h0M1470.4 925.9h0M1565.9 925.9h0M1916.1 925.9h0M1990.3 925.9h0M2032.8 954.1h0M1279.3 968.2h0M1427.9 968.2h0M1470.4 968.2h0M1481 968.2h0M1491.6 968.2h0M1502.2 968.2h0M1512.8 968.2h0M1597.7 968.2h0M1608.3 968.2h0M1618.9 968.2h0M1661.4 968.2h0M1682.6 968.2h0M1714.4 968.2h0M1990.3 968.2h0M2001 968.2h0M1279.3 982.3h0M1332.4 982.3h0M1427.9 982.3h0M1459.7 982.3h0M1565.9 982.3h0M1618.9 982.3h0M1640.1 982.3h0M1725 982.3h0M1778.1 982.3h0M1788.7 982.3h0M1820.5 982.3h0M1831.2 982.3h0M1841.8 982.3h0M1863 982.3h0M1873.6 982.3h0M1894.8 982.3h0M1905.4 982.3h0M1926.7 982.3h0M1947.9 982.3h0M1332.4 996.4h0M1364.2 996.4h0M1385.5 996.4h0M1481 996.4h0M1534 996.4h0M1544.6 996.4h0M1555.2 996.4h0M1565.9 996.4h0M1576.5 996.4h0M1587.1 996.4h0M1597.7 996.4h0M1608.3 996.4h0M1693.2 996.4h0M1703.8 996.4h0M1714.4 996.4h0M1735.7 996.4h0M1756.9 996.4h0M1767.5 996.4h0M1778.1 996.4h0M1788.7 996.4h0M1799.3 996.4h0M1809.9 996.4h0M1820.5 996.4h0M1852.4 996.4h0M1873.6 996.4h0M1905.4 996.4h0M1916.1 996.4h0M1937.3 996.4h0M1947.9 996.4h0M1958.5 996.4h0M1268.7 1010.5h0M1279.3 1010.5h0M1321.8 1010.5h0M1332.4 1010.5h0M1343 1010.5h0M1364.2 1010.5h0M1374.8 1010.5h0M1385.5 1010.5h0M1565.9 1010.5h0M1587.1 1010.5h0M1640.1 1010.5h0M1735.7 1010.5h0M1767.5 1010.5h0M1788.7 1010.5h0M1799.3 1010.5h0M1947.9 1010.5h0M1969.1 1010.5h0"/>
<path stroke="#d3e6f0" stroke-width="3.9" d="M1979.7 122.2h0M1990.3 122.2h0M1332.4 136.3h0M1374.8 136.3h0M1406.7 136.3h0M1470.4 136.3h0M1502.2 136.3h0M1576.5 136.3h0M1640.1 136.3h0M1873.6 150.4h0M1894.8 150.4h0M1905.4 150.4h0M1937.3 150.4h0M1958.5 150.4h0M1969.1 150.4h0M1396.1 164.5h0M1343 220.9h0M1353.6 220.9h0M1374.8 220.9h0M1576.5 220.9h0M1587.1 220.9h0M1597.7 220.9h0M1608.3 220.9h0M1618.9 220.9h0M1661.4 220.9h0M1682.6 220.9h0M1693.2 220.9h0M1788.7 220.9h0M1947.9 220.9h0M1258.1 235h0M1289.9 235h0M1300.6 235h0M1321.8 235h0M1343 235h0M1374.8 235h0M1491.6 235h0M1523.4 235h0M1565.9 235h0M1597.7 235h0M1650.8 235h0M1300.6 263.2h0M1321.8 263.2h0M1332.4 263.2h0M1343 263.2h0M1364.2 263.2h0M1406.7 263.2h0M1470.4 263.2h0M1491.6 263.2h0M1650.8 263.2h0M1672 263.2h0M1693.2 263.2h0M1332.4 291.4h0M1979.7 305.5h0M1279.3 319.6h0M1289.9 319.6h0M1321.8 319.6h0M1438.5 319.6h0M1459.7 319.6h0M1523.4 319.6h0M1555.2 319.6h0M1629.5 319.6h0M1650.8 319.6h0M1916.1 319.6h0M1438.5 333.7h0M1481 333.7h0M1523.4 333.7h0M1247.5 361.9h0M1279.3 361.9h0M1300.6 361.9h0M1343 361.9h0M1470.4 361.9h0M1587.1 361.9h0M1672 361.9h0M1693.2 361.9h0M1714.4 361.9h0M1947.9 361.9h0M1247.5 390.1h0M1258.1 390.1h0M1300.6 390.1h0M1343 390.1h0M1353.6 390.1h0M1374.8 390.1h0M1385.5 390.1h0M1417.3 390.1h0M1459.7 390.1h0M1470.4 390.1h0M1481 390.1h0M1502.2 390.1h0M1512.8 390.1h0M1534 390.1h0M1544.6 390.1h0M1555.2 390.1h0M1565.9 390.1h0M1576.5 390.1h0M1587.1 390.1h0M1608.3 390.1h0M1618.9 390.1h0M1629.5 390.1h0M1650.8 390.1h0M1661.4 390.1h0M1672 390.1h0M1714.4 390.1h0M1640.1 404.2h0M1873.6 404.2h0M1947.9 404.2h0M1969.1 404.2h0M1258.1 418.3h0M1268.7 418.3h0M1343 418.3h0M1353.6 418.3h0M1438.5 418.3h0M1544.6 418.3h0M1597.7 418.3h0M1682.6 418.3h0M1693.2 418.3h0M1725 418.3h0M1746.3 418.3h0M1778.1 418.3h0M1799.3 418.3h0M1894.8 418.3h0M1916.1 418.3h0M1947.9 418.3h0M1969.1 418.3h0M2011.6 474.7h0M2032.8 474.7h0M1353.6 488.8h0M1396.1 488.8h0M1406.7 488.8h0M1438.5 488.8h0M1481 488.8h0M1502.2 488.8h0M1523.4 488.8h0M1576.5 488.8h0M1587.1 488.8h0M1629.5 488.8h0M1279.3 502.9h0M1289.9 502.9h0M1300.6 502.9h0M1343 502.9h0M1374.8 502.9h0M1406.7 502.9h0M1544.6 502.9h0M1555.2 502.9h0M1597.7 502.9h0M1618.9 502.9h0M1693.2 502.9h0M1703.8 502.9h0M1714.4 502.9h0M1937.3 502.9h0M1947.9 502.9h0M1396.1 531.1h0M1512.8 531.1h0M1523.4 531.1h0M1682.6 531.1h0M1714.4 531.1h0M1258.1 587.5h0M1258.1 672.1h0M1268.7 672.1h0M1279.3 672.1h0M1321.8 672.1h0M1650.8 672.1h0M1714.4 672.1h0M1756.9 672.1h0M1788.7 672.1h0M2022.2 672.1h0M1332.4 686.2h0M2032.8 686.2h0M1258.1 714.4h0M1300.6 714.4h0M1343 714.4h0M1385.5 714.4h0M1396.1 714.4h0M1534 714.4h0M1565.9 714.4h0M1576.5 714.4h0M1587.1 714.4h0M1672 714.4h0M1703.8 714.4h0M1746.3 714.4h0M1767.5 714.4h0M1788.7 714.4h0M1820.5 714.4h0M1852.4 714.4h0M1884.2 714.4h0M1916.1 714.4h0M1937.3 714.4h0M1969.1 714.4h0M1258.1 728.5h0M1767.5 728.5h0M1873.6 728.5h0M1343 742.6h0M1534 742.6h0M1576.5 742.6h0M1788.7 742.6h0M1884.2 742.6h0M1937.3 742.6h0M1947.9 742.6h0M1958.5 742.6h0M1969.1 742.6h0M1343 756.7h0M1417.3 756.7h0M1481 756.7h0M1799.3 756.7h0M1863 756.7h0M1905.4 756.7h0M1396.1 784.9h0M1788.7 784.9h0M1831.2 784.9h0M1343 813.1h0M1873.6 813.1h0M1396.1 841.3h0M1512.8 841.3h0M1629.5 841.3h0M1693.2 841.3h0M1725 841.3h0M1756.9 841.3h0M1778.1 841.3h0M1831.2 841.3h0M1863 841.3h0M1937.3 841.3h0M2001 841.3h0M1459.7 855.4h0M1247.5 869.5h0M1300.6 869.5h0M1321.8 869.5h0M1374.8 869.5h0M1650.8 869.5h0M1672 869.5h0M1703.8 869.5h0M1799.3 869.5h0M1820.5 869.5h0M1852.4 869.5h0M1884.2 869.5h0M1894.8 869.5h0M1947.9 869.5h0M1289.9 883.6h0M1343 883.6h0M1534 883.6h0M1767.5 883.6h0M1799.3 883.6h0M1937.3 883.6h0M1969.1 883.6h0M1353.6 897.7h0M1374.8 897.7h0M1417.3 897.7h0M1597.7 897.7h0M1672 897.7h0M1693.2 897.7h0M1820.5 897.7h0M1863 897.7h0M1884.2 897.7h0M1289.9 911.8h0M1300.6 911.8h0M1672 911.8h0M1693.2 911.8h0M1714.4 911.8h0M1788.7 911.8h0M1990.3 911.8h0M1343 925.9h0M1979.7 940h0M1289.9 954.1h0M1990.3 954.1h0M2001 954.1h0M1247.5 968.2h0M1300.6 968.2h0M1374.8 968.2h0M1385.5 968.2h0M1438.5 968.2h0M1534 968.2h0M1555.2 968.2h0M1693.2 968.2h0M1703.8 968.2h0M1799.3 968.2h0M1852.4 968.2h0M1873.6 968.2h0M1894.8 968.2h0M1905.4 968.2h0M1916.1 968.2h0M1937.3 968.2h0M1969.1 968.2h0M1247.5 1024.6h0M1268.7 1024.6h0M1289.9 1024.6h0M1300.6 1024.6h0M1321.8 1024.6h0M1343 1024.6h0M1385.5 1024.6h0M1396.1 1024.6h0M1406.7 1024.6h0M1417.3 1024.6h0M1470.4 1024.6h0M1502.2 1024.6h0M1512.8 1024.6h0M1576.5 1024.6h0M1597.7 1024.6h0M1608.3 1024.6h0M1618.9 1024.6h0M1650.8 1024.6h0M1661.4 1024.6h0M1682.6 1024.6h0M1693.2 1024.6h0M1714.4 1024.6h0M1799.3 1024.6h0"/>
<path stroke="#d3e6f0" stroke-width="5.15" d="M1555.2 122.2h0M1565.9 136.3h0M1884.2 136.3h0M1905.4 136.3h0M1247.5 164.5h0M1279.3 164.5h0M1374.8 164.5h0M1576.5 164.5h0M1608.3 164.5h0M1629.5 164.5h0M1650.8 164.5h0M1682.6 164.5h0M1693.2 164.5h0M1756.9 164.5h0M1247.5 178.6h0M1268.7 178.6h0M1279.3 178.6h0M1396.1 178.6h0M1406.7 178.6h0M1417.3 178.6h0M1438.5 178.6h0M1449.1 178.6h0M1481 178.6h0M1491.6 178.6h0M1512.8 178.6h0M1873.6 220.9h0M1884.2 220.9h0M1884.2 235h0M1364.2 249.1h0M1417.3 249.1h0M1332.4 277.3h0M1385.5 277.3h0M1449.1 277.3h0M1502.2 277.3h0M1523.4 277.3h0M1597.7 277.3h0M1247.5 291.4h0M1268.7 291.4h0M1311.2 291.4h0M1396.1 291.4h0M1406.7 291.4h0M1470.4 291.4h0M1481 291.4h0M1491.6 291.4h0M1512.8 291.4h0M1523.4 291.4h0M1597.7 291.4h0M1618.9 291.4h0M1693.2 291.4h0M1321.8 305.5h0M1396.1 305.5h0M1406.7 305.5h0M1427.9 305.5h0M1481 305.5h0M1608.3 305.5h0M1682.6 305.5h0M1693.2 305.5h0M1268.7 319.6h0M1300.6 319.6h0M1343 319.6h0M1544.6 319.6h0M1608.3 319.6h0M1640.1 319.6h0M1672 319.6h0M1417.3 333.7h0M1544.6 333.7h0M1555.2 333.7h0M1565.9 333.7h0M1597.7 333.7h0M1650.8 333.7h0M1693.2 333.7h0M1714.4 333.7h0M1809.9 333.7h0M1873.6 418.3h0M1884.2 418.3h0M1332.4 474.7h0M1470.4 488.8h0M1555.2 488.8h0M1565.9 488.8h0M1608.3 488.8h0M1661.4 488.8h0M1778.1 488.8h0M1809.9 488.8h0M1534 502.9h0M1491.6 531.1h0M1555.2 531.1h0M1565.9 531.1h0M1587.1 531.1h0M1597.7 531.1h0M1608.3 531.1h0M1618.9 531.1h0M1640.1 531.1h0M1661.4 531.1h0M1969.1 531.1h0M1523.4 672.1h0M1544.6 672.1h0M1608.3 672.1h0M1746.3 672.1h0M1799.3 672.1h0M1873.6 672.1h0M1905.4 672.1h0M1969.1 672.1h0M1321.8 686.2h0M1353.6 686.2h0M1396.1 686.2h0M1406.7 686.2h0M1449.1 686.2h0M1470.4 686.2h0M1481 686.2h0M1491.6 686.2h0M1756.9 686.2h0M1544.6 756.7h0M1852.4 784.9h0M1926.7 784.9h0M1523.4 799h0M1565.9 841.3h0M1746.3 841.3h0M1852.4 841.3h0M1905.4 841.3h0M1916.1 841.3h0M1958.5 841.3h0M1311.2 855.4h0M1364.2 855.4h0M1427.9 855.4h0M1491.6 855.4h0M1778.1 855.4h0M1809.9 855.4h0M1863 855.4h0M1894.8 855.4h0M1916.1 855.4h0M1534 869.5h0M1958.5 897.7h0M1258.1 911.8h0M1650.8 940h0M1661.4 940h0M1809.9 940h0M1247.5 954.1h0M1258.1 954.1h0M1321.8 954.1h0M1374.8 954.1h0M1385.5 954.1h0M1502.2 954.1h0M1565.9 954.1h0M1597.7 954.1h0M1629.5 954.1h0M1852.4 954.1h0M1703.8 1024.6h0M1873.6 1024.6h0M1884.2 1024.6h0M1905.4 1024.6h0M1958.5 1024.6h0M1969.1 1024.6h0M1279.3 1038.7h0M1300.6 1038.7h0M1343 1038.7h0M1502.2 1038.7h0M1512.8 1038.7h0M1555.2 1038.7h0M1565.9 1038.7h0M1608.3 1038.7h0M1618.9 1038.7h0M1629.5 1038.7h0M1640.1 1038.7h0M1682.6 1038.7h0M1693.2 1038.7h0"/>
<path stroke="#d3e6f0" stroke-width="6.4" d="M1343 122.2h0M1788.7 122.2h0M1905.4 122.2h0M1746.3 164.5h0M1725 178.6h0M1279.3 249.1h0M1311.2 249.1h0M1332.4 249.1h0M1438.5 249.1h0M1449.1 249.1h0M1481 249.1h0M1491.6 249.1h0M1512.8 249.1h0M1523.4 249.1h0M1990.3 249.1h0M1629.5 277.3h0M1640.1 277.3h0M1916.1 277.3h0M1258.1 291.4h0M1300.6 291.4h0M1544.6 291.4h0M1608.3 291.4h0M1640.1 291.4h0M1661.4 291.4h0M1385.5 305.5h0M1438.5 347.8h0M1523.4 347.8h0M1661.4 347.8h0M1693.2 347.8h0M1714.4 347.8h0M1247.5 474.7h0M1321.8 474.7h0M1364.2 474.7h0M1374.8 474.7h0M1512.8 474.7h0M1555.2 474.7h0M1597.7 474.7h0M1618.9 474.7h0M1629.5 474.7h0M1534 531.1h0M1746.3 686.2h0M1767.5 784.9h0M1969.1 784.9h0M1258.1 799h0M1502.2 799h0M1756.9 799h0M1778.1 799h0M1809.9 799h0M1672 855.4h0M1947.9 911.8h0M1534 940h0M1703.8 940h0M1820.5 940h0M1767.5 954.1h0M1894.8 954.1h0M1905.4 954.1h0M1958.5 954.1h0M1937.3 1024.6h0M1576.5 1038.7h0"/>
<path stroke="#d3e6f0" stroke-width="7.65" d="M1926.7 122.2h0M1565.9 178.6h0M1735.7 178.6h0M1746.3 178.6h0M1406.7 249.1h0M1608.3 249.1h0M1629.5 249.1h0M1661.4 249.1h0M1714.4 249.1h0M1969.1 291.4h0M1544.6 347.8h0M1565.9 347.8h0M1650.8 347.8h0M1672 347.8h0M1682.6 347.8h0M1703.8 347.8h0M1544.6 474.7h0M1565.9 474.7h0M1576.5 474.7h0M1587.1 474.7h0M1650.8 474.7h0M1682.6 474.7h0M1703.8 474.7h0M1714.4 474.7h0M1916.1 474.7h0M1820.5 799h0M1852.4 799h0M1852.4 855.4h0M1672 940h0M1852.4 940h0M1937.3 940h0M1958.5 940h0M1905.4 1038.7h0M1937.3 1038.7h0"/>
<path stroke="#d3e6f0" stroke-width="8.9" d="M1650.8 249.1h0M1703.8 249.1h0M1534 347.8h0M1640.1 474.7h0M1672 474.7h0M1884.2 799h0M1969.1 799h0M1969.1 940h0"/>
<path stroke="#d55d4c" stroke-width="2.65" d="M2032.8 432.4h0M2022.2 925.9h0"/>
<path stroke="#d55d4c" stroke-width="3.9" d="M1587.1 150.4h0M1756.9 220.9h0M1289.9 587.5h0M1587.1 587.5h0M1841.8 714.4h0M1523.4 770.8h0M1565.9 813.1h0M1725 813.1h0M1587.1 827.2h0M1512.8 883.6h0M1417.3 1010.5h0"/>
<path stroke="#d55d4c" stroke-width="5.15" d="M1597.7 136.3h0M1714.4 150.4h0M1640.1 235h0M1289.9 404.2h0M1629.5 573.4h0M1650.8 714.4h0M1693.2 728.5h0M1714.4 728.5h0M1353.6 742.6h0M1587.1 756.7h0M1714.4 756.7h0M1841.8 756.7h0M1289.9 869.5h0M1661.4 897.7h0M1481 982.3h0M1735.7 1024.6h0M1756.9 1024.6h0M1863 1024.6h0M2011.6 1038.7h0"/>
<path stroke="#d55d4c" stroke-width="6.4" d="M1661.4 136.3h0M1311.2 164.5h0M1725 263.2h0M1841.8 263.2h0M1979.7 488.8h0M1682.6 573.4h0M1311.2 799h0M1289.9 897.7h0M1427.9 911.8h0M1459.7 911.8h0M1831.2 954.1h0"/>
<path stroke="#d55d4c" stroke-width="7.65" d="M1470.4 122.2h0M1470.4 164.5h0M1841.8 277.3h0M1289.9 333.7h0M1396.1 333.7h0M1714.4 545.2h0M1512.8 911.8h0M1725 1038.7h0"/>
<path stroke="#d55d4c" stroke-width="8.9" d="M1693.2 122.2h0M1725 291.4h0M1778.1 291.4h0M1809.9 291.4h0M1831.2 291.4h0M1788.7 305.5h0M1799.3 305.5h0M1947.9 319.6h0M1725 390.1h0M1289.9 686.2h0M1661.4 784.9h0M1364.2 799h0M1353.6 954.1h0"/>
<path stroke="#d55d4c" stroke-width="10.15" d="M1916.1 178.6h0M1937.3 178.6h0M1937.3 319.6h0M1258.1 347.8h0M1311.2 841.3h0M1332.4 841.3h0M1449.1 841.3h0M1385.5 855.4h0"/>
<path stroke="#d55d4c" stroke-width="11.4" d="M1905.4 291.4h0M1969.1 319.6h0M1279.3 474.7h0M1937.3 488.8h0M1629.5 686.2h0"/>
<path stroke="#d55d4c" stroke-width="12.65" d="M1937.3 855.4h0M1947.9 855.4h0"/>
<path stroke="#d55d4c" stroke-width="13.9" d="M1767.5 249.1h0"/>
<path stroke="#ebf1f5" stroke-width="1.4" d="M1279.3 206.8h0M1406.7 206.8h0M1608.3 206.8h0"/>
<path stroke="#ebf1f5" stroke-width="2.65" d="M1247.5 150.4h0M1258.1 150.4h0M1268.7 150.4h0M1279.3 150.4h0M1289.9 150.4h0M1300.6 150.4h0M1321.8 150.4h0M1470.4 150.4h0M1481 150.4h0M1502.2 150.4h0M1512.8 150.4h0M1618.9 150.4h0M1629.5 150.4h0M1725 150.4h0M1799.3 150.4h0M1979.7 150.4h0M1990.3 150.4h0M2022.2 150.4h0M1247.5 192.7h0M1258.1 192.7h0M1268.7 192.7h0M1279.3 192.7h0M1374.8 192.7h0M1385.5 192.7h0M1406.7 192.7h0M1438.5 192.7h0M1449.1 192.7h0M1459.7 192.7h0M1481 192.7h0M1491.6 192.7h0M1502.2 192.7h0M1523.4 192.7h0M1555.2 192.7h0M1565.9 192.7h0M1576.5 192.7h0M1597.7 192.7h0M1608.3 192.7h0M1618.9 192.7h0M1661.4 192.7h0M1703.8 192.7h0M1714.4 192.7h0M1735.7 192.7h0M1767.5 192.7h0M1778.1 192.7h0M1788.7 192.7h0M1799.3 192.7h0M1809.9 192.7h0M1820.5 192.7h0M1841.8 192.7h0M1852.4 192.7h0M1863 192.7h0M1873.6 192.7h0M1884.2 192.7h0M1916.1 192.7h0M1926.7 192.7h0M1969.1 192.7h0M1979.7 192.7h0M1990.3 192.7h0M2001 192.7h0M2011.6 192.7h0M2022.2 192.7h0M2032.8 192.7h0M1247.5 206.8h0M1258.1 206.8h0M1268.7 206.8h0M1289.9 206.8h0M1300.6 206.8h0M1343 206.8h0M1353.6 206.8h0M1374.8 206.8h0M1385.5 206.8h0M1396.1 206.8h0M1427.9 206.8h0M1438.5 206.8h0M1449.1 206.8h0M1481 206.8h0M1491.6 206.8h0M1512.8 206.8h0M1523.4 206.8h0M1555.2 206.8h0M1565.9 206.8h0M1576.5 206.8h0M1618.9 206.8h0M1629.5 206.8h0M1640.1 206.8h0M1650.8 206.8h0M1661.4 206.8h0M1682.6 206.8h0M1693.2 206.8h0M1725 206.8h0M1746.3 206.8h0M1767.5 206.8h0M1778.1 206.8h0M1820.5 206.8h0M1831.2 206.8h0M1841.8 206.8h0M1873.6 206.8h0M1894.8 206.8h0M1969.1 206.8h0M1979.7 206.8h0M1990.3 206.8h0M2001 206.8h0M2011.6 206.8h0M2022.2 206.8h0M1279.3 220.9h0M1300.6 220.9h0M1321.8 220.9h0M1396.1 220.9h0M1406.7 220.9h0M1427.9 220.9h0M1438.5 220.9h0M1459.7 220.9h0M1523.4 220.9h0M2001 220.9h0M2022.2 220.9h0M2032.8 220.9h0M1268.7 235h0M1406.7 235h0M1438.5 235h0M1512.8 235h0M1608.3 235h0M1618.9 235h0M1427.9 263.2h0M1459.7 263.2h0M1481 263.2h0M1979.7 361.9h0M1247.5 376h0M1268.7 376h0M1300.6 376h0M1396.1 376h0M1406.7 376h0M1449.1 376h0M1661.4 376h0M1672 376h0M1682.6 376h0M1693.2 376h0M1809.9 376h0M1873.6 376h0M1926.7 376h0M1979.7 376h0M1990.3 376h0M2001 376h0M2011.6 376h0M2032.8 376h0M1311.2 390.1h0M1364.2 390.1h0M1427.9 390.1h0M1979.7 390.1h0M2022.2 390.1h0M2032.8 390.1h0M1247.5 404.2h0M1279.3 404.2h0M1332.4 404.2h0M1353.6 404.2h0M1374.8 404.2h0M1427.9 404.2h0M1438.5 404.2h0M1449.1 404.2h0M1555.2 404.2h0M1565.9 404.2h0M1597.7 404.2h0M1608.3 404.2h0M1618.9 404.2h0M1672 404.2h0M1682.6 404.2h0M1735.7 404.2h0M1778.1 404.2h0M1788.7 404.2h0M1820.5 404.2h0M1916.1 404.2h0M1926.7 404.2h0M1958.5 404.2h0M1979.7 404.2h0M2022.2 404.2h0M2032.8 404.2h0M1247.5 418.3h0M1406.7 418.3h0M1417.3 418.3h0M2032.8 418.3h0M1247.5 432.4h0M1268.7 432.4h0M1279.3 432.4h0M1300.6 432.4h0M1321.8 432.4h0M1332.4 432.4h0M1343 432.4h0M1364.2 432.4h0M1374.8 432.4h0M1385.5 432.4h0M1406.7 432.4h0M1417.3 432.4h0M1427.9 432.4h0M1449.1 432.4h0M1481 432.4h0M1502.2 432.4h0M1565.9 432.4h0M1576.5 432.4h0M1618.9 432.4h0M1650.8 432.4h0M1661.4 432.4h0M1703.8 432.4h0M1725 432.4h0M1756.9 432.4h0M1767.5 432.4h0M1799.3 432.4h0M1809.9 432.4h0M1820.5 432.4h0M1873.6 432.4h0M1926.7 432.4h0M1969.1 432.4h0M1979.7 432.4h0M2011.6 432.4h0M1247.5 446.5h0M1258.1 446.5h0M1268.7 446.5h0M1279.3 446.5h0M1289.9 446.5h0M1300.6 446.5h0M1311.2 446.5h0M1321.8 446.5h0M1332.4 446.5h0M1343 446.5h0M1353.6 446.5h0M1364.2 446.5h0M1374.8 446.5h0M1385.5 446.5h0M1396.1 446.5h0M1406.7 446.5h0M1417.3 446.5h0M1427.9 446.5h0M1438.5 446.5h0M1449.1 446.5h0M1459.7 446.5h0M1470.4 446.5h0M1481 446.5h0M1491.6 446.5h0M1502.2 446.5h0M1512.8 446.5h0M1523.4 446.5h0M1534 446.5h0M1544.6 446.5h0M1555.2 446.5h0M1565.9 446.5h0M1576.5 446.5h0M1587.1 446.5h0M1597.7 446.5h0M1608.3 446.5h0M1618.9 446.5h0M1629.5 446.5h0M1640.1 446.5h0M1650.8 446.5h0M1661.4 446.5h0M1714.4 446.5h0M1735.7 446.5h0M1756.9 446.5h0M1767.5 446.5h0M1799.3 446.5h0M1831.2 446.5h0M1916.1 446.5h0M1926.7 446.5h0M1958.5 446.5h0M1969.1 446.5h0M1979.7 446.5h0M2011.6 446.5h0M2032.8 446.5h0M1247.5 460.6h0M1258.1 460.6h0M1268.7 460.6h0M1279.3 460.6h0M1289.9 460.6h0M1300.6 460.6h0M1321.8 460.6h0M1332.4 460.6h0M1343 460.6h0M1353.6 460.6h0M1374.8 460.6h0M1385.5 460.6h0M1396.1 460.6h0M1406.7 460.6h0M1417.3 460.6h0M1427.9 460.6h0M1438.5 460.6h0M1449.1 460.6h0M1459.7 460.6h0M1470.4 460.6h0M1481 460.6h0M1491.6 460.6h0M1502.2 460.6h0M1512.8 460.6h0M1523.4 460.6h0M1534 460.6h0M1544.6 460.6h0M1555.2 460.6h0M1565.9 460.6h0M1576.5 460.6h0M1587.1 460.6h0M1597.7 460.6h0M1608.3 460.6h0M1618.9 460.6h0M1629.5 460.6h0M1640.1 460.6h0M1650.8 460.6h0M1661.4 460.6h0M1672 460.6h0M1714.4 460.6h0M1725 460.6h0M1735.7 460.6h0M1746.3 460.6h0M1756.9 460.6h0M1778.1 460.6h0M1831.2 460.6h0M1852.4 460.6h0M1863 460.6h0M1905.4 460.6h0M1969.1 460.6h0M1979.7 460.6h0M2011.6 460.6h0M2022.2 460.6h0M2032.8 460.6h0M1311.2 488.8h0M2022.2 488.8h0M1268.7 502.9h0M1332.4 502.9h0M1481 502.9h0M1512.8 502.9h0M2022.2 502.9h0M2032.8 502.9h0M1247.5 517h0M1300.6 517h0M1321.8 517h0M1332.4 517h0M1353.6 517h0M1374.8 517h0M1449.1 517h0M1459.7 517h0M1470.4 517h0M1481 517h0M1512.8 517h0M1523.4 517h0M1565.9 517h0M1576.5 517h0M1597.7 517h0M1608.3 517h0M1629.5 517h0M1661.4 517h0M1672 517h0M1682.6 517h0M1714.4 517h0M1778.1 517h0M1788.7 517h0M1852.4 517h0M1894.8 517h0M1916.1 517h0M1958.5 517h0M1979.7 517h0M2011.6 517h0M2032.8 517h0M1979.7 531.1h0M1247.5 545.2h0M1258.1 545.2h0M1268.7 545.2h0M1279.3 545.2h0M1289.9 545.2h0M1300.6 545.2h0M1311.2 545.2h0M1321.8 545.2h0M1332.4 545.2h0M1343 545.2h0M1353.6 545.2h0M1364.2 545.2h0M1374.8 545.2h0M1385.5 545.2h0M1396.1 545.2h0M1406.7 545.2h0M1427.9 545.2h0M1449.1 545.2h0M1459.7 545.2h0M1470.4 545.2h0M1481 545.2h0M1491.6 545.2h0M1502.2 545.2h0M1512.8 545.2h0M1523.4 545.2h0M1544.6 545.2h0M1555.2 545.2h0M1565.9 545.2h0M1576.5 545.2h0M1587.1 545.2h0M1597.7 545.2h0M1608.3 545.2h0M1618.9 545.2h0M1629.5 545.2h0M1725 545.2h0M1746.3 545.2h0M1756.9 545.2h0M1767.5 545.2h0M1778.1 545.2h0M1788.7 545.2h0M1799.3 545.2h0M1809.9 545.2h0M1820.5 545.2h0M1831.2 545.2h0M1841.8 545.2h0M1852.4 545.2h0M1863 545.2h0M1873.6 545.2h0M1884.2 545.2h0M1894.8 545.2h0M1905.4 545.2h0M1916.1 545.2h0M1926.7 545.2h0M1937.3 545.2h0M1947.9 545.2h0M1958.5 545.2h0M1969.1 545.2h0M1979.7 545.2h0M1990.3 545.2h0M2001 545.2h0M2011.6 545.2h0M2022.2 545.2h0M1247.5 559.3h0M1258.1 559.3h0M1268.7 559.3h0M1279.3 559.3h0M1289.9 559.3h0M1300.6 559.3h0M1311.2 559.3h0M1321.8 559.3h0M1332.4 559.3h0M1343 559.3h0M1353.6 559.3h0M1364.2 559.3h0M1374.8 559.3h0M1385.5 559.3h0M1396.1 559.3h0M1406.7 559.3h0M1417.3 559.3h0M1427.9 559.3h0M1438.5 559.3h0M1449.1 559.3h0M1459.7 559.3h0M1470.4 559.3h0M1481 559.3h0M1491.6 559.3h0M1502.2 559.3h0M1512.8 559.3h0M1523.4 559.3h0M1544.6 559.3h0M1555.2 559.3h0M1565.9 559.3h0M1576.5 559.3h0M1587.1 559.3h0M1597.7 559.3h0M1608.3 559.3h0M1618.9 559.3h0M1629.5 559.3h0M1640.1 559.3h0M1650.8 559.3h0M1661.4 559.3h0M1672 559.3h0M1682.6 559.3h0M1693.2 559.3h0M1703.8 559.3h0M1714.4 559.3h0M1725 559.3h0M1735.7 559.3h0M1746.3 559.3h0M1756.9 559.3h0M1767.5 559.3h0M1788.7 559.3h0M1799.3 559.3h0M1809.9 559.3h0M1820.5 559.3h0M1831.2 559.3h0M1841.8 559.3h0M1852.4 559.3h0M1863 559.3h0M1894.8 559.3h0M1905.4 559.3h0M1916.1 559.3h0M1926.7 559.3h0M1937.3 559.3h0M1947.9 559.3h0M1958.5 559.3h0M1969.1 559.3h0M1979.7 559.3h0M1990.3 559.3h0M2001 559.3h0M2011.6 559.3h0M1247.5 573.4h0M1258.1 573.4h0M1300.6 573.4h0M1321.8 573.4h0M1332.4 573.4h0M1343 573.4h0M1353.6 573.4h0M1364.2 573.4h0M1374.8 573.4h0M1385.5 573.4h0M1396.1 573.4h0M1406.7 573.4h0M1417.3 573.4h0M1427.9 573.4h0M1438.5 573.4h0M1449.1 573.4h0M1459.7 573.4h0M1470.4 573.4h0M1481 573.4h0M1491.6 573.4h0M1502.2 573.4h0M1512.8 573.4h0M1523.4 573.4h0M1555.2 573.4h0M1565.9 573.4h0M1576.5 573.4h0M1587.1 573.4h0M1597.7 573.4h0M1640.1 573.4h0M1650.8 573.4h0M1661.4 573.4h0M1672 573.4h0M1693.2 573.4h0M1703.8 573.4h0M1714.4 573.4h0M1725 573.4h0M1735.7 573.4h0M1746.3 573.4h0M1756.9 573.4h0M1767.5 573.4h0M1778.1 573.4h0M1788.7 573.4h0M1799.3 573.4h0M1809.9 573.4h0M1820.5 573.4h0M1831.2 573.4h0M1852.4 573.4h0M1863 573.4h0M1873.6 573.4h0M1884.2 573.4h0M1894.8 573.4h0M1905.4 573.4h0M1926.7 573.4h0M1937.3 573.4h0M1947.9 573.4h0M1958.5 573.4h0M1969.1 573.4h0M2011.6 573.4h0M2022.2 573.4h0M1247.5 587.5h0M1311.2 587.5h0M1321.8 587.5h0M1343 587.5h0M1353.6 587.5h0M1374.8 587.5h0M1449.1 587.5h0M1523.4 587.5h0M1618.9 587.5h0M1650.8 587.5h0M1682.6 587.5h0M1778.1 587.5h0M1788.7 587.5h0M1831.2 587.5h0M1926.7 587.5h0M2022.2 587.5h0M2032.8 587.5h0M1247.5 601.6h0M1268.7 601.6h0M1279.3 601.6h0M1343 601.6h0M1406.7 601.6h0M1417.3 601.6h0M1427.9 601.6h0M1481 601.6h0M1491.6 601.6h0M1512.8 601.6h0M1544.6 601.6h0M1555.2 601.6h0M1597.7 601.6h0M1608.3 601.6h0M1640.1 601.6h0M1650.8 601.6h0M1661.4 601.6h0M1693.2 601.6h0M1703.8 601.6h0M1735.7 601.6h0M1746.3 601.6h0M1756.9 601.6h0M1788.7 601.6h0M1831.2 601.6h0M1841.8 601.6h0M1852.4 601.6h0M1873.6 601.6h0M1884.2 601.6h0M1905.4 601.6h0M1916.1 601.6h0M1926.7 601.6h0M1958.5 601.6h0M1247.5 615.7h0M1268.7 615.7h0M1279.3 615.7h0M1321.8 615.7h0M1343 615.7h0M1374.8 615.7h0M1396.1 615.7h0M1417.3 615.7h0M1449.1 615.7h0M1481 615.7h0M1502.2 615.7h0M1523.4 615.7h0M1534 615.7h0M1544.6 615.7h0M1608.3 615.7h0M1618.9 615.7h0M1682.6 615.7h0M1746.3 615.7h0M1756.9 615.7h0M1778.1 615.7h0M1831.2 615.7h0M1926.7 615.7h0M1969.1 615.7h0M2032.8 615.7h0M1247.5 629.8h0M1321.8 629.8h0M1343 629.8h0M1385.5 629.8h0M1406.7 629.8h0M1427.9 629.8h0M1438.5 629.8h0M1459.7 629.8h0M1481 629.8h0M1608.3 629.8h0M1640.1 629.8h0M1650.8 629.8h0M1672 629.8h0M1682.6 629.8h0M1767.5 629.8h0M1778.1 629.8h0M1831.2 629.8h0M1852.4 629.8h0M1863 629.8h0M1916.1 629.8h0M1937.3 629.8h0M1958.5 629.8h0M2022.2 629.8h0M2032.8 629.8h0M1247.5 643.9h0M1268.7 643.9h0M1279.3 643.9h0M1300.6 643.9h0M1332.4 643.9h0M1343 643.9h0M1353.6 643.9h0M1364.2 643.9h0M1427.9 643.9h0M1438.5 643.9h0M1459.7 643.9h0M1481 643.9h0M1491.6 643.9h0M1512.8 643.9h0M1544.6 643.9h0M1555.2 643.9h0M1597.7 643.9h0M1608.3 643.9h0M1618.9 643.9h0M1640.1 643.9h0M1661.4 643.9h0M1725 643.9h0M1746.3 643.9h0M1778.1 643.9h0M1831.2 643.9h0M1894.8 643.9h0M1905.4 643.9h0M1916.1 643.9h0M1947.9 643.9h0M1969.1 643.9h0M2022.2 643.9h0M1247.5 658h0M1268.7 658h0M1300.6 658h0M1321.8 658h0M1364.2 658h0M1374.8 658h0M1406.7 658h0M1417.3 658h0M1438.5 658h0M1449.1 658h0M1459.7 658h0M1491.6 658h0M1512.8 658h0M1597.7 658h0M1608.3 658h0M1682.6 658h0M1746.3 658h0M1778.1 658h0M1852.4 658h0M1979.7 658h0M2032.8 658h0M1247.5 700.3h0M1268.7 700.3h0M1279.3 700.3h0M1353.6 700.3h0M1364.2 700.3h0M1406.7 700.3h0M1544.6 700.3h0M1597.7 700.3h0M1608.3 700.3h0M1661.4 700.3h0M1725 700.3h0M1746.3 700.3h0M1778.1 700.3h0M1788.7 700.3h0M1820.5 700.3h0M1831.2 700.3h0M1937.3 700.3h0M1947.9 700.3h0M2032.8 700.3h0M1364.2 714.4h0M1374.8 714.4h0M1438.5 714.4h0M1449.1 714.4h0M1459.7 714.4h0M1470.4 714.4h0M1481 714.4h0M1512.8 714.4h0M1523.4 714.4h0M1555.2 714.4h0M1618.9 714.4h0M1661.4 714.4h0M1693.2 714.4h0M1756.9 714.4h0M1778.1 714.4h0M1809.9 714.4h0M1831.2 714.4h0M1947.9 714.4h0M1979.7 714.4h0M1990.3 714.4h0M2001 714.4h0M2011.6 714.4h0M1300.6 728.5h0M1438.5 728.5h0M1534 728.5h0M1544.6 728.5h0M1565.9 728.5h0M1576.5 728.5h0M1597.7 728.5h0M1618.9 728.5h0M1725 728.5h0M1735.7 728.5h0M1746.3 728.5h0M1788.7 728.5h0M1820.5 728.5h0M1831.2 728.5h0M1863 728.5h0M2011.6 728.5h0M2022.2 728.5h0M1268.7 742.6h0M1279.3 742.6h0M1311.2 742.6h0M1321.8 742.6h0M1396.1 742.6h0M1427.9 742.6h0M1449.1 742.6h0M1512.8 742.6h0M1555.2 742.6h0M1565.9 742.6h0M1597.7 742.6h0M1608.3 742.6h0M1693.2 742.6h0M1735.7 742.6h0M1841.8 742.6h0M1863 742.6h0M1979.7 742.6h0M2022.2 742.6h0M2032.8 742.6h0M1268.7 756.7h0M1427.9 756.7h0M1438.5 756.7h0M1343 770.8h0M1385.5 770.8h0M1438.5 770.8h0M1576.5 770.8h0M1629.5 770.8h0M1640.1 770.8h0M1703.8 770.8h0M1714.4 770.8h0M1831.2 770.8h0M1979.7 770.8h0M1990.3 770.8h0M1258.1 813.1h0M1268.7 813.1h0M1279.3 813.1h0M1300.6 813.1h0M1374.8 813.1h0M1427.9 813.1h0M1512.8 813.1h0M1597.7 813.1h0M1703.8 813.1h0M1714.4 813.1h0M1778.1 813.1h0M1820.5 813.1h0M1905.4 813.1h0M1947.9 813.1h0M1969.1 813.1h0M1990.3 813.1h0M1247.5 827.2h0M1300.6 827.2h0M1321.8 827.2h0M1332.4 827.2h0M1364.2 827.2h0M1396.1 827.2h0M1449.1 827.2h0M1491.6 827.2h0M1502.2 827.2h0M1512.8 827.2h0M1523.4 827.2h0M1534 827.2h0M1555.2 827.2h0M1608.3 827.2h0M1640.1 827.2h0M1661.4 827.2h0M1672 827.2h0M1778.1 827.2h0M1788.7 827.2h0M1799.3 827.2h0M1820.5 827.2h0M1831.2 827.2h0M1841.8 827.2h0M1863 827.2h0M1894.8 827.2h0M1926.7 827.2h0M1947.9 827.2h0M1969.1 827.2h0M2011.6 827.2h0M2022.2 827.2h0M2032.8 827.2h0M1979.7 869.5h0M1247.5 883.6h0M1279.3 883.6h0M1332.4 883.6h0M1364.2 883.6h0M1374.8 883.6h0M1427.9 883.6h0M1523.4 883.6h0M1565.9 883.6h0M1576.5 883.6h0M1597.7 883.6h0M1608.3 883.6h0M1650.8 883.6h0M1735.7 883.6h0M1820.5 883.6h0M1863 883.6h0M1884.2 883.6h0M1916.1 883.6h0M1947.9 883.6h0M1979.7 883.6h0M2011.6 883.6h0M2032.8 883.6h0M2011.6 897.7h0M2022.2 897.7h0M1979.7 911.8h0M1247.5 925.9h0M1332.4 925.9h0M1481 925.9h0M1491.6 925.9h0M1502.2 925.9h0M1512.8 925.9h0M1544.6 925.9h0M1555.2 925.9h0M1608.3 925.9h0M1618.9 925.9h0M1629.5 925.9h0M1640.1 925.9h0M1661.4 925.9h0M1672 925.9h0M1767.5 925.9h0M1788.7 925.9h0M1799.3 925.9h0M1820.5 925.9h0M1841.8 925.9h0M1884.2 925.9h0M1947.9 925.9h0M2011.6 925.9h0M2032.8 925.9h0M1289.9 968.2h0M1321.8 968.2h0M1332.4 968.2h0M1343 968.2h0M1406.7 968.2h0M1449.1 968.2h0M1459.7 968.2h0M1788.7 968.2h0M1979.7 968.2h0M1321.8 982.3h0M1385.5 982.3h0M1544.6 982.3h0M1555.2 982.3h0M1576.5 982.3h0M1608.3 982.3h0M1629.5 982.3h0M1650.8 982.3h0M1661.4 982.3h0M1672 982.3h0M1682.6 982.3h0M1693.2 982.3h0M1703.8 982.3h0M1746.3 982.3h0M1756.9 982.3h0M2011.6 982.3h0M2022.2 982.3h0M2032.8 982.3h0M1247.5 996.4h0M1258.1 996.4h0M1289.9 996.4h0M1300.6 996.4h0M1311.2 996.4h0M1321.8 996.4h0M1343 996.4h0M1374.8 996.4h0M1417.3 996.4h0M1449.1 996.4h0M1470.4 996.4h0M1502.2 996.4h0M1523.4 996.4h0M1618.9 996.4h0M1629.5 996.4h0M1650.8 996.4h0M1661.4 996.4h0M1672 996.4h0M1682.6 996.4h0M1725 996.4h0M1746.3 996.4h0M1831.2 996.4h0M1841.8 996.4h0M1863 996.4h0M1884.2 996.4h0M1894.8 996.4h0M1926.7 996.4h0M1969.1 996.4h0M2011.6 996.4h0M2022.2 996.4h0M2032.8 996.4h0M1247.5 1010.5h0M1300.6 1010.5h0M1311.2 1010.5h0M1427.9 1010.5h0M1449.1 1010.5h0M1459.7 1010.5h0M1481 1010.5h0M1491.6 1010.5h0M1502.2 1010.5h0M1512.8 1010.5h0M1523.4 1010.5h0M1555.2 1010.5h0M1608.3 1010.5h0M1629.5 1010.5h0M1650.8 1010.5h0M1661.4 1010.5h0M1672 1010.5h0M1682.6 1010.5h0M1725 1010.5h0M1746.3 1010.5h0M1778.1 1010.5h0M1809.9 1010.5h0M1820.5 1010.5h0M1831.2 1010.5h0M1841.8 1010.5h0M1852.4 1010.5h0M1863 1010.5h0M1884.2 1010.5h0M1894.8 1010.5h0M1905.4 1010.5h0M1916.1 1010.5h0M1926.7 1010.5h0M1958.5 1010.5h0M1979.7 1010.5h0"/>
<path stroke="#ebf1f5" stroke-width="3.9" d="M1268.7 136.3h0M1279.3 136.3h0M1396.1 136.3h0M1427.9 136.3h0M1438.5 136.3h0M1481 136.3h0M1491.6 136.3h0M1555.2 136.3h0M1608.3 136.3h0M1618.9 136.3h0M1682.6 136.3h0M1672 150.4h0M1778.1 150.4h0M1809.9 150.4h0M1820.5 150.4h0M1863 150.4h0M1916.1 150.4h0M1926.7 150.4h0M1947.9 150.4h0M1332.4 164.5h0M1247.5 220.9h0M1385.5 220.9h0M1544.6 220.9h0M1555.2 220.9h0M1703.8 220.9h0M1714.4 220.9h0M1778.1 220.9h0M1799.3 220.9h0M1863 220.9h0M1894.8 220.9h0M1916.1 220.9h0M1247.5 235h0M1279.3 235h0M1682.6 235h0M1714.4 235h0M1778.1 235h0M1788.7 235h0M1799.3 235h0M1863 235h0M1947.9 235h0M1258.1 263.2h0M1374.8 263.2h0M1396.1 263.2h0M1502.2 263.2h0M1544.6 263.2h0M1565.9 263.2h0M1576.5 263.2h0M1587.1 263.2h0M1682.6 263.2h0M1852.4 263.2h0M1364.2 319.6h0M1374.8 319.6h0M1427.9 319.6h0M1491.6 319.6h0M1512.8 319.6h0M1979.7 319.6h0M1406.7 333.7h0M1268.7 361.9h0M1289.9 361.9h0M1385.5 361.9h0M1427.9 361.9h0M1438.5 361.9h0M1449.1 361.9h0M1502.2 361.9h0M1523.4 361.9h0M1544.6 361.9h0M1555.2 361.9h0M1565.9 361.9h0M1597.7 361.9h0M1608.3 361.9h0M1618.9 361.9h0M1629.5 361.9h0M1650.8 361.9h0M1534 404.2h0M1279.3 418.3h0M1289.9 418.3h0M1300.6 418.3h0M1311.2 418.3h0M1321.8 418.3h0M1364.2 418.3h0M1385.5 418.3h0M1555.2 418.3h0M1565.9 418.3h0M1608.3 418.3h0M1618.9 418.3h0M1629.5 418.3h0M1640.1 418.3h0M1703.8 418.3h0M1756.9 418.3h0M1809.9 418.3h0M1820.5 418.3h0M1831.2 418.3h0M1852.4 418.3h0M1863 418.3h0M1926.7 418.3h0M1364.2 488.8h0M1459.7 488.8h0M1491.6 488.8h0M1247.5 502.9h0M1470.4 502.9h0M1608.3 502.9h0M1916.1 502.9h0M1969.1 502.9h0M1279.3 531.1h0M1321.8 531.1h0M1332.4 531.1h0M1343 531.1h0M1353.6 531.1h0M1364.2 531.1h0M1534 545.2h0M1884.2 587.5h0M1289.9 672.1h0M1332.4 672.1h0M1385.5 672.1h0M1417.3 672.1h0M1427.9 672.1h0M1438.5 672.1h0M1449.1 672.1h0M1958.5 672.1h0M1544.6 714.4h0M1608.3 714.4h0M1926.7 714.4h0M1289.9 728.5h0M1247.5 742.6h0M1767.5 742.6h0M1894.8 742.6h0M1905.4 742.6h0M1926.7 742.6h0M1321.8 756.7h0M1353.6 756.7h0M1555.2 756.7h0M1608.3 756.7h0M1618.9 756.7h0M1735.7 756.7h0M1820.5 756.7h0M1916.1 756.7h0M1438.5 784.9h0M1523.4 784.9h0M1990.3 784.9h0M1767.5 813.1h0M1979.7 841.3h0M1279.3 869.5h0M1332.4 869.5h0M1396.1 869.5h0M1406.7 869.5h0M1459.7 869.5h0M1481 869.5h0M1565.9 869.5h0M1576.5 869.5h0M1587.1 869.5h0M1608.3 869.5h0M1618.9 869.5h0M1629.5 869.5h0M1640.1 869.5h0M1682.6 869.5h0M1693.2 869.5h0M1714.4 869.5h0M1778.1 869.5h0M1788.7 869.5h0M1809.9 869.5h0M1831.2 869.5h0M1863 869.5h0M1916.1 869.5h0M1926.7 869.5h0M1969.1 869.5h0M1311.2 897.7h0M1332.4 897.7h0M1343 897.7h0M1364.2 897.7h0M1502.2 897.7h0M1555.2 897.7h0M1608.3 897.7h0M1629.5 897.7h0M1682.6 897.7h0M1725 897.7h0M1756.9 897.7h0M1788.7 897.7h0M1894.8 897.7h0M1947.9 897.7h0M1735.7 911.8h0M1364.2 954.1h0M1979.7 954.1h0M2022.2 954.1h0M1364.2 968.2h0M1778.1 968.2h0M1809.9 968.2h0M1820.5 968.2h0M1863 968.2h0M1884.2 968.2h0M1279.3 1024.6h0M1364.2 1024.6h0M1449.1 1024.6h0M1459.7 1024.6h0M1481 1024.6h0M1491.6 1024.6h0M1523.4 1024.6h0M1555.2 1024.6h0M1778.1 1024.6h0M1979.7 1038.7h0"/>
<path stroke="#ebf1f5" stroke-width="5.15" d="M1268.7 122.2h0M1406.7 122.2h0M1481 122.2h0M1523.4 122.2h0M1788.7 136.3h0M1863 136.3h0M1289.9 164.5h0M1300.6 164.5h0M1385.5 164.5h0M1523.4 164.5h0M1555.2 164.5h0M1725 164.5h0M1788.7 164.5h0M1321.8 178.6h0M1332.4 178.6h0M1364.2 178.6h0M1427.9 178.6h0M1767.5 220.9h0M1905.4 220.9h0M1926.7 220.9h0M1937.3 220.9h0M1958.5 220.9h0M1894.8 235h0M1916.1 235h0M1534 263.2h0M1820.5 263.2h0M1905.4 263.2h0M1926.7 263.2h0M1258.1 277.3h0M1311.2 277.3h0M1321.8 277.3h0M1374.8 277.3h0M1438.5 277.3h0M1470.4 277.3h0M1555.2 277.3h0M1576.5 277.3h0M1587.1 277.3h0M1608.3 277.3h0M1618.9 277.3h0M1735.7 277.3h0M1279.3 291.4h0M1321.8 291.4h0M1343 291.4h0M1385.5 291.4h0M1417.3 291.4h0M1449.1 291.4h0M1459.7 291.4h0M1247.5 305.5h0M1332.4 305.5h0M1374.8 305.5h0M1449.1 305.5h0M1470.4 305.5h0M1491.6 305.5h0M1502.2 305.5h0M1523.4 305.5h0M1618.9 305.5h0M1714.4 305.5h0M1247.5 319.6h0M1385.5 319.6h0M1576.5 319.6h0M1268.7 333.7h0M1364.2 333.7h0M1502.2 333.7h0M1608.3 333.7h0M1672 333.7h0M1778.1 333.7h0M1884.2 333.7h0M1756.9 361.9h0M1831.2 361.9h0M1852.4 361.9h0M1926.7 361.9h0M1640.1 390.1h0M2022.2 474.7h0M1385.5 488.8h0M1544.6 488.8h0M1640.1 488.8h0M1693.2 488.8h0M1714.4 488.8h0M1788.7 488.8h0M1841.8 488.8h0M1863 488.8h0M1916.1 488.8h0M1809.9 502.9h0M1884.2 502.9h0M1894.8 502.9h0M1926.7 502.9h0M1258.1 531.1h0M1502.2 531.1h0M1629.5 531.1h0M1650.8 531.1h0M1756.9 531.1h0M1841.8 531.1h0M1916.1 531.1h0M1926.7 531.1h0M1947.9 531.1h0M1374.8 672.1h0M1587.1 672.1h0M1672 672.1h0M1693.2 672.1h0M1725 672.1h0M1311.2 686.2h0M2022.2 686.2h0M1534 756.7h0M1321.8 784.9h0M1374.8 784.9h0M1406.7 784.9h0M1841.8 784.9h0M1374.8 799h0M1449.1 799h0M1459.7 799h0M1481 799h0M1491.6 799h0M1512.8 799h0M1990.3 799h0M1343 841.3h0M1364.2 841.3h0M1502.2 841.3h0M1523.4 841.3h0M1544.6 841.3h0M1555.2 841.3h0M1321.8 855.4h0M1374.8 855.4h0M1438.5 855.4h0M1449.1 855.4h0M1502.2 855.4h0M1661.4 855.4h0M1926.7 897.7h0M1937.3 897.7h0M1343 911.8h0M1778.1 911.8h0M1863 911.8h0M1311.2 940h0M1332.4 940h0M1374.8 940h0M1406.7 940h0M1459.7 940h0M1491.6 940h0M1512.8 940h0M1523.4 940h0M1268.7 954.1h0M1300.6 954.1h0M1396.1 954.1h0M1449.1 954.1h0M1459.7 954.1h0M1470.4 954.1h0M1608.3 954.1h0M1618.9 954.1h0M1650.8 954.1h0M1672 954.1h0M1863 954.1h0M1926.7 954.1h0M1788.7 1024.6h0M1809.9 1024.6h0M1894.8 1024.6h0M1916.1 1024.6h0M1247.5 1038.7h0M1268.7 1038.7h0M1332.4 1038.7h0M1364.2 1038.7h0M1427.9 1038.7h0M1449.1 1038.7h0M1459.7 1038.7h0M1481 1038.7h0M1491.6 1038.7h0M1544.6 1038.7h0M1597.7 1038.7h0M1650.8 1038.7h0"/>
<path stroke="#ebf1f5" stroke-width="6.4" d="M1300.6 122.2h0M1385.5 122.2h0M1608.3 122.2h0M1725 122.2h0M1746.3 122.2h0M1820.5 122.2h0M1831.2 122.2h0M1852.4 122.2h0M1767.5 136.3h0M1534 164.5h0M1820.5 164.5h0M1300.6 178.6h0M1374.8 178.6h0M1555.2 178.6h0M1714.4 178.6h0M1799.3 178.6h0M1958.5 178.6h0M1247.5 249.1h0M1321.8 249.1h0M1544.6 277.3h0M1672 277.3h0M1353.6 291.4h0M1534 291.4h0M1565.9 291.4h0M1576.5 291.4h0M1650.8 291.4h0M1682.6 291.4h0M1916.1 291.4h0M1937.3 291.4h0M1343 305.5h0M1353.6 305.5h0M1894.8 305.5h0M1905.4 305.5h0M1937.3 305.5h0M1534 319.6h0M1756.9 333.7h0M1926.7 333.7h0M1374.8 347.8h0M1459.7 347.8h0M1491.6 347.8h0M1555.2 347.8h0M1268.7 474.7h0M1406.7 474.7h0M1427.9 474.7h0M1534 488.8h0M1799.3 488.8h0M1852.4 488.8h0M1894.8 488.8h0M1905.4 488.8h0M1534 672.1h0M1767.5 672.1h0M1926.7 672.1h0M1937.3 672.1h0M1385.5 686.2h0M1544.6 686.2h0M1778.1 686.2h0M1809.9 686.2h0M1937.3 784.9h0M1640.1 799h0M1534 841.3h0M1576.5 841.3h0M1884.2 841.3h0M1947.9 841.3h0M1268.7 855.4h0M1300.6 855.4h0M1470.4 855.4h0M1481 855.4h0M1608.3 855.4h0M1650.8 855.4h0M1884.2 911.8h0M1969.1 911.8h0M1565.9 940h0M1682.6 940h0M1693.2 940h0M1788.7 940h0M1916.1 940h0M1693.2 954.1h0M1703.8 954.1h0M1916.1 954.1h0M1703.8 1038.7h0M1714.4 1038.7h0M1788.7 1038.7h0M1809.9 1038.7h0M1863 1038.7h0"/>
<path stroke="#ebf1f5" stroke-width="7.65" d="M1534 122.2h0M1947.9 122.2h0M1767.5 164.5h0M1884.2 164.5h0M1905.4 164.5h0M1534 178.6h0M1640.1 178.6h0M1703.8 178.6h0M1863 178.6h0M1894.8 178.6h0M1926.7 178.6h0M1268.7 249.1h0M1374.8 249.1h0M1502.2 249.1h0M1565.9 249.1h0M1597.7 249.1h0M1618.9 249.1h0M1969.1 277.3h0M1884.2 305.5h0M1353.6 347.8h0M1576.5 347.8h0M1608.3 347.8h0M1618.9 347.8h0M1629.5 347.8h0M1841.8 347.8h0M1852.4 347.8h0M1343 474.7h0M1608.3 474.7h0M1661.4 474.7h0M1841.8 474.7h0M1884.2 488.8h0M1534 686.2h0M1863 686.2h0M1916.1 686.2h0M1947.9 686.2h0M1958.5 784.9h0M1544.6 799h0M1661.4 799h0M1863 799h0M1873.6 841.3h0M1534 855.4h0M1703.8 855.4h0M1767.5 855.4h0M1820.5 855.4h0M1958.5 911.8h0M1926.7 940h0M1873.6 954.1h0M1767.5 1038.7h0M1852.4 1038.7h0M1916.1 1038.7h0"/>
<path stroke="#ebf1f5" stroke-width="8.9" d="M1873.6 122.2h0M1969.1 122.2h0M1969.1 164.5h0M1289.9 249.1h0M1353.6 249.1h0M1873.6 277.3h0M1958.5 291.4h0M1725 474.7h0M1799.3 474.7h0M1831.2 474.7h0M1926.7 474.7h0M1937.3 474.7h0M1969.1 474.7h0M1767.5 799h0M1884.2 855.4h0M1873.6 1038.7h0M1969.1 1038.7h0"/>
<path stroke="#ebf1f5" stroke-width="10.15" d="M1534 474.7h0M1947.9 474.7h0"/>
<path stroke="#ebf1f5" stroke-width="11.4" d="M1767.5 474.7h0"/>
<path stroke="#ed9475" stroke-width="2.65" d="M1417.3 813.1h0M1756.9 1010.5h0M2032.8 1010.5h0"/>
<path stroke="#ed9475" stroke-width="3.9" d="M1438.5 150.4h0M1565.9 150.4h0M1576.5 150.4h0M1756.9 150.4h0M1937.3 192.7h0M2011.6 235h0M1427.9 333.7h0M1735.7 376h0M1470.4 404.2h0M1735.7 517h0M1279.3 587.5h0M1990.3 601.6h0M2022.2 601.6h0M1576.5 700.3h0M1629.5 700.3h0M1714.4 700.3h0M1353.6 714.4h0M1417.3 728.5h0M1438.5 742.6h0M1756.9 756.7h0M1374.8 770.8h0M1406.7 770.8h0M1470.4 770.8h0M2001 770.8h0M1353.6 813.1h0M1449.1 813.1h0M1565.9 827.2h0M1841.8 869.5h0M2022.2 869.5h0M1438.5 883.6h0M1459.7 883.6h0M1629.5 883.6h0M1735.7 925.9h0M1831.2 925.9h0M1311.2 968.2h0"/>
<path stroke="#ed9475" stroke-width="5.15" d="M1258.1 136.3h0M1756.9 136.3h0M1746.3 235h0M1831.2 235h0M1905.4 235h0M1926.7 235h0M1385.5 263.2h0M1629.5 263.2h0M1364.2 305.5h0M1735.7 305.5h0M1311.2 333.7h0M1417.3 361.9h0M1512.8 361.9h0M1841.8 361.9h0M1396.1 404.2h0M1979.7 418.3h0M1735.7 502.9h0M1544.6 573.4h0M1406.7 728.5h0M1672 728.5h0M1682.6 728.5h0M1703.8 728.5h0M1990.3 728.5h0M1682.6 756.7h0M1703.8 756.7h0M1767.5 756.7h0M1353.6 770.8h0M1491.6 770.8h0M1661.4 770.8h0M1672 770.8h0M1258.1 869.5h0M1353.6 869.5h0M1438.5 869.5h0M1725 869.5h0M1470.4 897.7h0M1512.8 897.7h0M1523.4 897.7h0M1396.1 968.2h0M1746.3 968.2h0M1406.7 982.3h0"/>
<path stroke="#ed9475" stroke-width="6.4" d="M1916.1 136.3h0M1459.7 164.5h0M1767.5 235h0M1640.1 263.2h0M1735.7 263.2h0M1693.2 545.2h0M1491.6 672.1h0M1661.4 672.1h0M1311.2 784.9h0M1449.1 784.9h0M1459.7 784.9h0M1470.4 784.9h0M1332.4 799h0M1470.4 869.5h0M1321.8 911.8h0M1438.5 911.8h0M1735.7 1038.7h0"/>
<path stroke="#ed9475" stroke-width="7.65" d="M1449.1 122.2h0M1650.8 122.2h0M1714.4 164.5h0M1841.8 178.6h0M1958.5 235h0M1735.7 291.4h0M1863 291.4h0M1831.2 305.5h0M1756.9 319.6h0M1788.7 319.6h0M1841.8 319.6h0M1863 319.6h0M1311.2 347.8h0M1905.4 347.8h0M1873.6 361.9h0M1863 390.1h0M1289.9 573.4h0M1597.7 672.1h0M1693.2 784.9h0M1321.8 799h0M1438.5 799h0M1990.3 841.3h0M1353.6 911.8h0M1417.3 911.8h0M1470.4 911.8h0M1502.2 911.8h0M1481 940h0M1555.2 940h0M1725 940h0M1640.1 954.1h0M1831.2 1038.7h0"/>
<path stroke="#ed9475" stroke-width="8.9" d="M1682.6 122.2h0M1703.8 122.2h0M1544.6 164.5h0M1799.3 291.4h0M1820.5 291.4h0M1884.2 291.4h0M1894.8 291.4h0M1863 305.5h0M1916.1 305.5h0M1746.3 319.6h0M1799.3 319.6h0M1820.5 319.6h0M1831.2 319.6h0M1926.7 319.6h0M1937.3 333.7h0M1746.3 390.1h0M1778.1 390.1h0M1831.2 390.1h0M1905.4 390.1h0M1640.1 686.2h0M1703.8 784.9h0M1417.3 799h0M1629.5 799h0M1396.1 855.4h0"/>
<path stroke="#ed9475" stroke-width="10.15" d="M1905.4 277.3h0M1746.3 291.4h0M1852.4 291.4h0M1958.5 319.6h0M1385.5 347.8h0M1884.2 347.8h0M1300.6 686.2h0M1247.5 841.3h0M1374.8 841.3h0M1459.7 841.3h0M1555.2 855.4h0M1565.9 855.4h0M1576.5 855.4h0M1587.1 855.4h0"/>
<path stroke="#ed9475" stroke-width="11.4" d="M1894.8 249.1h0M1969.1 249.1h0M1767.5 291.4h0M1969.1 686.2h0M1300.6 841.3h0M1353.6 841.3h0M1544.6 855.4h0M1958.5 855.4h0"/>
<path stroke="#ed9475" stroke-width="12.65" d="M1799.3 249.1h0M1852.4 249.1h0M1289.9 474.7h0"/>
<path stroke="#ed9475" stroke-width="13.9" d="M1873.6 249.1h0"/>
<path stroke="#f8bb9e" stroke-width="2.65" d="M1725 192.7h0M1364.2 206.8h0M1756.9 206.8h0M1756.9 517h0M1831.2 517h0M1427.9 587.5h0M1756.9 658h0M1863 658h0M2022.2 700.3h0M2032.8 714.4h0M1427.9 770.8h0M1979.7 827.2h0M1268.7 996.4h0M1396.1 996.4h0"/>
<path stroke="#f8bb9e" stroke-width="3.9" d="M1417.3 150.4h0M1427.9 150.4h0M1544.6 150.4h0M1512.8 220.9h0M1311.2 235h0M1385.5 235h0M1778.1 376h0M1788.7 376h0M1799.3 376h0M1831.2 376h0M1916.1 376h0M1491.6 404.2h0M1863 404.2h0M1884.2 432.4h0M1894.8 432.4h0M1979.7 502.9h0M1258.1 517h0M1268.7 517h0M1873.6 517h0M1629.5 587.5h0M1661.4 587.5h0M1979.7 587.5h0M2001 601.6h0M2032.8 601.6h0M1820.5 615.7h0M1640.1 658h0M1300.6 700.3h0M1587.1 700.3h0M1682.6 700.3h0M1693.2 700.3h0M1767.5 700.3h0M1958.5 700.3h0M1491.6 714.4h0M1427.9 728.5h0M1406.7 742.6h0M1523.4 742.6h0M1703.8 742.6h0M1756.9 742.6h0M1449.1 756.7h0M2001 756.7h0M1311.2 770.8h0M1364.2 770.8h0M1332.4 813.1h0M1555.2 813.1h0M1661.4 813.1h0M1481 827.2h0M1364.2 869.5h0M1417.3 883.6h0M1449.1 883.6h0M1396.1 897.7h0M1459.7 897.7h0M1990.3 897.7h0M1725 925.9h0M1746.3 925.9h0M2022.2 968.2h0M1353.6 982.3h0M1438.5 982.3h0M1289.9 1010.5h0M1714.4 1010.5h0"/>
<path stroke="#f8bb9e" stroke-width="5.15" d="M1353.6 136.3h0M1587.1 136.3h0M1778.1 136.3h0M1809.9 136.3h0M1417.3 235h0M1809.9 235h0M1820.5 235h0M1852.4 235h0M1555.2 263.2h0M1788.7 263.2h0M1809.9 263.2h0M1332.4 333.7h0M1406.7 361.9h0M1799.3 361.9h0M1587.1 418.3h0M1756.9 502.9h0M1841.8 502.9h0M1268.7 573.4h0M1279.3 573.4h0M1958.5 643.9h0M1979.7 672.1h0M1640.1 714.4h0M1661.4 728.5h0M1650.8 742.6h0M1682.6 742.6h0M1332.4 784.9h0M2022.2 855.4h0M1268.7 869.5h0M1258.1 897.7h0M1332.4 911.8h0M1364.2 911.8h0M1449.1 940h0M1417.3 982.3h0M1470.4 982.3h0M1714.4 982.3h0M1746.3 1024.6h0M1979.7 1024.6h0"/>
<path stroke="#f8bb9e" stroke-width="6.4" d="M1491.6 122.2h0M1937.3 136.3h0M1406.7 164.5h0M1449.1 164.5h0M1502.2 164.5h0M1947.9 263.2h0M1629.5 305.5h0M1374.8 333.7h0M1735.7 347.8h0M1767.5 361.9h0M1905.4 361.9h0M1534 418.3h0M1778.1 502.9h0M1799.3 502.9h0M1289.9 531.1h0M1374.8 531.1h0M1459.7 531.1h0M1491.6 784.9h0M1544.6 784.9h0M1587.1 784.9h0M1597.7 784.9h0M1597.7 799h0M1969.1 897.7h0M1374.8 911.8h0M1385.5 911.8h0M1449.1 911.8h0M1523.4 911.8h0M1438.5 940h0M1725 954.1h0M1725 1024.6h0M2001 1038.7h0"/>
<path stroke="#f8bb9e" stroke-width="7.65" d="M1374.8 122.2h0M1502.2 122.2h0M1629.5 122.2h0M1672 122.2h0M1714.4 122.2h0M1841.8 122.2h0M1778.1 164.5h0M1385.5 178.6h0M1831.2 178.6h0M1894.8 263.2h0M1969.1 263.2h0M1756.9 277.3h0M1809.9 277.3h0M1756.9 291.4h0M1788.7 291.4h0M1841.8 291.4h0M1725 305.5h0M1756.9 305.5h0M1778.1 305.5h0M1809.9 305.5h0M1725 319.6h0M1778.1 319.6h0M1809.9 319.6h0M1916.1 333.7h0M1756.9 347.8h0M1958.5 361.9h0M1756.9 488.8h0M1809.9 531.1h0M1894.8 531.1h0M1905.4 531.1h0M1502.2 672.1h0M1576.5 672.1h0M1916.1 672.1h0M1268.7 686.2h0M1682.6 784.9h0M1714.4 784.9h0M1247.5 799h0M1268.7 799h0M1353.6 799h0M1587.1 799h0M1289.9 841.3h0M1427.9 841.3h0M1396.1 940h0M1289.9 1038.7h0M1746.3 1038.7h0"/>
<path stroke="#f8bb9e" stroke-width="8.9" d="M1544.6 122.2h0M1289.9 178.6h0M1661.4 178.6h0M1788.7 178.6h0M1947.9 277.3h0M1746.3 305.5h0M1852.4 305.5h0M1969.1 333.7h0M1247.5 347.8h0M1512.8 347.8h0M1916.1 347.8h0M1788.7 390.1h0M1799.3 390.1h0M1809.9 390.1h0M1852.4 390.1h0M1926.7 488.8h0M1947.9 488.8h0M1597.7 686.2h0M1841.8 686.2h0M1385.5 799h0M1576.5 799h0M1693.2 799h0M1714.4 799h0M1268.7 841.3h0M1279.3 841.3h0M1470.4 841.3h0M1618.9 841.3h0M1629.5 855.4h0M1544.6 940h0"/>
<path stroke="#f8bb9e" stroke-width="10.15" d="M1756.9 249.1h0M1873.6 319.6h0M1767.5 347.8h0M1894.8 390.1h0M1926.7 390.1h0M1947.9 390.1h0M1958.5 390.1h0M1300.6 474.7h0M1565.9 686.2h0M1565.9 799h0M1618.9 855.4h0"/>
<path stroke="#f8bb9e" stroke-width="11.4" d="M1767.5 122.2h0M1725 249.1h0M1746.3 249.1h0M1778.1 249.1h0M1788.7 249.1h0M1809.9 249.1h0M1820.5 249.1h0M1831.2 249.1h0M1841.8 249.1h0M1863 249.1h0M1905.4 249.1h0M1926.7 249.1h0M1767.5 305.5h0M1884.2 390.1h0M1969.1 855.4h0"/>
<path stroke="#f8bb9e" stroke-width="12.65" d="M1884.2 249.1h0M1947.9 249.1h0"/>
<path stroke="#f9eee8" stroke-width="2.65" d="M1555.2 150.4h0M1353.6 192.7h0M1512.8 192.7h0M1650.8 192.7h0M1894.8 192.7h0M1321.8 206.8h0M1332.4 206.8h0M1502.2 206.8h0M1544.6 206.8h0M1703.8 206.8h0M1926.7 206.8h0M2011.6 361.9h0M1417.3 376h0M1767.5 376h0M1343 404.2h0M1459.7 404.2h0M1502.2 404.2h0M1587.1 404.2h0M1746.3 404.2h0M1831.2 404.2h0M1852.4 404.2h0M2022.2 418.3h0M1534 432.4h0M1746.3 432.4h0M1778.1 432.4h0M1863 432.4h0M2022.2 432.4h0M1788.7 446.5h0M1841.8 446.5h0M1852.4 446.5h0M1894.8 446.5h0M1364.2 460.6h0M1279.3 517h0M1640.1 517h0M1767.5 517h0M1905.4 517h0M1926.7 517h0M1778.1 559.3h0M1311.2 573.4h0M1979.7 573.4h0M1481 587.5h0M1491.6 587.5h0M1608.3 587.5h0M1693.2 587.5h0M1873.6 587.5h0M1863 601.6h0M1300.6 615.7h0M1979.7 615.7h0M1534 629.8h0M1905.4 629.8h0M2032.8 643.9h0M1841.8 658h0M1565.9 700.3h0M1650.8 700.3h0M1990.3 700.3h0M1756.9 728.5h0M1852.4 728.5h0M1894.8 728.5h0M1990.3 742.6h0M2001 742.6h0M1979.7 756.7h0M1247.5 770.8h0M1321.8 770.8h0M1523.4 813.1h0M1608.3 813.1h0M1629.5 813.1h0M1640.1 813.1h0M1682.6 813.1h0M1746.3 813.1h0M1926.7 813.1h0M1279.3 827.2h0M1374.8 827.2h0M1682.6 827.2h0M1714.4 827.2h0M1618.9 883.6h0M1714.4 883.6h0M1746.3 883.6h0M2011.6 911.8h0M1258.1 925.9h0M1353.6 925.9h0M1459.7 925.9h0M1576.5 925.9h0M1852.4 925.9h0M1937.3 925.9h0M2011.6 940h0M2032.8 968.2h0M1247.5 982.3h0M1268.7 982.3h0M1300.6 982.3h0M1343 982.3h0M1587.1 982.3h0M1406.7 996.4h0M1491.6 996.4h0M1512.8 996.4h0M1640.1 996.4h0M1396.1 1010.5h0M1406.7 1010.5h0M1544.6 1010.5h0M1576.5 1010.5h0M1618.9 1010.5h0M1693.2 1010.5h0M1311.2 1024.6h0"/>
<path stroke="#f9eee8" stroke-width="3.9" d="M1247.5 136.3h0M1512.8 136.3h0M1693.2 150.4h0M1746.3 150.4h0M1831.2 150.4h0M1884.2 150.4h0M1417.3 220.9h0M1449.1 220.9h0M1491.6 220.9h0M1534 220.9h0M1640.1 220.9h0M1809.9 220.9h0M1831.2 220.9h0M1353.6 235h0M1396.1 235h0M1555.2 235h0M1608.3 263.2h0M1481 319.6h0M1459.7 361.9h0M1576.5 361.9h0M1682.6 361.9h0M1512.8 404.2h0M1767.5 404.2h0M1470.4 418.3h0M1512.8 418.3h0M1788.7 418.3h0M1682.6 545.2h0M1534 559.3h0M1873.6 559.3h0M1884.2 559.3h0M1937.3 587.5h0M1958.5 587.5h0M1650.8 643.9h0M2032.8 672.1h0M1247.5 714.4h0M1629.5 714.4h0M1905.4 714.4h0M1629.5 728.5h0M1374.8 742.6h0M1502.2 742.6h0M1618.9 742.6h0M1629.5 742.6h0M1746.3 742.6h0M1778.1 742.6h0M1831.2 742.6h0M1916.1 742.6h0M1289.9 756.7h0M1406.7 756.7h0M1459.7 756.7h0M1491.6 756.7h0M1502.2 756.7h0M1672 756.7h0M1693.2 756.7h0M1778.1 756.7h0M1873.6 756.7h0M1258.1 770.8h0M1682.6 770.8h0M1427.9 784.9h0M1502.2 784.9h0M1417.3 869.5h0M1449.1 869.5h0M1491.6 869.5h0M1555.2 869.5h0M1746.3 869.5h0M1905.4 869.5h0M1544.6 883.6h0M1809.9 883.6h0M1406.7 897.7h0M1438.5 897.7h0M1449.1 897.7h0M1481 897.7h0M1534 897.7h0M1746.3 897.7h0M1799.3 897.7h0M1809.9 897.7h0M1916.1 897.7h0M1311.2 911.8h0M2011.6 954.1h0M1268.7 968.2h0M1640.1 968.2h0M1672 968.2h0M1438.5 1024.6h0M1820.5 1024.6h0M1831.2 1024.6h0M2032.8 1038.7h0"/>
<path stroke="#f9eee8" stroke-width="5.15" d="M1364.2 122.2h0M1459.7 122.2h0M1512.8 122.2h0M1672 136.3h0M1714.4 136.3h0M1799.3 136.3h0M1820.5 136.3h0M1841.8 136.3h0M1926.7 136.3h0M1947.9 136.3h0M1268.7 164.5h0M1321.8 164.5h0M1343 164.5h0M1364.2 164.5h0M1417.3 164.5h0M1427.9 164.5h0M1512.8 164.5h0M1820.5 220.9h0M1969.1 220.9h0M1534 235h0M1767.5 263.2h0M1799.3 263.2h0M1916.1 263.2h0M1268.7 277.3h0M1279.3 277.3h0M1364.2 277.3h0M1396.1 277.3h0M1459.7 277.3h0M1481 277.3h0M1491.6 277.3h0M1512.8 277.3h0M1364.2 291.4h0M1374.8 291.4h0M1587.1 291.4h0M1268.7 305.5h0M1300.6 305.5h0M1417.3 305.5h0M1406.7 319.6h0M1417.3 319.6h0M1735.7 319.6h0M1279.3 333.7h0M1449.1 333.7h0M1491.6 333.7h0M1618.9 333.7h0M1629.5 333.7h0M1682.6 333.7h0M1725 333.7h0M1788.7 333.7h0M1778.1 361.9h0M1894.8 361.9h0M1449.1 488.8h0M1512.8 488.8h0M1258.1 502.9h0M1640.1 502.9h0M1788.7 502.9h0M1820.5 502.9h0M1863 502.9h0M1905.4 502.9h0M1247.5 531.1h0M1300.6 531.1h0M1438.5 531.1h0M1449.1 531.1h0M1481 531.1h0M1725 531.1h0M1831.2 531.1h0M1300.6 672.1h0M1364.2 672.1h0M1778.1 672.1h0M1820.5 672.1h0M1841.8 672.1h0M1268.7 784.9h0M1385.5 784.9h0M1512.8 784.9h0M1608.3 784.9h0M1618.9 784.9h0M1629.5 784.9h0M1427.9 799h0M1979.7 799h0M1873.6 897.7h0M1247.5 911.8h0M1279.3 911.8h0M1396.1 911.8h0M1841.8 911.8h0M1268.7 940h0M1279.3 940h0M1321.8 940h0M1343 940h0M1417.3 940h0M1427.9 940h0M1470.4 940h0M1311.2 954.1h0M1332.4 954.1h0M1406.7 954.1h0M1417.3 954.1h0M1438.5 954.1h0M1481 954.1h0M1491.6 954.1h0M1523.4 954.1h0M1555.2 954.1h0M1576.5 954.1h0M1778.1 954.1h0M1321.8 1038.7h0M1353.6 1038.7h0M1374.8 1038.7h0M1385.5 1038.7h0M1406.7 1038.7h0M1438.5 1038.7h0M1470.4 1038.7h0M1523.4 1038.7h0"/>
<path stroke="#f9eee8" stroke-width="6.4" d="M1353.6 122.2h0M1565.9 122.2h0M1576.5 122.2h0M1618.9 122.2h0M1799.3 122.2h0M1258.1 164.5h0M1565.9 164.5h0M1640.1 164.5h0M1672 164.5h0M1703.8 164.5h0M1502.2 178.6h0M1576.5 178.6h0M1608.3 178.6h0M1618.9 178.6h0M1756.9 178.6h0M1958.5 263.2h0M1300.6 277.3h0M1565.9 277.3h0M1650.8 277.3h0M1661.4 277.3h0M1788.7 277.3h0M1831.2 277.3h0M1555.2 291.4h0M1672 291.4h0M1703.8 291.4h0M1714.4 291.4h0M1258.1 319.6h0M1852.4 319.6h0M1534 333.7h0M1746.3 333.7h0M1852.4 333.7h0M1905.4 333.7h0M1332.4 347.8h0M1364.2 347.8h0M1406.7 347.8h0M1449.1 347.8h0M1449.1 474.7h0M1459.7 474.7h0M1481 474.7h0M1491.6 474.7h0M1523.4 474.7h0M1258.1 488.8h0M1820.5 531.1h0M1852.4 531.1h0M1884.2 672.1h0M1247.5 686.2h0M1788.7 686.2h0M1258.1 784.9h0M1534 784.9h0M1650.8 784.9h0M1396.1 799h0M1406.7 799h0M1470.4 799h0M1555.2 799h0M1608.3 799h0M1831.2 799h0M1417.3 841.3h0M1491.6 841.3h0M1587.1 841.3h0M1289.9 855.4h0M1332.4 855.4h0M1353.6 855.4h0M1523.4 855.4h0M1640.1 855.4h0M1746.3 911.8h0M1767.5 911.8h0M1820.5 911.8h0M1894.8 911.8h0M1905.4 911.8h0M1300.6 940h0M1576.5 940h0M1587.1 940h0M1608.3 940h0M1714.4 940h0M1820.5 954.1h0M1778.1 1038.7h0M1820.5 1038.7h0M1990.3 1038.7h0"/>
<path stroke="#f9eee8" stroke-width="7.65" d="M1894.8 164.5h0M1682.6 178.6h0M1693.2 178.6h0M1778.1 178.6h0M1905.4 178.6h0M1385.5 249.1h0M1555.2 249.1h0M1926.7 277.3h0M1937.3 277.3h0M1544.6 305.5h0M1958.5 305.5h0M1767.5 333.7h0M1470.4 347.8h0M1502.2 347.8h0M1587.1 347.8h0M1597.7 347.8h0M1640.1 347.8h0M1788.7 347.8h0M1799.3 347.8h0M1809.9 347.8h0M1820.5 347.8h0M1863 347.8h0M1894.8 347.8h0M1937.3 347.8h0M1937.3 390.1h0M1353.6 474.7h0M1396.1 474.7h0M1470.4 474.7h0M1693.2 474.7h0M1756.9 474.7h0M1767.5 488.8h0M1650.8 686.2h0M1799.3 686.2h0M1852.4 686.2h0M1343 799h0M1937.3 799h0M1894.8 841.3h0M1969.1 841.3h0M1343 855.4h0M1799.3 855.4h0M1841.8 855.4h0M1926.7 855.4h0M1937.3 911.8h0M1926.7 1038.7h0"/>
<path stroke="#f9eee8" stroke-width="8.9" d="M1767.5 178.6h0M1873.6 178.6h0M1343 249.1h0M1873.6 305.5h0M1258.1 474.7h0M1502.2 474.7h0M1746.3 474.7h0M1778.1 474.7h0M1788.7 474.7h0M1809.9 474.7h0M1863 474.7h0M1894.8 474.7h0M1873.6 799h0M1894.8 1038.7h0"/>
<path stroke="#f9eee8" stroke-width="10.15" d="M1820.5 474.7h0M1852.4 474.7h0M1873.6 474.7h0M1905.4 474.7h0M1873.6 686.2h0M1534 799h0M1884.2 1038.7h0"/>
<path stroke="#f9eee8" stroke-width="12.65" d="M1958.5 249.1h0"/>
<path stroke="#fddbc7" stroke-width="2.65" d="M1608.3 150.4h0M1746.3 192.7h0M1831.2 192.7h0M1459.7 206.8h0M1470.4 206.8h0M1884.2 206.8h0M1703.8 376h0M1841.8 376h0M1523.4 404.2h0M1725 404.2h0M2011.6 418.3h0M1258.1 432.4h0M1396.1 432.4h0M1788.7 432.4h0M1852.4 432.4h0M2022.2 446.5h0M1311.2 460.6h0M1311.2 517h0M1746.3 517h0M1820.5 517h0M1863 517h0M1969.1 517h0M2022.2 517h0M1735.7 545.2h0M1268.7 587.5h0M1406.7 587.5h0M1417.3 587.5h0M1438.5 587.5h0M1459.7 587.5h0M1576.5 587.5h0M1523.4 601.6h0M1258.1 615.7h0M1427.9 615.7h0M1523.4 629.8h0M1820.5 629.8h0M1926.7 629.8h0M1406.7 643.9h0M1756.9 643.9h0M1565.9 658h0M1661.4 658h0M1374.8 700.3h0M1555.2 700.3h0M1618.9 700.3h0M1703.8 700.3h0M1809.9 700.3h0M1841.8 700.3h0M1311.2 756.7h0M1268.7 770.8h0M1406.7 813.1h0M1618.9 813.1h0M1852.4 813.1h0M1470.4 827.2h0M1693.2 827.2h0M2001 897.7h0M1523.4 925.9h0M1587.1 925.9h0M1597.7 925.9h0M1714.4 925.9h0M1311.2 982.3h0M1279.3 996.4h0M1438.5 996.4h0M1979.7 996.4h0M1534 1010.5h0"/>
<path stroke="#fddbc7" stroke-width="3.9" d="M1449.1 136.3h0M1459.7 136.3h0M1629.5 136.3h0M1353.6 150.4h0M1650.8 150.4h0M1682.6 150.4h0M1767.5 150.4h0M1587.1 192.7h0M1905.4 192.7h0M1481 220.9h0M1565.9 220.9h0M1725 220.9h0M1746.3 220.9h0M1693.2 235h0M1725 235h0M1841.8 235h0M1512.8 263.2h0M1523.4 263.2h0M1597.7 263.2h0M1618.9 263.2h0M1831.2 263.2h0M1332.4 319.6h0M1470.4 333.7h0M1332.4 361.9h0M1374.8 361.9h0M1396.1 361.9h0M1481 361.9h0M1491.6 361.9h0M1863 361.9h0M1820.5 376h0M1852.4 376h0M1884.2 376h0M1894.8 376h0M1905.4 376h0M1406.7 404.2h0M1417.3 404.2h0M1481 404.2h0M1544.6 404.2h0M1427.9 418.3h0M1459.7 418.3h0M1502.2 418.3h0M1905.4 418.3h0M1905.4 432.4h0M1809.9 446.5h0M1863 446.5h0M1905.4 446.5h0M1523.4 502.9h0M1438.5 545.2h0M1618.9 573.4h0M1396.1 587.5h0M1534 587.5h0M1672 587.5h0M1714.4 587.5h0M1894.8 587.5h0M1534 601.6h0M1820.5 601.6h0M1629.5 615.7h0M1650.8 615.7h0M1937.3 615.7h0M1629.5 629.8h0M1820.5 643.9h0M1926.7 643.9h0M1353.6 658h0M1523.4 658h0M1534 658h0M1544.6 658h0M1820.5 658h0M1926.7 658h0M1947.9 658h0M2001 672.1h0M1873.6 700.3h0M1969.1 700.3h0M1279.3 714.4h0M1311.2 714.4h0M1406.7 714.4h0M1417.3 714.4h0M1427.9 714.4h0M1502.2 714.4h0M1725 714.4h0M2022.2 714.4h0M1481 728.5h0M1523.4 728.5h0M2001 728.5h0M1459.7 742.6h0M1470.4 742.6h0M1481 742.6h0M1714.4 742.6h0M1725 742.6h0M1820.5 742.6h0M1258.1 756.7h0M1279.3 756.7h0M1300.6 756.7h0M1396.1 756.7h0M1470.4 756.7h0M1512.8 756.7h0M1597.7 756.7h0M1629.5 756.7h0M1661.4 756.7h0M1831.2 756.7h0M1332.4 770.8h0M1502.2 770.8h0M1512.8 770.8h0M1544.6 770.8h0M1650.8 770.8h0M1693.2 770.8h0M1247.5 813.1h0M1438.5 813.1h0M1459.7 813.1h0M1502.2 813.1h0M1799.3 813.1h0M1958.5 813.1h0M1650.8 827.2h0M1916.1 827.2h0M1427.9 869.5h0M1597.7 869.5h0M1661.4 869.5h0M1353.6 883.6h0M1385.5 883.6h0M1396.1 883.6h0M1470.4 883.6h0M1491.6 883.6h0M1693.2 883.6h0M1725 883.6h0M1247.5 897.7h0M1268.7 897.7h0M1279.3 897.7h0M1300.6 897.7h0M1491.6 897.7h0M1576.5 897.7h0M1618.9 897.7h0M1714.4 897.7h0M1831.2 897.7h0M1841.8 897.7h0M1300.6 925.9h0M1311.2 925.9h0M1438.5 925.9h0M1449.1 925.9h0M1682.6 925.9h0M1693.2 925.9h0M1703.8 925.9h0M1778.1 925.9h0M1809.9 925.9h0M1873.6 925.9h0M1894.8 925.9h0M1905.4 925.9h0M1926.7 925.9h0M1969.1 925.9h0M1353.6 968.2h0M1523.4 968.2h0M1587.1 968.2h0M1831.2 968.2h0M1841.8 968.2h0M1364.2 982.3h0M1374.8 982.3h0M1449.1 982.3h0M1491.6 982.3h0M1502.2 982.3h0M1512.8 982.3h0M1523.4 982.3h0M1597.7 982.3h0M1979.7 982.3h0M1470.4 1010.5h0M1703.8 1010.5h0M1427.9 1024.6h0M1841.8 1024.6h0M2011.6 1024.6h0M2032.8 1024.6h0"/>
<path stroke="#fddbc7" stroke-width="5.15" d="M1332.4 122.2h0M1300.6 136.3h0M1417.3 136.3h0M1544.6 136.3h0M1650.8 136.3h0M1693.2 136.3h0M1725 136.3h0M1746.3 136.3h0M1831.2 136.3h0M1852.4 136.3h0M1703.8 150.4h0M1353.6 164.5h0M1438.5 164.5h0M1841.8 164.5h0M1852.4 220.9h0M1873.6 235h0M1969.1 235h0M1746.3 263.2h0M1778.1 263.2h0M1863 263.2h0M1427.9 277.3h0M1438.5 291.4h0M1311.2 305.5h0M1396.1 319.6h0M1247.5 333.7h0M1300.6 333.7h0M1321.8 333.7h0M1353.6 333.7h0M1459.7 333.7h0M1512.8 333.7h0M1735.7 333.7h0M1831.2 333.7h0M1841.8 333.7h0M1640.1 361.9h0M1725 361.9h0M1788.7 361.9h0M1809.9 361.9h0M1916.1 361.9h0M1576.5 418.3h0M1650.8 418.3h0M1937.3 418.3h0M1735.7 488.8h0M1725 502.9h0M1746.3 502.9h0M1831.2 502.9h0M1268.7 531.1h0M1417.3 531.1h0M1427.9 531.1h0M1788.7 531.1h0M1863 531.1h0M1417.3 545.2h0M1640.1 545.2h0M1459.7 672.1h0M1470.4 672.1h0M1512.8 672.1h0M1682.6 672.1h0M1979.7 686.2h0M1565.9 756.7h0M1650.8 756.7h0M1247.5 784.9h0M1279.3 784.9h0M1289.9 784.9h0M1300.6 784.9h0M1364.2 784.9h0M1417.3 784.9h0M1481 784.9h0M1555.2 784.9h0M1576.5 784.9h0M2001 784.9h0M2022.2 841.3h0M1523.4 869.5h0M1767.5 897.7h0M1778.1 897.7h0M1268.7 911.8h0M1406.7 911.8h0M1481 911.8h0M1831.2 911.8h0M1502.2 940h0M1279.3 954.1h0M1427.9 954.1h0M1512.8 954.1h0M1926.7 968.2h0M1958.5 968.2h0M1544.6 1024.6h0M1926.7 1024.6h0M1417.3 1038.7h0"/>
<path stroke="#fddbc7" stroke-width="6.4" d="M1247.5 122.2h0M1321.8 122.2h0M1809.9 122.2h0M1534 136.3h0M1703.8 136.3h0M1969.1 136.3h0M1481 164.5h0M1491.6 164.5h0M1618.9 164.5h0M1661.4 164.5h0M1809.9 164.5h0M1831.2 164.5h0M1523.4 178.6h0M1597.7 178.6h0M1629.5 178.6h0M1937.3 235h0M1884.2 263.2h0M1247.5 277.3h0M1343 277.3h0M1353.6 277.3h0M1417.3 277.3h0M1682.6 277.3h0M1693.2 277.3h0M1714.4 277.3h0M1725 277.3h0M1863 277.3h0M1258.1 305.5h0M1279.3 305.5h0M1289.9 305.5h0M1587.1 305.5h0M1640.1 305.5h0M1587.1 319.6h0M1343 333.7h0M1385.5 333.7h0M1587.1 333.7h0M1703.8 333.7h0M1799.3 333.7h0M1820.5 333.7h0M1268.7 347.8h0M1279.3 347.8h0M1289.9 347.8h0M1396.1 347.8h0M1534 361.9h0M1746.3 361.9h0M1820.5 361.9h0M1884.2 361.9h0M1247.5 488.8h0M1343 488.8h0M1672 488.8h0M1682.6 488.8h0M1703.8 488.8h0M1831.2 488.8h0M1767.5 502.9h0M1852.4 502.9h0M1385.5 531.1h0M1470.4 531.1h0M1746.3 531.1h0M1778.1 531.1h0M1555.2 672.1h0M1618.9 672.1h0M1629.5 672.1h0M1640.1 672.1h0M1703.8 672.1h0M1831.2 672.1h0M1863 672.1h0M1894.8 672.1h0M1576.5 686.2h0M1990.3 686.2h0M2001 686.2h0M1343 784.9h0M1353.6 784.9h0M1565.9 784.9h0M1640.1 784.9h0M1672 784.9h0M1279.3 799h0M1618.9 799h0M1406.7 841.3h0M1491.6 911.8h0M1725 911.8h0M1756.9 911.8h0M1353.6 940h0M1385.5 940h0M1597.7 940h0M1618.9 940h0M1640.1 940h0M1746.3 940h0M1831.2 940h0M1544.6 954.1h0M1661.4 954.1h0M1714.4 954.1h0M1746.3 954.1h0M1396.1 1038.7h0"/>
<path stroke="#fddbc7" stroke-width="7.65" d="M1587.1 122.2h0M1640.1 122.2h0M1661.4 122.2h0M1778.1 122.2h0M1863 122.2h0M1916.1 122.2h0M1873.6 136.3h0M1799.3 164.5h0M1863 164.5h0M1916.1 164.5h0M1544.6 178.6h0M1587.1 178.6h0M1650.8 178.6h0M1809.9 178.6h0M1873.6 263.2h0M1703.8 277.3h0M1746.3 277.3h0M1778.1 277.3h0M1926.7 291.4h0M1926.7 305.5h0M1947.9 305.5h0M1894.8 319.6h0M1947.9 333.7h0M1300.6 347.8h0M1321.8 347.8h0M1481 347.8h0M1725 347.8h0M1746.3 347.8h0M1831.2 347.8h0M1969.1 361.9h0M1916.1 390.1h0M1438.5 474.7h0M1650.8 488.8h0M1725 488.8h0M1746.3 488.8h0M1820.5 488.8h0M1873.6 502.9h0M1799.3 531.1h0M1884.2 531.1h0M1565.9 672.1h0M1852.4 672.1h0M1279.3 686.2h0M1555.2 686.2h0M1618.9 686.2h0M1661.4 686.2h0M1831.2 686.2h0M1947.9 784.9h0M1438.5 841.3h0M1481 841.3h0M1608.3 841.3h0M1247.5 855.4h0M1258.1 855.4h0M1406.7 855.4h0M1417.3 855.4h0M1788.7 855.4h0M1831.2 855.4h0M1629.5 940h0M1778.1 940h0M1841.8 940h0M1863 940h0M1682.6 954.1h0M1841.8 1038.7h0"/>
<path stroke="#fddbc7" stroke-width="8.9" d="M1258.1 122.2h0M1937.3 122.2h0M1852.4 164.5h0M1873.6 164.5h0M1926.7 164.5h0M1937.3 164.5h0M1947.9 164.5h0M1672 178.6h0M1820.5 178.6h0M1852.4 178.6h0M1884.2 178.6h0M1640.1 249.1h0M1735.7 249.1h0M1767.5 277.3h0M1799.3 277.3h0M1820.5 277.3h0M1852.4 277.3h0M1884.2 277.3h0M1894.8 277.3h0M1873.6 291.4h0M1820.5 305.5h0M1969.1 305.5h0M1767.5 319.6h0M1884.2 319.6h0M1905.4 319.6h0M1873.6 333.7h0M1343 347.8h0M1778.1 347.8h0M1926.7 347.8h0M1947.9 347.8h0M1820.5 390.1h0M1873.6 488.8h0M1958.5 488.8h0M1767.5 531.1h0M1873.6 531.1h0M1608.3 686.2h0M1672 686.2h0M1682.6 686.2h0M1693.2 686.2h0M1820.5 686.2h0M1926.7 686.2h0M1937.3 686.2h0M1300.6 799h0M1650.8 799h0M1672 799h0M1682.6 799h0M1703.8 799h0M1947.9 799h0M1597.7 841.3h0M1852.4 911.8h0M1926.7 911.8h0M1947.9 1038.7h0"/>
<path stroke="#fddbc7" stroke-width="10.15" d="M1969.1 178.6h0M1544.6 249.1h0M1576.5 249.1h0M1587.1 249.1h0M1873.6 347.8h0M1958.5 347.8h0M1969.1 347.8h0M1767.5 390.1h0M1873.6 390.1h0M1417.3 474.7h0M1958.5 474.7h0M1969.1 488.8h0M1703.8 686.2h0M1873.6 911.8h0M1947.9 940h0"/>
<path stroke="#fddbc7" stroke-width="11.4" d="M1958.5 164.5h0M1258.1 249.1h0M1534 249.1h0M1916.1 249.1h0M1937.3 249.1h0M1969.1 390.1h0M1884.2 474.7h0M1767.5 686.2h0"/>
</g>
<path d="M1241.5 112.4V1046.7H2041" fill="none" stroke="#000" stroke-width="2.9" stroke-linejoin="miter"/>
<path d="M1237.9 122.2h2.2M1237.9 136.3h2.2M1237.9 150.4h2.2M1237.9 164.5h2.2M1237.9 178.6h2.2M1237.9 192.7h2.2M1237.9 206.8h2.2M1237.9 220.9h2.2M1237.9 235h2.2M1237.9 249.1h2.2M1237.9 263.2h2.2M1237.9 277.3h2.2M1237.9 291.4h2.2M1237.9 305.5h2.2M1237.9 319.6h2.2M1237.9 333.7h2.2M1237.9 347.8h2.2M1237.9 361.9h2.2M1237.9 376h2.2M1237.9 390.1h2.2M1237.9 404.2h2.2M1237.9 418.3h2.2M1237.9 432.4h2.2M1237.9 446.5h2.2M1237.9 460.6h2.2M1237.9 474.7h2.2M1237.9 488.8h2.2M1237.9 502.9h2.2M1237.9 517h2.2M1237.9 531.1h2.2M1237.9 545.2h2.2M1237.9 559.3h2.2M1237.9 573.4h2.2M1237.9 587.5h2.2M1237.9 601.6h2.2M1237.9 615.7h2.2M1237.9 629.8h2.2M1237.9 643.9h2.2M1237.9 658h2.2M1237.9 672.1h2.2M1237.9 686.2h2.2M1237.9 700.3h2.2M1237.9 714.4h2.2M1237.9 728.5h2.2M1237.9 742.6h2.2M1237.9 756.7h2.2M1237.9 770.8h2.2M1237.9 784.9h2.2M1237.9 799h2.2M1237.9 813.1h2.2M1237.9 827.2h2.2M1237.9 841.3h2.2M1237.9 855.4h2.2M1237.9 869.5h2.2M1237.9 883.6h2.2M1237.9 897.7h2.2M1237.9 911.8h2.2M1237.9 925.9h2.2M1237.9 940h2.2M1237.9 954.1h2.2M1237.9 968.2h2.2M1237.9 982.3h2.2M1237.9 996.4h2.2M1237.9 1010.5h2.2M1237.9 1024.6h2.2M1237.9 1038.7h2.2M1247.5 1048.1v2.2M1258.11 1048.1v2.2M1268.72 1048.1v2.2M1279.34 1048.1v2.2M1289.95 1048.1v2.2M1300.56 1048.1v2.2M1311.17 1048.1v2.2M1321.78 1048.1v2.2M1332.4 1048.1v2.2M1343.01 1048.1v2.2M1353.62 1048.1v2.2M1364.23 1048.1v2.2M1374.84 1048.1v2.2M1385.46 1048.1v2.2M1396.07 1048.1v2.2M1406.68 1048.1v2.2M1417.29 1048.1v2.2M1427.9 1048.1v2.2M1438.52 1048.1v2.2M1449.13 1048.1v2.2M1459.74 1048.1v2.2M1470.35 1048.1v2.2M1480.96 1048.1v2.2M1491.58 1048.1v2.2M1502.19 1048.1v2.2M1512.8 1048.1v2.2M1523.41 1048.1v2.2M1534.02 1048.1v2.2M1544.64 1048.1v2.2M1555.25 1048.1v2.2M1565.86 1048.1v2.2M1576.47 1048.1v2.2M1587.08 1048.1v2.2M1597.7 1048.1v2.2M1608.31 1048.1v2.2M1618.92 1048.1v2.2M1629.53 1048.1v2.2M1640.14 1048.1v2.2M1650.76 1048.1v2.2M1661.37 1048.1v2.2M1671.98 1048.1v2.2M1682.59 1048.1v2.2M1693.2 1048.1v2.2M1703.82 1048.1v2.2M1714.43 1048.1v2.2M1725.04 1048.1v2.2M1735.65 1048.1v2.2M1746.26 1048.1v2.2M1756.88 1048.1v2.2M1767.49 1048.1v2.2M1778.1 1048.1v2.2M1788.71 1048.1v2.2M1799.32 1048.1v2.2M1809.94 1048.1v2.2M1820.55 1048.1v2.2M1831.16 1048.1v2.2M1841.77 1048.1v2.2M1852.38 1048.1v2.2M1863 1048.1v2.2M1873.61 1048.1v2.2M1884.22 1048.1v2.2M1894.83 1048.1v2.2M1905.44 1048.1v2.2M1916.06 1048.1v2.2M1926.67 1048.1v2.2M1937.28 1048.1v2.2M1947.89 1048.1v2.2M1958.5 1048.1v2.2M1969.12 1048.1v2.2M1979.73 1048.1v2.2M1990.34 1048.1v2.2M2000.95 1048.1v2.2M2011.56 1048.1v2.2M2022.18 1048.1v2.2M2032.79 1048.1v2.2" stroke="#000" stroke-width="2" fill="none"/>
<g font-style="italic" text-anchor="end" font-size="12.8">
<text x="1233.7" y="126.2">STS</text>
<text x="1237.8" y="140.3">SLC25A23</text>
<text x="1234.9" y="154.4">SNPH</text>
<text x="1236.2" y="168.5">IQSEC3</text>
<text x="1236.2" y="182.6">SRCIN1</text>
<text x="1238.8" y="196.7">SMIM10L2A</text>
<text x="1236.7" y="210.8">CALHM6</text>
<text x="1236.1" y="224.9">FBXL16</text>
<text x="1234.6" y="239">TPPP</text>
<text x="1237.4" y="253.1">PPP2R2C</text>
<text x="1234.5" y="267.2">SYT5</text>
<text x="1236.9" y="281.3">PACSIN1</text>
<text x="1233.8" y="295.4">BSN</text>
<text x="1235.8" y="309.5">KCNQ2</text>
<text x="1235.2" y="323.6">MEIS3</text>
<text x="1236.6" y="337.7">SHANK1</text>
<text x="1234.4" y="351.8">JPH4</text>
<text x="1236.6" y="365.9">SHANK3</text>
<text x="1236.7" y="380">C1orf115</text>
<text x="1237" y="394.1">SLC17A7</text>
<text x="1235.3" y="408.2">NAT8L</text>
<text x="1235.4" y="422.3">FADS2</text>
<text x="1235" y="436.4">AMOT</text>
<text x="1237.3" y="450.5">ALDH1A1</text>
<text x="1234.7" y="464.6">MLC1</text>
<text x="1235.8" y="478.7">OPHN1</text>
<text x="1235.8" y="492.8">DDAH1</text>
<text x="1235.4" y="506.9">TTYH1</text>
<text x="1237.4" y="521">PPP1R1B</text>
<text x="1235" y="535.1">NCAN</text>
<text x="1235.7" y="549.2">CPED1</text>
<text x="1237.4" y="563.3">SLCO2B1</text>
<text x="1235.8" y="577.4">ANOS1</text>
<text x="1237.3" y="591.5">ALDH6A1</text>
<text x="1237.5" y="605.6">ZCCHC24</text>
<text x="1235.7" y="619.7">PAQR6</text>
<text x="1236.2" y="633.8">KCNJ10</text>
<text x="1237.4" y="647.9">PLEKHB1</text>
<text x="1235.7" y="662">CSRP1</text>
<text x="1237.4" y="676.1">CABLES1</text>
<text x="1233.5" y="690.2">ST5</text>
<text x="1235.5" y="704.3">PLCD3</text>
<text x="1235.8" y="718.4">MRPS7</text>
<text x="1236.7" y="732.5">SLITRK2</text>
<text x="1236.5" y="746.6">KBTBD3</text>
<text x="1235.7" y="760.7">KCNA2</text>
<text x="1236.3" y="774.8">IGDCC4</text>
<text x="1239.3" y="788.9">ADCYAP1R1</text>
<text x="1236.2" y="803">RNF157</text>
<text x="1236.6" y="817.1">STOML1</text>
<text x="1237" y="831.2">SLC13A4</text>
<text x="1235" y="845.3">RERG</text>
<text x="1235.8" y="859.4">FRMD3</text>
<text x="1235.6" y="873.5">MZT2A</text>
<text x="1236.3" y="887.6">AGPAT1</text>
<text x="1233.6" y="901.7">TEF</text>
<text x="1236.3" y="915.8">B3GAT1</text>
<text x="1235.3" y="929.9">LYNX1</text>
<text x="1235" y="944">FAIM2</text>
<text x="1235.8" y="958.1">MAP1A</text>
<text x="1236.5" y="972.2">TUBB4A</text>
<text x="1236.5" y="986.3">TUBB2B</text>
<text x="1235.8" y="1000.4">GSTM5</text>
<text x="1235.7" y="1014.5">PAQR8</text>
<text x="1233.8" y="1028.6">MT3</text>
<text x="1238.1" y="1042.7">SELENOW</text>
</g>
<g text-anchor="end" font-size="12.8">
<text transform="translate(1251.2 1054.6) rotate(-90)">Inh L1–2 PAX6 CDH12</text>
<text transform="translate(1261.81 1054.6) rotate(-90)">Inh L1–2 PAX6 TNFAIP8L3</text>
<text transform="translate(1272.42 1054.6) rotate(-90)">Inh L1 SST NMBR</text>
<text transform="translate(1283.04 1054.6) rotate(-90)">Inh L1–4 LAMP5 LCP2</text>
<text transform="translate(1293.65 1054.6) rotate(-90)">Inh L1–2 LAMP5 DBP</text>
<text transform="translate(1304.26 1054.6) rotate(-90)">Inh L2–6 LAMP5 CA1</text>
<text transform="translate(1314.87 1054.6) rotate(-90)">Inh L1 SST CHRNA4</text>
<text transform="translate(1325.48 1054.6) rotate(-90)">Inh L1–2 GAD1 MC4R</text>
<text transform="translate(1336.1 1054.6) rotate(-90)">Inh L1–2 SST BAGE2</text>
<text transform="translate(1346.71 1054.6) rotate(-90)">Inh L1–3 PAX6 SYT6</text>
<text transform="translate(1357.32 1054.6) rotate(-90)">Inh L1–2 VIP TSPAN12</text>
<text transform="translate(1367.93 1054.6) rotate(-90)">Inh L1–4 VIP CHRNA6</text>
<text transform="translate(1378.54 1054.6) rotate(-90)">Inh L1–3 VIP ADAMTSL1</text>
<text transform="translate(1389.16 1054.6) rotate(-90)">Inh L1–4 VIP PENK</text>
<text transform="translate(1399.77 1054.6) rotate(-90)">Inh L2–6 VIP QPCT</text>
<text transform="translate(1410.38 1054.6) rotate(-90)">Inh L3–6 VIP HS3ST3A1</text>
<text transform="translate(1420.99 1054.6) rotate(-90)">Inh L1–2 VIP PCDH20</text>
<text transform="translate(1431.6 1054.6) rotate(-90)">Inh L2–5 VIP SERPINF1</text>
<text transform="translate(1442.22 1054.6) rotate(-90)">Inh L2–5 VIP TYR</text>
<text transform="translate(1452.83 1054.6) rotate(-90)">Inh L1–3 VIP CHRM2</text>
<text transform="translate(1463.44 1054.6) rotate(-90)">Inh L2–4 VIP CBLN1</text>
<text transform="translate(1474.05 1054.6) rotate(-90)">Inh L1–3 VIP CCDC184</text>
<text transform="translate(1484.66 1054.6) rotate(-90)">Inh L1–3 VIP GGH</text>
<text transform="translate(1495.28 1054.6) rotate(-90)">Inh L1–2 VIP LBH</text>
<text transform="translate(1505.89 1054.6) rotate(-90)">Inh L2–3 VIP CASC6</text>
<text transform="translate(1516.5 1054.6) rotate(-90)">Inh L2–4 VIP SPAG17</text>
<text transform="translate(1527.11 1054.6) rotate(-90)">Inh L1–4 VIP OPRM1</text>
<text transform="translate(1537.72 1054.6) rotate(-90)">Inh L3–6 SST NPY</text>
<text transform="translate(1548.34 1054.6) rotate(-90)">Inh L3–6 SST HPGD</text>
<text transform="translate(1558.95 1054.6) rotate(-90)">Inh L4–6 SST B3GAT2</text>
<text transform="translate(1569.56 1054.6) rotate(-90)">Inh L5–6 SST KLHDC8A</text>
<text transform="translate(1580.17 1054.6) rotate(-90)">Inh L5–6 SST NPM1P10</text>
<text transform="translate(1590.78 1054.6) rotate(-90)">Inh L4–6 SST GXYLT2</text>
<text transform="translate(1601.4 1054.6) rotate(-90)">Inh L4–5 SST STK32A</text>
<text transform="translate(1612.01 1054.6) rotate(-90)">Inh L1–3 SST CALB1</text>
<text transform="translate(1622.62 1054.6) rotate(-90)">Inh L3–5 SST ADGRG6</text>
<text transform="translate(1633.23 1054.6) rotate(-90)">Inh L2–4 SST FRZB</text>
<text transform="translate(1643.84 1054.6) rotate(-90)">Inh L5–6 SST TH</text>
<text transform="translate(1654.46 1054.6) rotate(-90)">Inh L5–6 GAD1 GLP1R</text>
<text transform="translate(1665.07 1054.6) rotate(-90)">Inh L5–6 PVALB LGR5</text>
<text transform="translate(1675.68 1054.6) rotate(-90)">Inh L4–5 PVALB MEPE</text>
<text transform="translate(1686.29 1054.6) rotate(-90)">Inh L2–4 PVALB WFDC2</text>
<text transform="translate(1696.9 1054.6) rotate(-90)">Inh L4–6 PVALB SULF1</text>
<text transform="translate(1707.52 1054.6) rotate(-90)">Inh L5–6 SST MIR548F2</text>
<text transform="translate(1718.13 1054.6) rotate(-90)">Inh L2–5 PVALB SCUBE3</text>
<text transform="translate(1728.74 1054.6) rotate(-90)">Exc L2 LAMP5 LTK</text>
<text transform="translate(1739.35 1054.6) rotate(-90)">Exc L2–4 LINC00507 GLP2R</text>
<text transform="translate(1749.96 1054.6) rotate(-90)">Exc L2–3 LINC00507 FREM3</text>
<text transform="translate(1760.58 1054.6) rotate(-90)">Exc L5–6 THEMIS C1QL3</text>
<text transform="translate(1771.19 1054.6) rotate(-90)">Exc L3–4 RORB CARM1P1</text>
<text transform="translate(1781.8 1054.6) rotate(-90)">Exc L3–5 RORB ESR1</text>
<text transform="translate(1792.41 1054.6) rotate(-90)">Exc L3–5 RORB COL22A1</text>
<text transform="translate(1803.02 1054.6) rotate(-90)">Exc L3–5 RORB FILIP1L</text>
<text transform="translate(1813.64 1054.6) rotate(-90)">Exc L3–5 RORB TWIST2</text>
<text transform="translate(1824.25 1054.6) rotate(-90)">Exc L4–5 RORB FOLH1B</text>
<text transform="translate(1834.86 1054.6) rotate(-90)">Exc L4–6 RORB SEMA3E</text>
<text transform="translate(1845.47 1054.6) rotate(-90)">Exc L4–5 RORB DAPK2</text>
<text transform="translate(1856.08 1054.6) rotate(-90)">Exc L5–6 RORB TTC12</text>
<text transform="translate(1866.7 1054.6) rotate(-90)">Exc L4–6 RORB C1R</text>
<text transform="translate(1877.31 1054.6) rotate(-90)">Exc L4–5 FEZF2 SCN4B</text>
<text transform="translate(1887.92 1054.6) rotate(-90)">Exc L5–6 THEMIS DCSTAMP</text>
<text transform="translate(1898.53 1054.6) rotate(-90)">Exc L5–6 THEMIS CRABP1</text>
<text transform="translate(1909.14 1054.6) rotate(-90)">Exc L5–6 THEMIS FGF10</text>
<text transform="translate(1919.76 1054.6) rotate(-90)">Exc L4–6 FEZF2 IL26</text>
<text transform="translate(1930.37 1054.6) rotate(-90)">Exc L5–6 FEZF2 ABO</text>
<text transform="translate(1940.98 1054.6) rotate(-90)">Exc L6 FEZF2 SCUBE1</text>
<text transform="translate(1951.59 1054.6) rotate(-90)">Exc L5–6 SLC17A7 IL15</text>
<text transform="translate(1962.2 1054.6) rotate(-90)">Exc L6 FEZF2 OR2T8</text>
<text transform="translate(1972.82 1054.6) rotate(-90)">Exc L5–6 FEZF2 EFTUD1P1</text>
<text transform="translate(1983.43 1054.6) rotate(-90)">OPC L1–6 PDGFRA</text>
<text transform="translate(1994.04 1054.6) rotate(-90)">Astro L1–6 FGFR3 SLC14A1</text>
<text transform="translate(2004.65 1054.6) rotate(-90)">Astro L1–2 FGFR3 GFAP</text>
<text transform="translate(2015.26 1054.6) rotate(-90)">Oligo L1–6 OPALIN</text>
<text transform="translate(2025.88 1054.6) rotate(-90)">Endo L2–6 NOSTRIN</text>
<text transform="translate(2036.49 1054.6) rotate(-90)">Micro L1–3 TYROBP</text>
</g>
<g text-anchor="middle" font-size="15.4">
<text x="2111.8" y="146.3">Neuronal</text>
<text x="2111.8" y="165">cells</text>
<text x="2111.8" y="275.8">Excitatory</text>
<text x="2111.8" y="294.9">neurons</text>
<text x="2111.8" y="473.8">Astrocytes</text>
<text x="2111.8" y="558.8">Microglia</text>
<text x="2111.8" y="605.3">Non-neuronal</text>
<text x="2111.8" y="623.6">cells</text>
<text x="2111.8" y="692.6">Neuronal and</text>
<text x="2111.8" y="711.6">non-neuronal</text>
<text x="2111.8" y="729.6">cells</text>
<text x="2111.8" y="797.9">Inhibitory</text>
<text x="2111.8" y="816.4">neurons</text>
<text x="2111.8" y="884">Neuronal</text>
<text x="2111.8" y="902.4">cells</text>
<text x="2111.8" y="943">Excitatory</text>
<text x="2111.8" y="961.4">neurons</text>
<text x="2111.8" y="990.3">Excitatory</text>
<text x="2111.8" y="1008.4">neurons and</text>
<text x="2111.8" y="1027.7">non-neuronal</text>
<text x="2111.8" y="1046">cells</text>
</g>
<path d="M977.1 133.95H1053.4V148.1H977.1M977.1 162.25H1057.3V176.4H977.1M1053.4 141.02H1068.5V169.32H1057.3M977.1 119.8H1074.3V155.17H1068.5M977.1 190.54H1079.4V204.69H977.1M977.1 247.14H1029.7V261.29H977.1M977.1 232.99H1040.9V254.22H1029.7M977.1 218.84H1053.7V243.6H1040.9M977.1 275.44H1034.8V289.59H977.1M977.1 303.74H1025.8V317.89H977.1M977.1 332.03H1037.2V346.18H977.1M1025.8 310.81H1047.2V339.11H1037.2M1034.8 282.51H1056V324.96H1047.2M1053.7 231.22H1063V303.74H1056M977.1 374.48H1031.1V388.63H977.1M977.1 360.33H1071V381.56H1031.1M1063 267.48H1084.6V370.94H1071M1079.4 197.62H1090.5V319.21H1084.6M1074.3 137.49H1095V258.42H1090.5M977.1 445.23H1009.1V459.38H977.1M977.1 431.08H1019.2V452.3H1009.1M977.1 416.93H1040.1V441.69H1019.2M977.1 487.67H1047.9V501.82H977.1M977.1 473.52H1056.5V494.75H1047.9M1040.1 429.31H1057.8V484.14H1056.5M977.1 515.97H1065.1V530.12H977.1M1057.8 456.72H1071V523.05H1065.1M977.1 402.78H1076.2V489.88H1071M977.1 544.27H1066V558.42H977.1M977.1 643.31H1024.7V657.46H977.1M977.1 629.16H1026.1V650.39H1024.7M977.1 615.01H1040V639.78H1026.1M977.1 600.87H1046.7V627.4H1040M977.1 586.72H1064.3V614.13H1046.7M977.1 572.57H1075.5V600.42H1064.3M1066 551.34H1092.2V586.5H1075.5M977.1 685.76H1059.8V699.91H977.1M977.1 671.61H1079.9V692.83H1059.8M977.1 728.21H1070.2V742.36H977.1M977.1 714.06H1081V735.28H1070.2M1079.9 682.22H1092.2V724.67H1081M1092.2 568.92H1099.4V703.45H1092.2M1076.2 446.33H1105.2V636.18H1099.4M977.1 784.8H1045.9V798.95H977.1M977.1 770.65H1062.6V791.88H1045.9M977.1 756.5H1064V781.27H1062.6M977.1 813.1H1068V827.25H977.1M977.1 841.4H1076.6V855.55H977.1M1068 820.18H1091.6V848.47H1076.6M1064 768.89H1100V834.32H1091.6M977.1 869.7H1066V883.85H977.1M977.1 897.99H1070.4V912.14H977.1M1066 876.77H1084.9V905.07H1070.4M977.1 954.59H1048.7V968.74H977.1M977.1 940.44H1059.5V961.67H1048.7M977.1 926.29H1065.1V951.05H1059.5M977.1 982.89H1051.8V997.04H977.1M977.1 1025.34H1043.9V1039.48H977.1M977.1 1011.19H1066.5V1032.41H1043.9M1051.8 989.96H1073.8V1021.8H1066.5M1065.1 938.67H1089.7V1005.88H1073.8M1084.9 890.92H1102.8V972.28H1089.7M1100 801.6H1116.9V931.6H1102.8M1105.2 541.26H1117.6V866.6H1116.9M1095 197.95H1125.6V703.93H1117.6" fill="none" stroke="#000" stroke-width="2" stroke-linejoin="miter" stroke-linecap="butt"/>
<text x="161.6" y="84.3" font-size="28.8" font-weight="bold">a</text>
<text x="188.3" y="84.3" font-size="18">Paediatric data</text>
<text x="1223.3" y="84.3" font-size="28.8" font-weight="bold">b</text>
<text x="1250.3" y="84.3" font-size="18">Adult data</text>
<text x="509.6" y="1251.8" font-size="18">Cell types</text>
<text x="1590.4" y="1251.8" font-size="18">Cell types</text>
<defs><linearGradient id="cb" x1="0" y1="0" x2="0" y2="1"><stop offset="0" stop-color="#b2182b"/><stop offset="0.125" stop-color="#d6604d"/><stop offset="0.25" stop-color="#f4a582"/><stop offset="0.375" stop-color="#fddbc7"/><stop offset="0.5" stop-color="#f7f7f7"/><stop offset="0.625" stop-color="#d1e5f0"/><stop offset="0.75" stop-color="#92c5de"/><stop offset="0.875" stop-color="#4393c3"/><stop offset="1" stop-color="#2166ac"/></linearGradient></defs>
<text x="492.2" y="10" font-size="12.8">Average Expression</text>
<rect x="491.1" y="18.1" width="16" height="73.8" fill="url(#cb)"/>
<text x="513.1" y="30.3" font-size="12.8">2</text>
<text x="513.1" y="44.7" font-size="12.8">1</text>
<text x="513.1" y="59.2" font-size="12.8">0</text>
<text x="513.1" y="73.7" font-size="12.8">−1</text>
<text x="513.1" y="88.3" font-size="12.8">−2</text>
<path d="M491.1 25.7h3.2M503.9 25.7h3.2M491.1 40.1h3.2M503.9 40.1h3.2M491.1 54.6h3.2M503.9 54.6h3.2M491.1 69.1h3.2M503.9 69.1h3.2M491.1 83.7h3.2M503.9 83.7h3.2" stroke="#fff" stroke-width="0.9" fill="none"/>
<text x="627.4" y="10" font-size="12.8">Percent Expressed</text>
<circle cx="634" cy="31.7" r="1" fill="#000"/>
<text x="648" y="36.3" font-size="12.8">0</text>
<circle cx="634" cy="46.3" r="3.05" fill="#000"/>
<text x="648" y="50.9" font-size="12.8">25</text>
<circle cx="634" cy="60.9" r="4.6" fill="#000"/>
<text x="648" y="65.5" font-size="12.8">50</text>
<circle cx="634" cy="75.7" r="6.1" fill="#000"/>
<text x="648" y="80.3" font-size="12.8">75</text>
<text x="1546.1" y="10" font-size="12.8">Average Expression</text>
<rect x="1545" y="18.1" width="16" height="73.8" fill="url(#cb)"/>
<text x="1567" y="30.3" font-size="12.8">2</text>
<text x="1567" y="44.7" font-size="12.8">1</text>
<text x="1567" y="59.2" font-size="12.8">0</text>
<text x="1567" y="73.7" font-size="12.8">−1</text>
<text x="1567" y="88.3" font-size="12.8">−2</text>
<path d="M1545 25.7h3.2M1557.8 25.7h3.2M1545 40.1h3.2M1557.8 40.1h3.2M1545 54.6h3.2M1557.8 54.6h3.2M1545 69.1h3.2M1557.8 69.1h3.2M1545 83.7h3.2M1557.8 83.7h3.2" stroke="#fff" stroke-width="0.9" fill="none"/>
<text x="1683.7" y="10" font-size="12.8">Percent Expressed</text>
<circle cx="1694.2" cy="24.3" r="1" fill="#000"/>
<text x="1709" y="28.9" font-size="12.8">0</text>
<circle cx="1694.2" cy="38.9" r="3" fill="#000"/>
<text x="1709" y="43.5" font-size="12.8">25</text>
<circle cx="1694.2" cy="53.5" r="4.45" fill="#000"/>
<text x="1709" y="58.1" font-size="12.8">50</text>
<circle cx="1694.2" cy="68.1" r="6.05" fill="#000"/>
<text x="1709" y="72.7" font-size="12.8">75</text>
<circle cx="1694.2" cy="83.4" r="7.5" fill="#000"/>
<text x="1709" y="88" font-size="12.8">100</text>
</svg>
</body></html>
